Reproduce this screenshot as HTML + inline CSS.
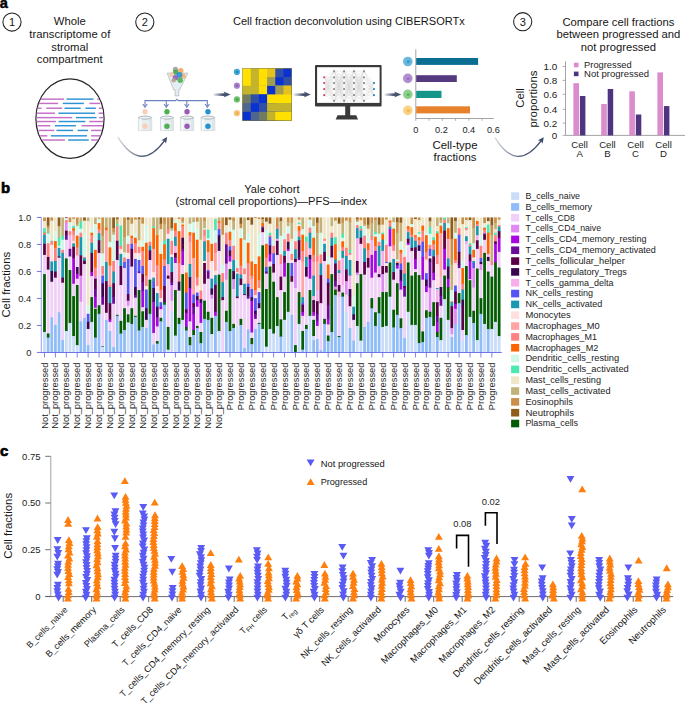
<!DOCTYPE html>
<html><head><meta charset="utf-8"><style>
html,body{margin:0;padding:0;background:#fff;}
svg{display:block;font-family:"Liberation Sans", sans-serif;}
</style></head><body>
<svg width="685" height="703" viewBox="0 0 685 703">
<rect width="685" height="703" fill="#fff"/>
<text x="-0.30" y="7.80" font-size="14.6" text-anchor="start" fill="#000" font-weight="bold" stroke="#000" stroke-width="0.45">a</text><circle cx="12.0" cy="22.0" r="9.1" fill="none" stroke="#222" stroke-width="1.05"/><text x="12.00" y="26.00" font-size="11" text-anchor="middle" fill="#141414" >1</text><circle cx="144.8" cy="22.1" r="9.1" fill="none" stroke="#222" stroke-width="1.05"/><text x="144.80" y="26.10" font-size="11" text-anchor="middle" fill="#141414" >2</text><circle cx="522.7" cy="21.7" r="9.1" fill="none" stroke="#222" stroke-width="1.05"/><text x="522.70" y="25.70" font-size="11" text-anchor="middle" fill="#141414" >3</text><text x="69.80" y="25.40" font-size="11.3" text-anchor="middle" fill="#161616" >Whole</text><text x="69.80" y="37.95" font-size="11.3" text-anchor="middle" fill="#161616" >transcriptome of</text><text x="69.80" y="50.50" font-size="11.3" text-anchor="middle" fill="#161616" >stromal</text><text x="69.80" y="63.05" font-size="11.3" text-anchor="middle" fill="#161616" >compartment</text><ellipse cx="70" cy="118.6" rx="34.1" ry="39.8" fill="#fff" stroke="#262626" stroke-width="1.2"/><rect x="40.8" y="98.39999999999999" width="23.3" height="1.45" fill="#c66fc9"/><rect x="66.5" y="98.39999999999999" width="27.0" height="1.45" fill="#2e93d6"/><rect x="97.2" y="98.39999999999999" width="1.7" height="1.45" fill="#c66fc9"/><rect x="39.2" y="102.7" width="18.9" height="1.45" fill="#c66fc9"/><rect x="62.8" y="102.7" width="21.0" height="1.45" fill="#2e93d6"/><rect x="89.5" y="102.7" width="10.8" height="1.45" fill="#c66fc9"/><rect x="37.4" y="107.5" width="4.1" height="1.45" fill="#c66fc9"/><rect x="46.2" y="107.5" width="16.0" height="1.45" fill="#c66fc9"/><rect x="64.5" y="107.5" width="16.2" height="1.45" fill="#2e93d6"/><rect x="85.4" y="107.5" width="10.5" height="1.45" fill="#2e93d6"/><rect x="98.9" y="107.5" width="3.4" height="1.45" fill="#c66fc9"/><rect x="36.8" y="112.5" width="18.2" height="1.45" fill="#c66fc9"/><rect x="58.4" y="112.5" width="36.7" height="1.45" fill="#2e93d6"/><rect x="98.6" y="112.5" width="4.4" height="1.45" fill="#c66fc9"/><rect x="36.8" y="116.89999999999999" width="35.4" height="1.45" fill="#c66fc9"/><rect x="75.9" y="116.89999999999999" width="20.6" height="1.45" fill="#2e93d6"/><rect x="99.2" y="116.89999999999999" width="3.8" height="1.45" fill="#c66fc9"/><rect x="36.8" y="120.8" width="19.1" height="1.45" fill="#c66fc9"/><rect x="58.6" y="120.8" width="26.8" height="1.45" fill="#2e93d6"/><rect x="89.2" y="120.8" width="13.8" height="1.45" fill="#c66fc9"/><rect x="37.4" y="125.0" width="12.9" height="1.45" fill="#c66fc9"/><rect x="55.0" y="125.0" width="20.9" height="1.45" fill="#2e93d6"/><rect x="81.6" y="125.0" width="21.4" height="1.45" fill="#c66fc9"/><rect x="38.8" y="129.70000000000002" width="15.5" height="1.45" fill="#c66fc9"/><rect x="56.4" y="129.70000000000002" width="16.6" height="1.45" fill="#2e93d6"/><rect x="77.6" y="129.70000000000002" width="10.5" height="1.45" fill="#2e93d6"/><rect x="91.1" y="129.70000000000002" width="10.5" height="1.45" fill="#c66fc9"/><rect x="40.1" y="135.10000000000002" width="7.2" height="1.45" fill="#c66fc9"/><rect x="50.9" y="135.10000000000002" width="36.1" height="1.45" fill="#2e93d6"/><rect x="91.1" y="135.10000000000002" width="9.2" height="1.45" fill="#c66fc9"/><rect x="42.2" y="139.3" width="22.7" height="1.45" fill="#c66fc9"/><rect x="68.2" y="139.3" width="20.6" height="1.45" fill="#2e93d6"/><rect x="91.1" y="139.3" width="7.1" height="1.45" fill="#c66fc9"/><defs><linearGradient id="cg117" gradientUnits="userSpaceOnUse" x1="117.9" y1="0" x2="167.2" y2="0"><stop offset="0" stop-color="#3b4a68" stop-opacity="0.2"/><stop offset="0.5" stop-color="#3b4a68" stop-opacity="0.85"/><stop offset="1" stop-color="#3b4a68"/></linearGradient></defs><path d="M117.9,137.1 Q140.45,173.55 164.54,140.63" fill="none" stroke="url(#cg117)" stroke-width="1.35"/><path d="M167.20,137.00 L166.00,143.55 L164.37,140.87 L161.32,140.13 Z" fill="#3b4a68"/><defs><linearGradient id="cg495" gradientUnits="userSpaceOnUse" x1="495.0" y1="0" x2="543.8" y2="0"><stop offset="0" stop-color="#3b4a68" stop-opacity="0.2"/><stop offset="0.5" stop-color="#3b4a68" stop-opacity="0.85"/><stop offset="1" stop-color="#3b4a68"/></linearGradient></defs><path d="M495.0,137.6 Q516.60,173.40 541.10,140.80" fill="none" stroke="url(#cg495)" stroke-width="1.35"/><path d="M543.80,137.20 L542.51,143.74 L540.92,141.04 L537.88,140.25 Z" fill="#3b4a68"/><defs><linearGradient id="ga213" x1="0" x2="1"><stop offset="0" stop-color="#3b4a68" stop-opacity="0.1"/><stop offset="0.55" stop-color="#3b4a68" stop-opacity="0.95"/></linearGradient></defs><path d="M213.5,93.5 L224.6,93.3 L223.6,91.6 L230.6,94.6 L223.6,97.6 L224.6,95.89999999999999 L213.5,95.69999999999999 Z" fill="url(#ga213)"/><defs><linearGradient id="ga293" x1="0" x2="1"><stop offset="0" stop-color="#3b4a68" stop-opacity="0.1"/><stop offset="0.55" stop-color="#3b4a68" stop-opacity="0.95"/></linearGradient></defs><path d="M293.5,93.5 L304.8,93.3 L303.8,91.6 L310.8,94.6 L303.8,97.6 L304.8,95.89999999999999 L293.5,95.69999999999999 Z" fill="url(#ga293)"/><defs><linearGradient id="ga384" x1="0" x2="1"><stop offset="0" stop-color="#3b4a68" stop-opacity="0.1"/><stop offset="0.55" stop-color="#3b4a68" stop-opacity="0.95"/></linearGradient></defs><path d="M384.5,93.5 L395.2,93.3 L394.2,91.6 L401.2,94.6 L394.2,97.6 L395.2,95.89999999999999 L384.5,95.69999999999999 Z" fill="url(#ga384)"/><text x="348.90" y="25.00" font-size="11.05" text-anchor="middle" fill="#161616" >Cell fraction deconvolution using CIBERSORTx</text><path d="M167.1,73.1 L187.9,73.1 L179.6,89.9 L178.8,89.9 L178.8,95.9 L175.1,95.9 L175.1,89.9 L173.7,89.9 Z" fill="#e3eff5" stroke="#a6a6a6" stroke-width="0.6"/><circle cx="175.4" cy="69.4" r="2.6" fill="#a0a0a0" fill-opacity="0.9"/><circle cx="180.8" cy="70.8" r="2.7" fill="#f3a55f" fill-opacity="0.9"/><circle cx="175.7" cy="72.2" r="2.6" fill="#46a84a" fill-opacity="0.9"/><circle cx="171.7" cy="74.8" r="2.5" fill="#f4c9ad" fill-opacity="0.9"/><circle cx="183.3" cy="76.2" r="2.5" fill="#f2b374" fill-opacity="0.9"/><circle cx="179.4" cy="75.1" r="3.0" fill="#2c8fd0" fill-opacity="0.9"/><circle cx="175.4" cy="77.7" r="2.7" fill="#8e5bbf" fill-opacity="0.9"/><circle cx="173.7" cy="80.2" r="2.2" fill="#b99f8f" fill-opacity="0.9"/><circle cx="180.2" cy="80.2" r="2.7" fill="#4ab04c" fill-opacity="0.9"/><path d="M145,106 L145,100.6 L175.6,100.6 L176.9,99.2 L178.2,100.6 L207.3,100.6 L207.3,106" fill="none" stroke="#6f82bd" stroke-width="1.1"/><path d="M166.3,100.6 L166.3,106" stroke="#6f82bd" stroke-width="1.1"/><path d="M186.8,100.6 L186.8,106" stroke="#6f82bd" stroke-width="1.1"/><path d="M142.8,104 L145,107.2 L147.2,104" fill="none" stroke="#6f82bd" stroke-width="1.1"/><path d="M164.10000000000002,104 L166.3,107.2 L168.5,104" fill="none" stroke="#6f82bd" stroke-width="1.1"/><path d="M184.60000000000002,104 L186.8,107.2 L189.0,104" fill="none" stroke="#6f82bd" stroke-width="1.1"/><path d="M205.10000000000002,104 L207.3,107.2 L209.5,104" fill="none" stroke="#6f82bd" stroke-width="1.1"/><circle cx="145.05" cy="111.8" r="2.7" fill="#f8d0b8"/><path d="M138.4,117.4 L138.4,130.6 L151.7,130.6 L151.7,117.4" fill="#e8eef1" stroke="#c5ccd0" stroke-width="0.6"/><ellipse cx="145.05" cy="117.6" rx="6.35" ry="1.5" fill="#eef3f5" stroke="#aab5bb" stroke-width="1.0"/><rect x="149.10" y="119" width="2" height="11.3" fill="#dde6ea"/><rect x="139.4" y="118.5" width="2" height="12" fill="#f7fafb"/><circle cx="145.05" cy="126.2" r="2.7" fill="#f8d0b8"/><circle cx="166.95" cy="111.8" r="2.7" fill="#4caf50"/><path d="M160.5,117.4 L160.5,130.6 L173.4,130.6 L173.4,117.4" fill="#e8eef1" stroke="#c5ccd0" stroke-width="0.6"/><ellipse cx="166.95" cy="117.6" rx="6.15" ry="1.5" fill="#eef3f5" stroke="#aab5bb" stroke-width="1.0"/><rect x="170.80" y="119" width="2" height="11.3" fill="#dde6ea"/><rect x="161.5" y="118.5" width="2" height="12" fill="#f7fafb"/><circle cx="166.95" cy="126.2" r="2.7" fill="#4caf50"/><circle cx="187.05" cy="111.8" r="2.7" fill="#9b59b6"/><path d="M180.4,117.4 L180.4,130.6 L193.7,130.6 L193.7,117.4" fill="#e8eef1" stroke="#c5ccd0" stroke-width="0.6"/><ellipse cx="187.05" cy="117.6" rx="6.35" ry="1.5" fill="#eef3f5" stroke="#aab5bb" stroke-width="1.0"/><rect x="191.10" y="119" width="2" height="11.3" fill="#dde6ea"/><rect x="181.4" y="118.5" width="2" height="12" fill="#f7fafb"/><circle cx="187.05" cy="126.2" r="2.7" fill="#9b59b6"/><circle cx="207.95" cy="111.8" r="2.7" fill="#2393cf"/><path d="M201.1,117.4 L201.1,130.6 L214.8,130.6 L214.8,117.4" fill="#e8eef1" stroke="#c5ccd0" stroke-width="0.6"/><ellipse cx="207.95" cy="117.6" rx="6.55" ry="1.5" fill="#eef3f5" stroke="#aab5bb" stroke-width="1.0"/><rect x="212.20" y="119" width="2" height="11.3" fill="#dde6ea"/><rect x="202.1" y="118.5" width="2" height="12" fill="#f7fafb"/><circle cx="207.95" cy="126.2" r="2.7" fill="#2393cf"/><circle cx="236.9" cy="71.9" r="3.1" fill="#45a8d8"/><circle cx="237.1" cy="72.0" r="1.2" fill="#1f82bd"/><circle cx="236.9" cy="85.7" r="3.1" fill="#a883cc"/><circle cx="237.1" cy="85.8" r="1.2" fill="#8e5fb8"/><circle cx="236.9" cy="99.4" r="3.1" fill="#70c070"/><circle cx="237.1" cy="99.5" r="1.2" fill="#48a448"/><circle cx="236.9" cy="113.2" r="3.1" fill="#f8c577"/><circle cx="237.1" cy="113.3" r="1.2" fill="#f0a848"/><rect x="242.60" y="68.40" width="49.00" height="52.10" fill="#ffe000"/><rect x="250.77" y="68.40" width="40.83" height="52.10" fill="#c4b42c"/><rect x="258.93" y="68.40" width="32.67" height="52.10" fill="#ffe000"/><rect x="267.10" y="68.40" width="24.50" height="52.10" fill="#e6c21c"/><rect x="275.27" y="68.40" width="16.33" height="52.10" fill="#3050a8"/><rect x="283.43" y="68.40" width="8.17" height="52.10" fill="#0a32d0"/><rect x="242.60" y="77.08" width="49.00" height="43.42" fill="#ffe000"/><rect x="250.77" y="77.08" width="40.83" height="43.42" fill="#c4b42c"/><rect x="258.93" y="77.08" width="32.67" height="43.42" fill="#ffe000"/><rect x="267.10" y="77.08" width="24.50" height="43.42" fill="#a09c50"/><rect x="275.27" y="77.08" width="16.33" height="43.42" fill="#0a32d0"/><rect x="283.43" y="77.08" width="8.17" height="43.42" fill="#3050a8"/><rect x="242.60" y="85.77" width="49.00" height="34.73" fill="#c4b42c"/><rect x="250.77" y="85.77" width="40.83" height="34.73" fill="#c4b42c"/><rect x="258.93" y="85.77" width="32.67" height="34.73" fill="#ffe000"/><rect x="267.10" y="85.77" width="24.50" height="34.73" fill="#0a32d0"/><rect x="275.27" y="85.77" width="16.33" height="34.73" fill="#a09c50"/><rect x="283.43" y="85.77" width="8.17" height="34.73" fill="#e6c21c"/><rect x="242.60" y="94.45" width="49.00" height="26.05" fill="#707c62"/><rect x="250.77" y="94.45" width="40.83" height="26.05" fill="#3050a8"/><rect x="258.93" y="94.45" width="32.67" height="26.05" fill="#0a32d0"/><rect x="267.10" y="94.45" width="24.50" height="26.05" fill="#ffe000"/><rect x="275.27" y="94.45" width="16.33" height="26.05" fill="#ffe000"/><rect x="283.43" y="94.45" width="8.17" height="26.05" fill="#ffe000"/><rect x="242.60" y="103.13" width="49.00" height="17.37" fill="#4e6690"/><rect x="250.77" y="103.13" width="40.83" height="17.37" fill="#0a32d0"/><rect x="258.93" y="103.13" width="32.67" height="17.37" fill="#3050a8"/><rect x="267.10" y="103.13" width="24.50" height="17.37" fill="#c4b42c"/><rect x="275.27" y="103.13" width="16.33" height="17.37" fill="#c4b42c"/><rect x="283.43" y="103.13" width="8.17" height="17.37" fill="#c4b42c"/><rect x="242.60" y="111.82" width="49.00" height="8.68" fill="#0a32d0"/><rect x="250.77" y="111.82" width="40.83" height="8.68" fill="#4e6690"/><rect x="258.93" y="111.82" width="32.67" height="8.68" fill="#707c62"/><rect x="267.10" y="111.82" width="24.50" height="8.68" fill="#c4b42c"/><rect x="275.27" y="111.82" width="16.33" height="8.68" fill="#ffe000"/><rect x="283.43" y="111.82" width="8.17" height="8.68" fill="#ffe000"/><rect x="242.6" y="68.4" width="49.00" height="52.10" fill="none" stroke="#7a7440" stroke-width="0.5"/><rect x="315.0" y="64.9" width="66.6" height="41.5" rx="1" fill="#3a3a3a"/><rect x="317.1" y="67.2" width="62.5" height="35.7" fill="#fff"/><rect x="345.2" y="105" width="5" height="11" fill="#3a3a3a"/><path d="M337.5,115.3 L356.2,115.3 L358,119.6 L335.7,119.6 Z" fill="#3a3a3a"/><path d="M324.2,77.3L334.1,71.2M324.2,77.3L334.1,77.3M324.2,77.3L334.1,83.0M324.2,77.3L334.1,89.1M324.2,77.3L334.1,95.2M324.2,77.3L334.1,100.9M324.2,83.0L334.1,71.2M324.2,83.0L334.1,77.3M324.2,83.0L334.1,83.0M324.2,83.0L334.1,89.1M324.2,83.0L334.1,95.2M324.2,83.0L334.1,100.9M324.2,89.1L334.1,71.2M324.2,89.1L334.1,77.3M324.2,89.1L334.1,83.0M324.2,89.1L334.1,89.1M324.2,89.1L334.1,95.2M324.2,89.1L334.1,100.9M324.2,95.2L334.1,71.2M324.2,95.2L334.1,77.3M324.2,95.2L334.1,83.0M324.2,95.2L334.1,89.1M324.2,95.2L334.1,95.2M324.2,95.2L334.1,100.9M334.1,71.2L344.1,71.2M334.1,71.2L344.1,77.3M334.1,71.2L344.1,83.0M334.1,71.2L344.1,89.1M334.1,71.2L344.1,95.2M334.1,71.2L344.1,100.9M334.1,77.3L344.1,71.2M334.1,77.3L344.1,77.3M334.1,77.3L344.1,83.0M334.1,77.3L344.1,89.1M334.1,77.3L344.1,95.2M334.1,77.3L344.1,100.9M334.1,83.0L344.1,71.2M334.1,83.0L344.1,77.3M334.1,83.0L344.1,83.0M334.1,83.0L344.1,89.1M334.1,83.0L344.1,95.2M334.1,83.0L344.1,100.9M334.1,89.1L344.1,71.2M334.1,89.1L344.1,77.3M334.1,89.1L344.1,83.0M334.1,89.1L344.1,89.1M334.1,89.1L344.1,95.2M334.1,89.1L344.1,100.9M334.1,95.2L344.1,71.2M334.1,95.2L344.1,77.3M334.1,95.2L344.1,83.0M334.1,95.2L344.1,89.1M334.1,95.2L344.1,95.2M334.1,95.2L344.1,100.9M334.1,100.9L344.1,71.2M334.1,100.9L344.1,77.3M334.1,100.9L344.1,83.0M334.1,100.9L344.1,89.1M334.1,100.9L344.1,95.2M334.1,100.9L344.1,100.9M344.1,71.2L354.0,71.2M344.1,71.2L354.0,77.3M344.1,71.2L354.0,83.0M344.1,71.2L354.0,89.1M344.1,71.2L354.0,95.2M344.1,71.2L354.0,100.9M344.1,77.3L354.0,71.2M344.1,77.3L354.0,77.3M344.1,77.3L354.0,83.0M344.1,77.3L354.0,89.1M344.1,77.3L354.0,95.2M344.1,77.3L354.0,100.9M344.1,83.0L354.0,71.2M344.1,83.0L354.0,77.3M344.1,83.0L354.0,83.0M344.1,83.0L354.0,89.1M344.1,83.0L354.0,95.2M344.1,83.0L354.0,100.9M344.1,89.1L354.0,71.2M344.1,89.1L354.0,77.3M344.1,89.1L354.0,83.0M344.1,89.1L354.0,89.1M344.1,89.1L354.0,95.2M344.1,89.1L354.0,100.9M344.1,95.2L354.0,71.2M344.1,95.2L354.0,77.3M344.1,95.2L354.0,83.0M344.1,95.2L354.0,89.1M344.1,95.2L354.0,95.2M344.1,95.2L354.0,100.9M344.1,100.9L354.0,71.2M344.1,100.9L354.0,77.3M344.1,100.9L354.0,83.0M344.1,100.9L354.0,89.1M344.1,100.9L354.0,95.2M344.1,100.9L354.0,100.9M354.0,71.2L364.0,71.2M354.0,71.2L364.0,77.3M354.0,71.2L364.0,83.0M354.0,71.2L364.0,89.1M354.0,71.2L364.0,95.2M354.0,71.2L364.0,100.9M354.0,77.3L364.0,71.2M354.0,77.3L364.0,77.3M354.0,77.3L364.0,83.0M354.0,77.3L364.0,89.1M354.0,77.3L364.0,95.2M354.0,77.3L364.0,100.9M354.0,83.0L364.0,71.2M354.0,83.0L364.0,77.3M354.0,83.0L364.0,83.0M354.0,83.0L364.0,89.1M354.0,83.0L364.0,95.2M354.0,83.0L364.0,100.9M354.0,89.1L364.0,71.2M354.0,89.1L364.0,77.3M354.0,89.1L364.0,83.0M354.0,89.1L364.0,89.1M354.0,89.1L364.0,95.2M354.0,89.1L364.0,100.9M354.0,95.2L364.0,71.2M354.0,95.2L364.0,77.3M354.0,95.2L364.0,83.0M354.0,95.2L364.0,89.1M354.0,95.2L364.0,95.2M354.0,95.2L364.0,100.9M354.0,100.9L364.0,71.2M354.0,100.9L364.0,77.3M354.0,100.9L364.0,83.0M354.0,100.9L364.0,89.1M354.0,100.9L364.0,95.2M354.0,100.9L364.0,100.9M364.0,71.2L374.0,83.0M364.0,71.2L374.0,89.1M364.0,71.2L374.0,95.2M364.0,77.3L374.0,83.0M364.0,77.3L374.0,89.1M364.0,77.3L374.0,95.2M364.0,83.0L374.0,83.0M364.0,83.0L374.0,89.1M364.0,83.0L374.0,95.2M364.0,89.1L374.0,83.0M364.0,89.1L374.0,89.1M364.0,89.1L374.0,95.2M364.0,95.2L374.0,83.0M364.0,95.2L374.0,89.1M364.0,95.2L374.0,95.2M364.0,100.9L374.0,83.0M364.0,100.9L374.0,89.1M364.0,100.9L374.0,95.2" stroke="#c8c8c8" stroke-width="0.3" fill="none"/><rect x="323.3" y="76.39999999999999" width="1.8" height="1.8" fill="#d33a5a"/><rect x="323.3" y="82.1" width="1.8" height="1.8" fill="#d33a5a"/><rect x="323.3" y="88.19999999999999" width="1.8" height="1.8" fill="#d33a5a"/><rect x="323.3" y="94.3" width="1.8" height="1.8" fill="#d33a5a"/><rect x="333.20000000000005" y="70.3" width="1.8" height="1.8" fill="#8a8a8a"/><rect x="333.20000000000005" y="76.39999999999999" width="1.8" height="1.8" fill="#8a8a8a"/><rect x="333.20000000000005" y="82.1" width="1.8" height="1.8" fill="#8a8a8a"/><rect x="333.20000000000005" y="88.19999999999999" width="1.8" height="1.8" fill="#8a8a8a"/><rect x="333.20000000000005" y="94.3" width="1.8" height="1.8" fill="#8a8a8a"/><rect x="333.20000000000005" y="100.0" width="1.8" height="1.8" fill="#8a8a8a"/><rect x="343.20000000000005" y="70.3" width="1.8" height="1.8" fill="#8a8a8a"/><rect x="343.20000000000005" y="76.39999999999999" width="1.8" height="1.8" fill="#8a8a8a"/><rect x="343.20000000000005" y="82.1" width="1.8" height="1.8" fill="#8a8a8a"/><rect x="343.20000000000005" y="88.19999999999999" width="1.8" height="1.8" fill="#8a8a8a"/><rect x="343.20000000000005" y="94.3" width="1.8" height="1.8" fill="#8a8a8a"/><rect x="343.20000000000005" y="100.0" width="1.8" height="1.8" fill="#8a8a8a"/><rect x="353.1" y="70.3" width="1.8" height="1.8" fill="#8a8a8a"/><rect x="353.1" y="76.39999999999999" width="1.8" height="1.8" fill="#8a8a8a"/><rect x="353.1" y="82.1" width="1.8" height="1.8" fill="#8a8a8a"/><rect x="353.1" y="88.19999999999999" width="1.8" height="1.8" fill="#8a8a8a"/><rect x="353.1" y="94.3" width="1.8" height="1.8" fill="#8a8a8a"/><rect x="353.1" y="100.0" width="1.8" height="1.8" fill="#8a8a8a"/><rect x="363.1" y="70.3" width="1.8" height="1.8" fill="#8a8a8a"/><rect x="363.1" y="76.39999999999999" width="1.8" height="1.8" fill="#8a8a8a"/><rect x="363.1" y="82.1" width="1.8" height="1.8" fill="#8a8a8a"/><rect x="363.1" y="88.19999999999999" width="1.8" height="1.8" fill="#8a8a8a"/><rect x="363.1" y="94.3" width="1.8" height="1.8" fill="#8a8a8a"/><rect x="363.1" y="100.0" width="1.8" height="1.8" fill="#8a8a8a"/><rect x="373.1" y="82.1" width="1.8" height="1.8" fill="#1f7fc0"/><rect x="373.1" y="88.19999999999999" width="1.8" height="1.8" fill="#1f7fc0"/><rect x="373.1" y="94.3" width="1.8" height="1.8" fill="#1f7fc0"/><path d="M415.8,49.4 L415.8,118.5 L493.8,118.5" fill="none" stroke="#9a9a9a" stroke-width="0.9"/><path d="M415.80,118.5 L415.80,120.8" stroke="#9a9a9a" stroke-width="0.8"/><path d="M429.05,118.5 L429.05,120.8" stroke="#9a9a9a" stroke-width="0.8"/><path d="M442.30,118.5 L442.30,120.8" stroke="#9a9a9a" stroke-width="0.8"/><path d="M455.55,118.5 L455.55,120.8" stroke="#9a9a9a" stroke-width="0.8"/><path d="M468.80,118.5 L468.80,120.8" stroke="#9a9a9a" stroke-width="0.8"/><path d="M482.05,118.5 L482.05,120.8" stroke="#9a9a9a" stroke-width="0.8"/><text x="415.80" y="133.00" font-size="9.2" text-anchor="middle" fill="#1c1c1c" >0</text><text x="441.40" y="133.00" font-size="9.2" text-anchor="middle" fill="#1c1c1c" >0.2</text><text x="468.80" y="133.00" font-size="9.2" text-anchor="middle" fill="#1c1c1c" >0.4</text><text x="493.40" y="133.00" font-size="9.2" text-anchor="middle" fill="#1c1c1c" >0.6</text><text x="455.00" y="149.00" font-size="11.4" text-anchor="middle" fill="#161616" >Cell-type</text><text x="455.00" y="160.70" font-size="11.4" text-anchor="middle" fill="#161616" >fractions</text><rect x="416.2" y="58.0" width="61.9" height="6.9" fill="#0b6d92"/><rect x="416.2" y="75.2" width="40.6" height="6.8" fill="#553a80"/><rect x="416.2" y="90.8" width="25.3" height="7.2" fill="#15968b"/><rect x="416.2" y="106.3" width="53.8" height="7.1" fill="#e7812c"/><circle cx="407.8" cy="61.5" r="4.8" fill="#6db9dd"/><circle cx="408.3" cy="61.8" r="1.7" fill="#3d9dcb"/><circle cx="407.8" cy="78.4" r="4.8" fill="#b290d0"/><circle cx="408.3" cy="78.7" r="1.7" fill="#a070c8"/><circle cx="407.8" cy="94.4" r="4.8" fill="#8fd08f"/><circle cx="408.3" cy="94.7" r="1.7" fill="#5fb85f"/><circle cx="407.8" cy="110.4" r="4.8" fill="#fbd383"/><circle cx="408.3" cy="110.7" r="1.7" fill="#f2b862"/><text x="618.40" y="25.50" font-size="11.25" text-anchor="middle" fill="#161616" >Compare cell fractions</text><text x="618.40" y="38.15" font-size="11.25" text-anchor="middle" fill="#161616" >between progressed and</text><text x="618.40" y="50.80" font-size="11.25" text-anchor="middle" fill="#161616" >not progressed</text><path d="M565.5,61.2 L565.5,135.4 L685,135.4" fill="none" stroke="#9a9a9a" stroke-width="0.9"/><path d="M562.6,135.40 L565.5,135.40" stroke="#9a9a9a" stroke-width="0.8"/><text x="557.20" y="138.90" font-size="9.9" text-anchor="end" fill="#1c1c1c" >0</text><path d="M562.6,123.10 L565.5,123.10" stroke="#9a9a9a" stroke-width="0.8"/><text x="557.20" y="126.60" font-size="9.9" text-anchor="end" fill="#1c1c1c" >0.2</text><path d="M562.6,109.40 L565.5,109.40" stroke="#9a9a9a" stroke-width="0.8"/><text x="557.20" y="112.90" font-size="9.9" text-anchor="end" fill="#1c1c1c" >0.4</text><path d="M562.6,94.30 L565.5,94.30" stroke="#9a9a9a" stroke-width="0.8"/><text x="557.20" y="97.80" font-size="9.9" text-anchor="end" fill="#1c1c1c" >0.6</text><path d="M562.6,80.40 L565.5,80.40" stroke="#9a9a9a" stroke-width="0.8"/><text x="557.20" y="83.90" font-size="9.9" text-anchor="end" fill="#1c1c1c" >0.8</text><path d="M562.6,66.50 L565.5,66.50" stroke="#9a9a9a" stroke-width="0.8"/><text x="557.20" y="70.00" font-size="9.9" text-anchor="end" fill="#1c1c1c" >1.0</text><rect x="573.4" y="83.20" width="5.6" height="52.20" fill="#da8ccd"/><rect x="579.9" y="96.00" width="5.5" height="39.40" fill="#4f3480"/><rect x="601.2" y="104.00" width="5.6" height="31.40" fill="#da8ccd"/><rect x="607.7" y="89.00" width="5.5" height="46.40" fill="#4f3480"/><rect x="629.3" y="91.30" width="5.6" height="44.10" fill="#da8ccd"/><rect x="635.8" y="114.50" width="5.5" height="20.90" fill="#4f3480"/><rect x="657.4" y="72.40" width="5.6" height="63.00" fill="#da8ccd"/><rect x="663.9" y="106.10" width="5.5" height="29.30" fill="#4f3480"/><text x="579.60" y="147.60" font-size="9.6" text-anchor="middle" fill="#1c1c1c" >Cell</text><text x="579.60" y="157.30" font-size="9.6" text-anchor="middle" fill="#1c1c1c" >A</text><text x="607.40" y="147.60" font-size="9.6" text-anchor="middle" fill="#1c1c1c" >Cell</text><text x="607.40" y="157.30" font-size="9.6" text-anchor="middle" fill="#1c1c1c" >B</text><text x="635.50" y="147.60" font-size="9.6" text-anchor="middle" fill="#1c1c1c" >Cell</text><text x="635.50" y="157.30" font-size="9.6" text-anchor="middle" fill="#1c1c1c" >C</text><text x="663.50" y="147.60" font-size="9.6" text-anchor="middle" fill="#1c1c1c" >Cell</text><text x="663.50" y="157.30" font-size="9.6" text-anchor="middle" fill="#1c1c1c" >D</text><rect x="573.9" y="62.7" width="4.6" height="4.6" fill="#da8ccd"/><rect x="573.9" y="71.6" width="4.6" height="4.6" fill="#4f3480"/><text x="584.10" y="67.80" font-size="9.3" text-anchor="start" fill="#1c1c1c" >Progressed</text><text x="584.10" y="76.70" font-size="9.5" text-anchor="start" fill="#1c1c1c" >Not progressed</text><text x="524.20" y="98.00" font-size="11.2" text-anchor="middle" fill="#161616" transform="rotate(-90 524.2 98.0)">Cell</text><text x="537.30" y="99.00" font-size="11.4" text-anchor="middle" fill="#161616" transform="rotate(-90 537.3 99.0)">proportions</text><text x="0.90" y="192.60" font-size="14.8" text-anchor="start" fill="#000" font-weight="bold" stroke="#000" stroke-width="0.7">b</text><text x="271.90" y="193.10" font-size="11.1" text-anchor="middle" fill="#161616" >Yale cohort</text><text x="271.30" y="204.70" font-size="11.05" text-anchor="middle" fill="#161616" >(stromal cell proportions)—PFS—index</text><text x="9.70" y="284.70" font-size="11.4" text-anchor="middle" fill="#161616" transform="rotate(-90 9.7 284.7)">Cell fractions</text><g><rect x="43.10" y="217.40" width="2.78" height="4.17" fill="#c99049"/><rect x="43.10" y="221.07" width="2.78" height="7.57" fill="#efe6c9"/><rect x="43.10" y="228.14" width="2.78" height="5.05" fill="#4ce8b2"/><rect x="43.10" y="232.69" width="2.78" height="1.21" fill="#ff6200"/><rect x="43.10" y="233.39" width="2.78" height="1.81" fill="#ff8282"/><rect x="43.10" y="234.71" width="2.78" height="9.59" fill="#1a98b0"/><rect x="43.10" y="243.80" width="2.78" height="11.61" fill="#5a0049"/><rect x="43.10" y="254.91" width="2.78" height="19.69" fill="#f1d0f8"/><rect x="43.10" y="274.10" width="2.78" height="58.37" fill="#045c04"/><rect x="43.10" y="331.97" width="2.78" height="20.53" fill="#c9ddf8"/><rect x="46.74" y="217.40" width="2.78" height="8.72" fill="#8e5d1a"/><rect x="46.74" y="225.62" width="2.78" height="3.03" fill="#c99049"/><rect x="46.74" y="228.14" width="2.78" height="5.05" fill="#c2b27a"/><rect x="46.74" y="232.69" width="2.78" height="1.51" fill="#4ce8b2"/><rect x="46.74" y="233.70" width="2.78" height="10.10" fill="#d2f8e9"/><rect x="46.74" y="243.29" width="2.78" height="14.14" fill="#ff8282"/><rect x="46.74" y="256.93" width="2.78" height="13.13" fill="#5a0049"/><rect x="46.74" y="269.56" width="2.78" height="64.43" fill="#f1d0f8"/><rect x="46.74" y="333.48" width="2.78" height="4.54" fill="#045c04"/><rect x="46.74" y="337.53" width="2.78" height="14.97" fill="#90bdf7"/><rect x="50.37" y="217.40" width="2.78" height="3.67" fill="#c99049"/><rect x="50.37" y="220.57" width="2.78" height="20.70" fill="#efe6c9"/><rect x="50.37" y="240.77" width="2.78" height="1.21" fill="#4ce8b2"/><rect x="50.37" y="241.47" width="2.78" height="3.83" fill="#ff8282"/><rect x="50.37" y="244.81" width="2.78" height="17.17" fill="#ffe0e0"/><rect x="50.37" y="261.47" width="2.78" height="10.10" fill="#1a98b0"/><rect x="50.37" y="271.07" width="2.78" height="11.11" fill="#3a064f"/><rect x="50.37" y="281.68" width="2.78" height="36.15" fill="#f1d0f8"/><rect x="50.37" y="317.32" width="2.78" height="35.18" fill="#90bdf7"/><rect x="54.01" y="217.40" width="2.78" height="14.27" fill="#efe6c9"/><rect x="54.01" y="231.17" width="2.78" height="10.40" fill="#d2f8e9"/><rect x="54.01" y="241.07" width="2.78" height="7.27" fill="#ff6200"/><rect x="54.01" y="247.84" width="2.78" height="13.63" fill="#ff8282"/><rect x="54.01" y="260.97" width="2.78" height="11.11" fill="#1a98b0"/><rect x="54.01" y="271.58" width="2.78" height="6.56" fill="#5a0049"/><rect x="54.01" y="277.64" width="2.78" height="47.76" fill="#f1d0f8"/><rect x="54.01" y="324.90" width="2.78" height="27.60" fill="#90bdf7"/><rect x="57.65" y="217.40" width="2.78" height="9.22" fill="#8e5d1a"/><rect x="57.65" y="226.12" width="2.78" height="12.12" fill="#c2b27a"/><rect x="57.65" y="237.74" width="2.78" height="8.58" fill="#4ce8b2"/><rect x="57.65" y="245.82" width="2.78" height="2.52" fill="#d2f8e9"/><rect x="57.65" y="247.84" width="2.78" height="9.09" fill="#1a98b0"/><rect x="57.65" y="256.42" width="2.78" height="1.71" fill="#5a0049"/><rect x="57.65" y="257.64" width="2.78" height="55.14" fill="#f1d0f8"/><rect x="57.65" y="312.27" width="2.78" height="40.23" fill="#90bdf7"/><rect x="61.28" y="217.40" width="2.78" height="18.82" fill="#c2b27a"/><rect x="61.28" y="235.72" width="2.78" height="4.54" fill="#4ce8b2"/><rect x="61.28" y="239.76" width="2.78" height="10.60" fill="#d2f8e9"/><rect x="61.28" y="249.86" width="2.78" height="3.53" fill="#ff8282"/><rect x="61.28" y="252.89" width="2.78" height="25.25" fill="#1a98b0"/><rect x="61.28" y="277.64" width="2.78" height="5.55" fill="#5a0049"/><rect x="61.28" y="282.69" width="2.78" height="57.86" fill="#f1d0f8"/><rect x="61.28" y="340.05" width="2.78" height="12.45" fill="#90bdf7"/><rect x="64.92" y="217.40" width="2.78" height="1.14" fill="#5a0049"/><rect x="64.92" y="218.04" width="2.78" height="2.52" fill="#d2f8e9"/><rect x="64.92" y="220.06" width="2.78" height="3.33" fill="#ff8282"/><rect x="64.92" y="222.89" width="2.78" height="8.28" fill="#de8af2"/><rect x="64.92" y="230.67" width="2.78" height="4.54" fill="#5a0049"/><rect x="64.92" y="234.71" width="2.78" height="5.55" fill="#6b0c98"/><rect x="64.92" y="239.76" width="2.78" height="19.19" fill="#f1d0f8"/><rect x="64.92" y="258.44" width="2.78" height="73.02" fill="#045c04"/><rect x="64.92" y="330.96" width="2.78" height="21.54" fill="#c9ddf8"/><rect x="68.56" y="217.40" width="2.78" height="5.18" fill="#c99049"/><rect x="68.56" y="222.08" width="2.78" height="9.59" fill="#d2f8e9"/><rect x="68.56" y="231.17" width="2.78" height="4.04" fill="#ff8282"/><rect x="68.56" y="234.71" width="2.78" height="14.64" fill="#f6aeea"/><rect x="68.56" y="248.85" width="2.78" height="8.08" fill="#6b0c98"/><rect x="68.56" y="256.42" width="2.78" height="14.14" fill="#f1d0f8"/><rect x="68.56" y="270.06" width="2.78" height="53.32" fill="#045c04"/><rect x="68.56" y="322.88" width="2.78" height="29.62" fill="#c9ddf8"/><rect x="72.20" y="217.40" width="2.78" height="1.95" fill="#c99049"/><rect x="72.20" y="218.85" width="2.78" height="7.57" fill="#efe6c9"/><rect x="72.20" y="225.92" width="2.78" height="2.72" fill="#4ce8b2"/><rect x="72.20" y="228.14" width="2.78" height="3.03" fill="#ff6200"/><rect x="72.20" y="230.67" width="2.78" height="5.05" fill="#ff8282"/><rect x="72.20" y="235.21" width="2.78" height="6.06" fill="#ffa3a3"/><rect x="72.20" y="240.77" width="2.78" height="3.03" fill="#ffe0e0"/><rect x="72.20" y="243.29" width="2.78" height="4.04" fill="#1a98b0"/><rect x="72.20" y="246.83" width="2.78" height="11.61" fill="#5a0049"/><rect x="72.20" y="257.94" width="2.78" height="26.26" fill="#a708e0"/><rect x="72.20" y="283.70" width="2.78" height="12.91" fill="#f1d0f8"/><rect x="72.20" y="296.11" width="2.78" height="40.40" fill="#045c04"/><rect x="72.20" y="336.01" width="2.78" height="16.49" fill="#c9ddf8"/><rect x="75.83" y="217.40" width="2.78" height="7.20" fill="#c99049"/><rect x="75.83" y="224.10" width="2.78" height="2.52" fill="#c2b27a"/><rect x="75.83" y="226.12" width="2.78" height="10.10" fill="#d2f8e9"/><rect x="75.83" y="235.72" width="2.78" height="12.12" fill="#ff6200"/><rect x="75.83" y="247.33" width="2.78" height="8.58" fill="#ff8282"/><rect x="75.83" y="255.41" width="2.78" height="12.12" fill="#f1d0f8"/><rect x="75.83" y="267.03" width="2.78" height="7.07" fill="#3a064f"/><rect x="75.83" y="273.60" width="2.78" height="5.55" fill="#a708e0"/><rect x="75.83" y="278.65" width="2.78" height="6.85" fill="#f1d0f8"/><rect x="75.83" y="285.00" width="2.78" height="60.60" fill="#045c04"/><rect x="75.83" y="345.10" width="2.78" height="7.40" fill="#c9ddf8"/><rect x="79.47" y="217.40" width="2.78" height="4.68" fill="#c2b27a"/><rect x="79.47" y="221.58" width="2.78" height="7.57" fill="#4ce8b2"/><rect x="79.47" y="228.65" width="2.78" height="4.54" fill="#d2f8e9"/><rect x="79.47" y="232.69" width="2.78" height="5.05" fill="#ff8282"/><rect x="79.47" y="237.23" width="2.78" height="18.68" fill="#1a98b0"/><rect x="79.47" y="255.41" width="2.78" height="20.70" fill="#5a0049"/><rect x="79.47" y="275.62" width="2.78" height="26.55" fill="#de8af2"/><rect x="79.47" y="301.67" width="2.78" height="20.20" fill="#f1d0f8"/><rect x="79.47" y="321.36" width="2.78" height="31.14" fill="#90bdf7"/><rect x="83.11" y="217.40" width="2.78" height="3.67" fill="#8e5d1a"/><rect x="83.11" y="220.57" width="2.78" height="12.62" fill="#efe6c9"/><rect x="83.11" y="232.69" width="2.78" height="24.74" fill="#d2f8e9"/><rect x="83.11" y="256.93" width="2.78" height="1.51" fill="#ff8282"/><rect x="83.11" y="257.94" width="2.78" height="3.23" fill="#1a98b0"/><rect x="83.11" y="260.67" width="2.78" height="3.83" fill="#5a0049"/><rect x="83.11" y="264.00" width="2.78" height="54.33" fill="#f1d0f8"/><rect x="83.11" y="317.83" width="2.78" height="34.67" fill="#90bdf7"/><rect x="86.74" y="217.40" width="2.78" height="4.17" fill="#c2b27a"/><rect x="86.74" y="221.07" width="2.78" height="84.63" fill="#efe6c9"/><rect x="86.74" y="305.20" width="2.78" height="9.09" fill="#d2f8e9"/><rect x="86.74" y="313.79" width="2.78" height="8.58" fill="#5555f6"/><rect x="86.74" y="321.87" width="2.78" height="7.57" fill="#3a064f"/><rect x="86.74" y="328.94" width="2.78" height="16.66" fill="#f1d0f8"/><rect x="86.74" y="345.10" width="2.78" height="7.40" fill="#90bdf7"/><rect x="90.38" y="217.40" width="2.78" height="10.74" fill="#efe6c9"/><rect x="90.38" y="227.64" width="2.78" height="5.55" fill="#d2f8e9"/><rect x="90.38" y="232.69" width="2.78" height="3.03" fill="#ff6200"/><rect x="90.38" y="235.21" width="2.78" height="8.08" fill="#ff8282"/><rect x="90.38" y="242.79" width="2.78" height="10.60" fill="#1a98b0"/><rect x="90.38" y="252.89" width="2.78" height="19.69" fill="#5a0049"/><rect x="90.38" y="272.08" width="2.78" height="4.54" fill="#a708e0"/><rect x="90.38" y="276.12" width="2.78" height="21.50" fill="#f1d0f8"/><rect x="90.38" y="297.12" width="2.78" height="25.25" fill="#045c04"/><rect x="90.38" y="321.87" width="2.78" height="30.63" fill="#c9ddf8"/><rect x="94.02" y="217.40" width="2.78" height="7.20" fill="#c2b27a"/><rect x="94.02" y="224.10" width="2.78" height="26.26" fill="#d2f8e9"/><rect x="94.02" y="249.86" width="2.78" height="18.18" fill="#ff6200"/><rect x="94.02" y="267.54" width="2.78" height="9.59" fill="#ff8282"/><rect x="94.02" y="276.63" width="2.78" height="2.52" fill="#de8af2"/><rect x="94.02" y="278.65" width="2.78" height="10.89" fill="#5a0049"/><rect x="94.02" y="289.04" width="2.78" height="8.08" fill="#6b0c98"/><rect x="94.02" y="296.62" width="2.78" height="11.61" fill="#a708e0"/><rect x="94.02" y="307.73" width="2.78" height="1.51" fill="#f1d0f8"/><rect x="94.02" y="308.74" width="2.78" height="29.29" fill="#045c04"/><rect x="94.02" y="337.53" width="2.78" height="14.97" fill="#90bdf7"/><rect x="97.66" y="217.40" width="2.78" height="2.15" fill="#c2b27a"/><rect x="97.66" y="219.05" width="2.78" height="4.54" fill="#d2f8e9"/><rect x="97.66" y="223.09" width="2.78" height="6.56" fill="#ff6200"/><rect x="97.66" y="229.15" width="2.78" height="4.54" fill="#ff8282"/><rect x="97.66" y="233.19" width="2.78" height="7.57" fill="#1a98b0"/><rect x="97.66" y="240.26" width="2.78" height="13.13" fill="#5a0049"/><rect x="97.66" y="252.89" width="2.78" height="52.81" fill="#f1d0f8"/><rect x="97.66" y="305.20" width="2.78" height="9.09" fill="#045c04"/><rect x="97.66" y="313.79" width="2.78" height="38.71" fill="#90bdf7"/><rect x="101.29" y="217.40" width="2.78" height="18.82" fill="#c99049"/><rect x="101.29" y="235.72" width="2.78" height="18.18" fill="#c2b27a"/><rect x="101.29" y="253.39" width="2.78" height="13.13" fill="#d2f8e9"/><rect x="101.29" y="266.02" width="2.78" height="8.08" fill="#ff8282"/><rect x="101.29" y="273.60" width="2.78" height="2.52" fill="#ffa3a3"/><rect x="101.29" y="275.62" width="2.78" height="8.08" fill="#5555f6"/><rect x="101.29" y="283.19" width="2.78" height="13.92" fill="#3a064f"/><rect x="101.29" y="296.62" width="2.78" height="8.58" fill="#6b0c98"/><rect x="101.29" y="304.70" width="2.78" height="41.91" fill="#f1d0f8"/><rect x="101.29" y="346.11" width="2.78" height="1.01" fill="#045c04"/><rect x="101.29" y="346.62" width="2.78" height="5.88" fill="#c9ddf8"/><rect x="104.93" y="217.40" width="2.78" height="10.74" fill="#c2b27a"/><rect x="104.93" y="227.64" width="2.78" height="3.03" fill="#ff6200"/><rect x="104.93" y="230.16" width="2.78" height="32.32" fill="#ffa3a3"/><rect x="104.93" y="261.98" width="2.78" height="19.69" fill="#1a98b0"/><rect x="104.93" y="281.17" width="2.78" height="32.11" fill="#5a0049"/><rect x="104.93" y="312.78" width="2.78" height="7.57" fill="#f1d0f8"/><rect x="104.93" y="319.85" width="2.78" height="32.65" fill="#90bdf7"/><rect x="108.57" y="217.40" width="2.78" height="24.88" fill="#c2b27a"/><rect x="108.57" y="241.78" width="2.78" height="6.06" fill="#d2f8e9"/><rect x="108.57" y="247.33" width="2.78" height="18.68" fill="#ff6200"/><rect x="108.57" y="265.52" width="2.78" height="19.98" fill="#ffa3a3"/><rect x="108.57" y="285.00" width="2.78" height="2.52" fill="#ff8282"/><rect x="108.57" y="287.02" width="2.78" height="16.66" fill="#1a98b0"/><rect x="108.57" y="303.18" width="2.78" height="16.66" fill="#5a0049"/><rect x="108.57" y="319.34" width="2.78" height="3.03" fill="#a708e0"/><rect x="108.57" y="321.87" width="2.78" height="9.59" fill="#f1d0f8"/><rect x="108.57" y="330.96" width="2.78" height="21.54" fill="#90bdf7"/><rect x="112.20" y="217.40" width="2.78" height="11.24" fill="#8e5d1a"/><rect x="112.20" y="228.14" width="2.78" height="4.54" fill="#c99049"/><rect x="112.20" y="232.18" width="2.78" height="3.03" fill="#c2b27a"/><rect x="112.20" y="234.71" width="2.78" height="26.76" fill="#d2f8e9"/><rect x="112.20" y="260.97" width="2.78" height="11.11" fill="#ff8282"/><rect x="112.20" y="271.58" width="2.78" height="12.12" fill="#1a98b0"/><rect x="112.20" y="283.19" width="2.78" height="13.92" fill="#5a0049"/><rect x="112.20" y="296.62" width="2.78" height="7.57" fill="#6b0c98"/><rect x="112.20" y="303.69" width="2.78" height="43.93" fill="#f1d0f8"/><rect x="112.20" y="347.12" width="2.78" height="5.38" fill="#90bdf7"/><rect x="115.84" y="217.40" width="2.78" height="2.15" fill="#8e5d1a"/><rect x="115.84" y="219.05" width="2.78" height="5.05" fill="#c2b27a"/><rect x="115.84" y="223.60" width="2.78" height="3.03" fill="#4ce8b2"/><rect x="115.84" y="226.12" width="2.78" height="15.15" fill="#ff8282"/><rect x="115.84" y="240.77" width="2.78" height="19.69" fill="#5a0049"/><rect x="115.84" y="259.96" width="2.78" height="55.34" fill="#f1d0f8"/><rect x="115.84" y="314.80" width="2.78" height="1.51" fill="#045c04"/><rect x="115.84" y="315.81" width="2.78" height="36.69" fill="#90bdf7"/><rect x="119.48" y="217.40" width="2.78" height="8.72" fill="#efe6c9"/><rect x="119.48" y="225.62" width="2.78" height="20.70" fill="#4ce8b2"/><rect x="119.48" y="245.82" width="2.78" height="3.53" fill="#ff8282"/><rect x="119.48" y="248.85" width="2.78" height="5.55" fill="#ffe0e0"/><rect x="119.48" y="253.90" width="2.78" height="12.62" fill="#1a98b0"/><rect x="119.48" y="266.02" width="2.78" height="19.48" fill="#5a0049"/><rect x="119.48" y="285.00" width="2.78" height="36.36" fill="#f1d0f8"/><rect x="119.48" y="320.86" width="2.78" height="13.13" fill="#045c04"/><rect x="119.48" y="333.48" width="2.78" height="19.02" fill="#90bdf7"/><rect x="123.11" y="217.40" width="2.78" height="20.33" fill="#c99049"/><rect x="123.11" y="237.23" width="2.78" height="15.65" fill="#c2b27a"/><rect x="123.11" y="252.38" width="2.78" height="5.55" fill="#d2f8e9"/><rect x="123.11" y="257.43" width="2.78" height="5.05" fill="#ff8282"/><rect x="123.11" y="261.98" width="2.78" height="6.56" fill="#5555f6"/><rect x="123.11" y="268.04" width="2.78" height="40.69" fill="#f1d0f8"/><rect x="123.11" y="308.23" width="2.78" height="22.22" fill="#045c04"/><rect x="123.11" y="329.95" width="2.78" height="22.55" fill="#90bdf7"/><rect x="126.75" y="217.40" width="2.78" height="2.66" fill="#8e5d1a"/><rect x="126.75" y="219.56" width="2.78" height="16.66" fill="#c2b27a"/><rect x="126.75" y="235.72" width="2.78" height="8.58" fill="#d2f8e9"/><rect x="126.75" y="243.80" width="2.78" height="9.59" fill="#ff8282"/><rect x="126.75" y="252.89" width="2.78" height="6.56" fill="#ffe0e0"/><rect x="126.75" y="258.95" width="2.78" height="35.64" fill="#5555f6"/><rect x="126.75" y="294.09" width="2.78" height="7.07" fill="#5a0049"/><rect x="126.75" y="300.66" width="2.78" height="5.55" fill="#de8af2"/><rect x="126.75" y="305.71" width="2.78" height="9.09" fill="#f1d0f8"/><rect x="126.75" y="314.29" width="2.78" height="8.58" fill="#045c04"/><rect x="126.75" y="322.37" width="2.78" height="30.13" fill="#c9ddf8"/><rect x="130.39" y="217.40" width="2.78" height="6.70" fill="#c99049"/><rect x="130.39" y="223.60" width="2.78" height="12.62" fill="#efe6c9"/><rect x="130.39" y="235.72" width="2.78" height="3.03" fill="#ff6200"/><rect x="130.39" y="238.24" width="2.78" height="6.06" fill="#ff8282"/><rect x="130.39" y="243.80" width="2.78" height="5.55" fill="#5555f6"/><rect x="130.39" y="248.85" width="2.78" height="18.18" fill="#5a0049"/><rect x="130.39" y="266.53" width="2.78" height="42.21" fill="#f1d0f8"/><rect x="130.39" y="308.23" width="2.78" height="16.16" fill="#045c04"/><rect x="130.39" y="323.89" width="2.78" height="28.61" fill="#90bdf7"/><rect x="134.03" y="217.40" width="2.78" height="2.66" fill="#c99049"/><rect x="134.03" y="219.56" width="2.78" height="14.64" fill="#efe6c9"/><rect x="134.03" y="233.70" width="2.78" height="4.54" fill="#d2f8e9"/><rect x="134.03" y="237.74" width="2.78" height="6.06" fill="#ff6200"/><rect x="134.03" y="243.29" width="2.78" height="10.10" fill="#ff8282"/><rect x="134.03" y="252.89" width="2.78" height="6.56" fill="#ffe0e0"/><rect x="134.03" y="258.95" width="2.78" height="28.57" fill="#5555f6"/><rect x="134.03" y="287.02" width="2.78" height="8.58" fill="#3a064f"/><rect x="134.03" y="295.10" width="2.78" height="3.03" fill="#6b0c98"/><rect x="134.03" y="297.63" width="2.78" height="18.68" fill="#f1d0f8"/><rect x="134.03" y="315.81" width="2.78" height="1.51" fill="#045c04"/><rect x="134.03" y="316.82" width="2.78" height="35.68" fill="#90bdf7"/><rect x="137.66" y="217.40" width="2.78" height="2.15" fill="#8e5d1a"/><rect x="137.66" y="219.05" width="2.78" height="21.71" fill="#c2b27a"/><rect x="137.66" y="240.26" width="2.78" height="7.07" fill="#efe6c9"/><rect x="137.66" y="246.83" width="2.78" height="6.56" fill="#ff8282"/><rect x="137.66" y="252.89" width="2.78" height="3.53" fill="#ffe0e0"/><rect x="137.66" y="255.92" width="2.78" height="4.54" fill="#d2f8e9"/><rect x="137.66" y="259.96" width="2.78" height="12.12" fill="#5555f6"/><rect x="137.66" y="271.58" width="2.78" height="2.02" fill="#6b0c98"/><rect x="137.66" y="273.09" width="2.78" height="17.46" fill="#f1d0f8"/><rect x="137.66" y="290.05" width="2.78" height="40.90" fill="#045c04"/><rect x="137.66" y="330.45" width="2.78" height="22.05" fill="#90bdf7"/><rect x="141.30" y="217.40" width="2.78" height="6.70" fill="#c99049"/><rect x="141.30" y="223.60" width="2.78" height="17.67" fill="#efe6c9"/><rect x="141.30" y="240.77" width="2.78" height="6.56" fill="#d2f8e9"/><rect x="141.30" y="246.83" width="2.78" height="4.54" fill="#ff6200"/><rect x="141.30" y="250.87" width="2.78" height="15.65" fill="#ff8282"/><rect x="141.30" y="266.02" width="2.78" height="8.58" fill="#5555f6"/><rect x="141.30" y="274.10" width="2.78" height="8.08" fill="#5a0049"/><rect x="141.30" y="281.68" width="2.78" height="9.88" fill="#6b0c98"/><rect x="141.30" y="291.06" width="2.78" height="16.66" fill="#a708e0"/><rect x="141.30" y="307.22" width="2.78" height="4.54" fill="#f1d0f8"/><rect x="141.30" y="311.26" width="2.78" height="16.16" fill="#045c04"/><rect x="141.30" y="326.92" width="2.78" height="25.58" fill="#90bdf7"/><rect x="144.94" y="217.40" width="2.78" height="8.21" fill="#efe6c9"/><rect x="144.94" y="225.11" width="2.78" height="18.18" fill="#d2f8e9"/><rect x="144.94" y="242.79" width="2.78" height="33.33" fill="#ff6200"/><rect x="144.94" y="275.62" width="2.78" height="10.89" fill="#ff8282"/><rect x="144.94" y="286.01" width="2.78" height="4.04" fill="#ffe0e0"/><rect x="144.94" y="289.55" width="2.78" height="19.19" fill="#5555f6"/><rect x="144.94" y="308.23" width="2.78" height="12.12" fill="#3a064f"/><rect x="144.94" y="319.85" width="2.78" height="8.58" fill="#f1d0f8"/><rect x="144.94" y="327.93" width="2.78" height="24.57" fill="#90bdf7"/><rect x="148.57" y="217.40" width="2.78" height="24.88" fill="#efe6c9"/><rect x="148.57" y="241.78" width="2.78" height="4.54" fill="#ff8282"/><rect x="148.57" y="245.82" width="2.78" height="5.05" fill="#1a98b0"/><rect x="148.57" y="250.36" width="2.78" height="10.10" fill="#5a0049"/><rect x="148.57" y="259.96" width="2.78" height="20.20" fill="#f1d0f8"/><rect x="148.57" y="279.66" width="2.78" height="34.63" fill="#045c04"/><rect x="148.57" y="313.79" width="2.78" height="38.71" fill="#90bdf7"/><rect x="152.21" y="217.40" width="2.78" height="9.22" fill="#c2b27a"/><rect x="152.21" y="226.12" width="2.78" height="2.52" fill="#4ce8b2"/><rect x="152.21" y="228.14" width="2.78" height="21.21" fill="#ff6200"/><rect x="152.21" y="248.85" width="2.78" height="23.73" fill="#ffa3a3"/><rect x="152.21" y="272.08" width="2.78" height="6.06" fill="#ffe0e0"/><rect x="152.21" y="277.64" width="2.78" height="4.04" fill="#1a98b0"/><rect x="152.21" y="281.17" width="2.78" height="7.36" fill="#5555f6"/><rect x="152.21" y="288.03" width="2.78" height="14.14" fill="#3a064f"/><rect x="152.21" y="301.67" width="2.78" height="31.81" fill="#a708e0"/><rect x="152.21" y="332.98" width="2.78" height="12.12" fill="#f1d0f8"/><rect x="152.21" y="344.60" width="2.78" height="7.90" fill="#90bdf7"/><rect x="155.85" y="217.40" width="2.78" height="18.31" fill="#c2b27a"/><rect x="155.85" y="235.21" width="2.78" height="30.30" fill="#ff6200"/><rect x="155.85" y="265.01" width="2.78" height="21.50" fill="#ff8282"/><rect x="155.85" y="286.01" width="2.78" height="7.57" fill="#ffe0e0"/><rect x="155.85" y="293.08" width="2.78" height="14.14" fill="#1a98b0"/><rect x="155.85" y="306.72" width="2.78" height="11.11" fill="#3a064f"/><rect x="155.85" y="317.32" width="2.78" height="9.59" fill="#a708e0"/><rect x="155.85" y="326.41" width="2.78" height="15.15" fill="#f1d0f8"/><rect x="155.85" y="341.06" width="2.78" height="3.03" fill="#045c04"/><rect x="155.85" y="343.59" width="2.78" height="8.91" fill="#90bdf7"/><rect x="159.48" y="217.40" width="2.78" height="6.70" fill="#8e5d1a"/><rect x="159.48" y="223.60" width="2.78" height="6.06" fill="#c99049"/><rect x="159.48" y="229.15" width="2.78" height="12.62" fill="#efe6c9"/><rect x="159.48" y="241.27" width="2.78" height="13.13" fill="#d2f8e9"/><rect x="159.48" y="253.90" width="2.78" height="36.15" fill="#ff6200"/><rect x="159.48" y="289.55" width="2.78" height="9.09" fill="#ff8282"/><rect x="159.48" y="298.13" width="2.78" height="4.54" fill="#ffe0e0"/><rect x="159.48" y="302.17" width="2.78" height="5.05" fill="#5555f6"/><rect x="159.48" y="306.72" width="2.78" height="3.03" fill="#a708e0"/><rect x="159.48" y="309.24" width="2.78" height="9.09" fill="#f1d0f8"/><rect x="159.48" y="317.83" width="2.78" height="4.04" fill="#045c04"/><rect x="159.48" y="321.36" width="2.78" height="31.14" fill="#90bdf7"/><rect x="163.12" y="217.40" width="2.78" height="6.70" fill="#c99049"/><rect x="163.12" y="223.60" width="2.78" height="17.67" fill="#c2b27a"/><rect x="163.12" y="240.77" width="2.78" height="4.04" fill="#4ce8b2"/><rect x="163.12" y="244.30" width="2.78" height="15.65" fill="#ff6200"/><rect x="163.12" y="259.45" width="2.78" height="7.07" fill="#ff8282"/><rect x="163.12" y="266.02" width="2.78" height="20.49" fill="#5555f6"/><rect x="163.12" y="286.01" width="2.78" height="16.66" fill="#5a0049"/><rect x="163.12" y="302.17" width="2.78" height="3.03" fill="#045c04"/><rect x="163.12" y="304.70" width="2.78" height="47.80" fill="#90bdf7"/><rect x="166.76" y="217.40" width="2.78" height="11.75" fill="#c99049"/><rect x="166.76" y="228.65" width="2.78" height="5.55" fill="#ff8282"/><rect x="166.76" y="233.70" width="2.78" height="5.55" fill="#ffe0e0"/><rect x="166.76" y="238.75" width="2.78" height="25.75" fill="#1a98b0"/><rect x="166.76" y="264.00" width="2.78" height="12.12" fill="#f6aeea"/><rect x="166.76" y="275.62" width="2.78" height="3.53" fill="#5a0049"/><rect x="166.76" y="278.65" width="2.78" height="48.77" fill="#f1d0f8"/><rect x="166.76" y="326.92" width="2.78" height="23.23" fill="#045c04"/><rect x="166.76" y="349.65" width="2.78" height="2.85" fill="#c9ddf8"/><rect x="170.40" y="217.40" width="2.78" height="11.24" fill="#8e5d1a"/><rect x="170.40" y="228.14" width="2.78" height="3.03" fill="#c2b27a"/><rect x="170.40" y="230.67" width="2.78" height="10.60" fill="#d2f8e9"/><rect x="170.40" y="240.77" width="2.78" height="14.14" fill="#ff8282"/><rect x="170.40" y="254.40" width="2.78" height="3.03" fill="#ffe0e0"/><rect x="170.40" y="256.93" width="2.78" height="15.65" fill="#1a98b0"/><rect x="170.40" y="272.08" width="2.78" height="10.10" fill="#5a0049"/><rect x="170.40" y="281.68" width="2.78" height="3.82" fill="#6b0c98"/><rect x="170.40" y="285.00" width="2.78" height="16.16" fill="#de8af2"/><rect x="170.40" y="300.66" width="2.78" height="11.61" fill="#f1d0f8"/><rect x="170.40" y="311.77" width="2.78" height="40.73" fill="#c9ddf8"/><rect x="174.03" y="217.40" width="2.78" height="3.16" fill="#efe6c9"/><rect x="174.03" y="220.06" width="2.78" height="3.53" fill="#d2f8e9"/><rect x="174.03" y="223.09" width="2.78" height="8.08" fill="#ff6200"/><rect x="174.03" y="230.67" width="2.78" height="6.56" fill="#ff8282"/><rect x="174.03" y="236.73" width="2.78" height="9.59" fill="#1a98b0"/><rect x="174.03" y="245.82" width="2.78" height="7.57" fill="#f6aeea"/><rect x="174.03" y="252.89" width="2.78" height="5.05" fill="#5a0049"/><rect x="174.03" y="257.43" width="2.78" height="6.06" fill="#a708e0"/><rect x="174.03" y="262.99" width="2.78" height="27.56" fill="#f1d0f8"/><rect x="174.03" y="290.05" width="2.78" height="45.95" fill="#045c04"/><rect x="174.03" y="335.51" width="2.78" height="16.99" fill="#c9ddf8"/><rect x="177.67" y="217.40" width="2.78" height="2.15" fill="#c99049"/><rect x="177.67" y="219.05" width="2.78" height="4.04" fill="#efe6c9"/><rect x="177.67" y="222.59" width="2.78" height="9.09" fill="#d2f8e9"/><rect x="177.67" y="231.17" width="2.78" height="32.32" fill="#ff6200"/><rect x="177.67" y="262.99" width="2.78" height="19.19" fill="#ff8282"/><rect x="177.67" y="281.68" width="2.78" height="9.38" fill="#3a064f"/><rect x="177.67" y="290.56" width="2.78" height="27.77" fill="#f1d0f8"/><rect x="177.67" y="317.83" width="2.78" height="6.56" fill="#045c04"/><rect x="177.67" y="323.89" width="2.78" height="28.61" fill="#90bdf7"/><rect x="181.31" y="217.40" width="2.78" height="4.17" fill="#c99049"/><rect x="181.31" y="221.07" width="2.78" height="2.52" fill="#c2b27a"/><rect x="181.31" y="223.09" width="2.78" height="2.02" fill="#efe6c9"/><rect x="181.31" y="224.61" width="2.78" height="2.02" fill="#ff6200"/><rect x="181.31" y="226.12" width="2.78" height="12.12" fill="#ff8282"/><rect x="181.31" y="237.74" width="2.78" height="7.07" fill="#3a064f"/><rect x="181.31" y="244.30" width="2.78" height="5.05" fill="#5a0049"/><rect x="181.31" y="248.85" width="2.78" height="3.03" fill="#6b0c98"/><rect x="181.31" y="251.37" width="2.78" height="14.14" fill="#a708e0"/><rect x="181.31" y="265.01" width="2.78" height="9.59" fill="#f1d0f8"/><rect x="181.31" y="274.10" width="2.78" height="46.25" fill="#045c04"/><rect x="181.31" y="319.85" width="2.78" height="32.65" fill="#c9ddf8"/><rect x="184.94" y="217.40" width="2.78" height="55.69" fill="#efe6c9"/><rect x="184.94" y="272.59" width="2.78" height="20.49" fill="#ff6200"/><rect x="184.94" y="292.58" width="2.78" height="17.17" fill="#5555f6"/><rect x="184.94" y="309.24" width="2.78" height="4.04" fill="#5a0049"/><rect x="184.94" y="312.78" width="2.78" height="14.64" fill="#a708e0"/><rect x="184.94" y="326.92" width="2.78" height="4.04" fill="#045c04"/><rect x="184.94" y="330.45" width="2.78" height="22.05" fill="#90bdf7"/><rect x="188.58" y="217.40" width="2.78" height="6.70" fill="#c2b27a"/><rect x="188.58" y="223.60" width="2.78" height="9.09" fill="#d2f8e9"/><rect x="188.58" y="232.18" width="2.78" height="3.53" fill="#ff6200"/><rect x="188.58" y="235.21" width="2.78" height="7.07" fill="#ff8282"/><rect x="188.58" y="241.78" width="2.78" height="22.72" fill="#ffa3a3"/><rect x="188.58" y="264.00" width="2.78" height="13.63" fill="#1a98b0"/><rect x="188.58" y="277.13" width="2.78" height="11.40" fill="#3a064f"/><rect x="188.58" y="288.03" width="2.78" height="33.83" fill="#a708e0"/><rect x="188.58" y="321.36" width="2.78" height="16.16" fill="#f1d0f8"/><rect x="188.58" y="337.02" width="2.78" height="8.58" fill="#045c04"/><rect x="188.58" y="345.10" width="2.78" height="7.40" fill="#90bdf7"/><rect x="192.22" y="217.40" width="2.78" height="5.18" fill="#c2b27a"/><rect x="192.22" y="222.08" width="2.78" height="11.11" fill="#d2f8e9"/><rect x="192.22" y="232.69" width="2.78" height="25.75" fill="#ff6200"/><rect x="192.22" y="257.94" width="2.78" height="37.16" fill="#ffa3a3"/><rect x="192.22" y="294.60" width="2.78" height="9.09" fill="#5555f6"/><rect x="192.22" y="303.18" width="2.78" height="4.04" fill="#5a0049"/><rect x="192.22" y="306.72" width="2.78" height="7.57" fill="#6b0c98"/><rect x="192.22" y="313.79" width="2.78" height="16.66" fill="#a708e0"/><rect x="192.22" y="329.95" width="2.78" height="5.55" fill="#045c04"/><rect x="192.22" y="335.00" width="2.78" height="17.50" fill="#90bdf7"/><rect x="195.85" y="217.40" width="2.78" height="4.68" fill="#c99049"/><rect x="195.85" y="221.58" width="2.78" height="7.57" fill="#efe6c9"/><rect x="195.85" y="228.65" width="2.78" height="11.61" fill="#d2f8e9"/><rect x="195.85" y="239.76" width="2.78" height="37.87" fill="#ff6200"/><rect x="195.85" y="277.13" width="2.78" height="8.87" fill="#ff8282"/><rect x="195.85" y="285.51" width="2.78" height="7.57" fill="#ffe0e0"/><rect x="195.85" y="292.58" width="2.78" height="4.04" fill="#5555f6"/><rect x="195.85" y="296.11" width="2.78" height="4.54" fill="#3a064f"/><rect x="195.85" y="300.15" width="2.78" height="7.07" fill="#a708e0"/><rect x="195.85" y="306.72" width="2.78" height="19.69" fill="#f1d0f8"/><rect x="195.85" y="325.91" width="2.78" height="2.52" fill="#045c04"/><rect x="195.85" y="327.93" width="2.78" height="24.57" fill="#90bdf7"/><rect x="199.49" y="217.40" width="2.78" height="22.86" fill="#c2b27a"/><rect x="199.49" y="239.76" width="2.78" height="51.30" fill="#efe6c9"/><rect x="199.49" y="290.56" width="2.78" height="9.09" fill="#ff8282"/><rect x="199.49" y="299.14" width="2.78" height="4.04" fill="#3a064f"/><rect x="199.49" y="302.68" width="2.78" height="20.70" fill="#a708e0"/><rect x="199.49" y="322.88" width="2.78" height="9.59" fill="#f1d0f8"/><rect x="199.49" y="331.97" width="2.78" height="11.61" fill="#045c04"/><rect x="199.49" y="343.08" width="2.78" height="9.42" fill="#90bdf7"/><rect x="203.13" y="217.40" width="2.78" height="4.17" fill="#c99049"/><rect x="203.13" y="221.07" width="2.78" height="7.57" fill="#c2b27a"/><rect x="203.13" y="228.14" width="2.78" height="2.02" fill="#d2f8e9"/><rect x="203.13" y="229.66" width="2.78" height="6.56" fill="#ff8282"/><rect x="203.13" y="235.72" width="2.78" height="6.06" fill="#ffa3a3"/><rect x="203.13" y="241.27" width="2.78" height="20.20" fill="#1a98b0"/><rect x="203.13" y="260.97" width="2.78" height="2.52" fill="#ffe0e0"/><rect x="203.13" y="262.99" width="2.78" height="21.21" fill="#5a0049"/><rect x="203.13" y="283.70" width="2.78" height="17.46" fill="#f1d0f8"/><rect x="203.13" y="300.66" width="2.78" height="18.68" fill="#045c04"/><rect x="203.13" y="318.84" width="2.78" height="33.66" fill="#90bdf7"/><rect x="206.76" y="217.40" width="2.78" height="12.76" fill="#efe6c9"/><rect x="206.76" y="229.66" width="2.78" height="9.09" fill="#4ce8b2"/><rect x="206.76" y="238.24" width="2.78" height="2.52" fill="#d2f8e9"/><rect x="206.76" y="240.26" width="2.78" height="12.12" fill="#ff6200"/><rect x="206.76" y="251.88" width="2.78" height="18.68" fill="#ffa3a3"/><rect x="206.76" y="270.06" width="2.78" height="2.02" fill="#5555f6"/><rect x="206.76" y="271.58" width="2.78" height="7.57" fill="#6b0c98"/><rect x="206.76" y="278.65" width="2.78" height="33.62" fill="#f1d0f8"/><rect x="206.76" y="311.77" width="2.78" height="8.58" fill="#045c04"/><rect x="206.76" y="319.85" width="2.78" height="32.65" fill="#90bdf7"/><rect x="210.40" y="217.40" width="2.78" height="12.76" fill="#efe6c9"/><rect x="210.40" y="229.66" width="2.78" height="14.64" fill="#d2f8e9"/><rect x="210.40" y="243.80" width="2.78" height="17.67" fill="#ff6200"/><rect x="210.40" y="260.97" width="2.78" height="18.18" fill="#ffe0e0"/><rect x="210.40" y="278.65" width="2.78" height="10.39" fill="#1a98b0"/><rect x="210.40" y="288.54" width="2.78" height="6.56" fill="#3a064f"/><rect x="210.40" y="294.60" width="2.78" height="4.54" fill="#de8af2"/><rect x="210.40" y="298.64" width="2.78" height="19.69" fill="#f1d0f8"/><rect x="210.40" y="317.83" width="2.78" height="16.66" fill="#045c04"/><rect x="210.40" y="333.99" width="2.78" height="18.51" fill="#c9ddf8"/><rect x="214.04" y="217.40" width="2.78" height="2.15" fill="#efe6c9"/><rect x="214.04" y="219.05" width="2.78" height="11.61" fill="#4ce8b2"/><rect x="214.04" y="230.16" width="2.78" height="13.13" fill="#d2f8e9"/><rect x="214.04" y="242.79" width="2.78" height="10.60" fill="#ff8282"/><rect x="214.04" y="252.89" width="2.78" height="18.18" fill="#ffa3a3"/><rect x="214.04" y="270.57" width="2.78" height="5.05" fill="#ffe0e0"/><rect x="214.04" y="275.11" width="2.78" height="8.58" fill="#1a98b0"/><rect x="214.04" y="283.19" width="2.78" height="2.31" fill="#5555f6"/><rect x="214.04" y="285.00" width="2.78" height="27.27" fill="#5a0049"/><rect x="214.04" y="311.77" width="2.78" height="4.54" fill="#a708e0"/><rect x="214.04" y="315.81" width="2.78" height="36.69" fill="#90bdf7"/><rect x="217.68" y="217.40" width="2.78" height="4.17" fill="#c2b27a"/><rect x="217.68" y="221.07" width="2.78" height="2.02" fill="#ff6200"/><rect x="217.68" y="222.59" width="2.78" height="7.07" fill="#ff8282"/><rect x="217.68" y="229.15" width="2.78" height="6.56" fill="#5555f6"/><rect x="217.68" y="235.21" width="2.78" height="16.16" fill="#3a064f"/><rect x="217.68" y="250.87" width="2.78" height="24.24" fill="#f1d0f8"/><rect x="217.68" y="274.61" width="2.78" height="56.85" fill="#045c04"/><rect x="217.68" y="330.96" width="2.78" height="21.54" fill="#c9ddf8"/><rect x="221.31" y="217.40" width="2.78" height="17.81" fill="#c99049"/><rect x="221.31" y="234.71" width="2.78" height="30.30" fill="#efe6c9"/><rect x="221.31" y="264.51" width="2.78" height="9.09" fill="#d2f8e9"/><rect x="221.31" y="273.09" width="2.78" height="9.59" fill="#ff8282"/><rect x="221.31" y="282.18" width="2.78" height="15.44" fill="#1a98b0"/><rect x="221.31" y="297.12" width="2.78" height="3.53" fill="#5a0049"/><rect x="221.31" y="300.15" width="2.78" height="52.35" fill="#f1d0f8"/><rect x="224.95" y="217.40" width="2.78" height="8.21" fill="#8e5d1a"/><rect x="224.95" y="225.11" width="2.78" height="7.07" fill="#efe6c9"/><rect x="224.95" y="231.68" width="2.78" height="1.51" fill="#d2f8e9"/><rect x="224.95" y="232.69" width="2.78" height="12.12" fill="#ff8282"/><rect x="224.95" y="244.30" width="2.78" height="19.69" fill="#6b0c98"/><rect x="224.95" y="263.49" width="2.78" height="16.66" fill="#de8af2"/><rect x="224.95" y="279.66" width="2.78" height="31.60" fill="#f1d0f8"/><rect x="224.95" y="310.76" width="2.78" height="11.61" fill="#045c04"/><rect x="224.95" y="321.87" width="2.78" height="30.63" fill="#90bdf7"/><rect x="228.59" y="217.40" width="2.78" height="2.66" fill="#8e5d1a"/><rect x="228.59" y="219.56" width="2.78" height="9.09" fill="#efe6c9"/><rect x="228.59" y="228.14" width="2.78" height="4.04" fill="#d2f8e9"/><rect x="228.59" y="231.68" width="2.78" height="8.58" fill="#ff6200"/><rect x="228.59" y="239.76" width="2.78" height="7.07" fill="#ff8282"/><rect x="228.59" y="246.32" width="2.78" height="4.54" fill="#5555f6"/><rect x="228.59" y="250.36" width="2.78" height="6.06" fill="#5a0049"/><rect x="228.59" y="255.92" width="2.78" height="6.06" fill="#a708e0"/><rect x="228.59" y="261.47" width="2.78" height="8.08" fill="#f1d0f8"/><rect x="228.59" y="269.05" width="2.78" height="62.41" fill="#045c04"/><rect x="228.59" y="330.96" width="2.78" height="21.54" fill="#90bdf7"/><rect x="232.22" y="217.40" width="2.78" height="4.17" fill="#c99049"/><rect x="232.22" y="221.07" width="2.78" height="9.09" fill="#c2b27a"/><rect x="232.22" y="229.66" width="2.78" height="16.66" fill="#d2f8e9"/><rect x="232.22" y="245.82" width="2.78" height="14.64" fill="#ff8282"/><rect x="232.22" y="259.96" width="2.78" height="11.61" fill="#1a98b0"/><rect x="232.22" y="271.07" width="2.78" height="8.58" fill="#3a064f"/><rect x="232.22" y="279.15" width="2.78" height="10.39" fill="#de8af2"/><rect x="232.22" y="289.04" width="2.78" height="35.35" fill="#f1d0f8"/><rect x="232.22" y="323.89" width="2.78" height="4.54" fill="#045c04"/><rect x="232.22" y="327.93" width="2.78" height="24.57" fill="#90bdf7"/><rect x="235.86" y="217.40" width="2.78" height="43.06" fill="#efe6c9"/><rect x="235.86" y="259.96" width="2.78" height="8.58" fill="#d2f8e9"/><rect x="235.86" y="268.04" width="2.78" height="4.54" fill="#ff8282"/><rect x="235.86" y="272.08" width="2.78" height="2.02" fill="#ffe0e0"/><rect x="235.86" y="273.60" width="2.78" height="23.52" fill="#1a98b0"/><rect x="235.86" y="296.62" width="2.78" height="2.02" fill="#5a0049"/><rect x="235.86" y="298.13" width="2.78" height="29.29" fill="#f1d0f8"/><rect x="235.86" y="326.92" width="2.78" height="25.58" fill="#c9ddf8"/><rect x="239.50" y="217.40" width="2.78" height="6.70" fill="#8e5d1a"/><rect x="239.50" y="223.60" width="2.78" height="5.05" fill="#c99049"/><rect x="239.50" y="228.14" width="2.78" height="10.60" fill="#d2f8e9"/><rect x="239.50" y="238.24" width="2.78" height="27.77" fill="#ff6200"/><rect x="239.50" y="265.52" width="2.78" height="9.59" fill="#ff8282"/><rect x="239.50" y="274.61" width="2.78" height="4.54" fill="#1a98b0"/><rect x="239.50" y="278.65" width="2.78" height="6.85" fill="#5a0049"/><rect x="239.50" y="285.00" width="2.78" height="34.34" fill="#f1d0f8"/><rect x="239.50" y="318.84" width="2.78" height="6.56" fill="#045c04"/><rect x="239.50" y="324.90" width="2.78" height="27.60" fill="#90bdf7"/><rect x="243.13" y="217.40" width="2.78" height="22.86" fill="#c2b27a"/><rect x="243.13" y="239.76" width="2.78" height="29.29" fill="#d2f8e9"/><rect x="243.13" y="268.55" width="2.78" height="6.06" fill="#ff8282"/><rect x="243.13" y="274.10" width="2.78" height="10.10" fill="#ffe0e0"/><rect x="243.13" y="283.70" width="2.78" height="10.89" fill="#1a98b0"/><rect x="243.13" y="294.09" width="2.78" height="1.51" fill="#5a0049"/><rect x="243.13" y="295.10" width="2.78" height="53.53" fill="#f1d0f8"/><rect x="243.13" y="348.13" width="2.78" height="4.37" fill="#90bdf7"/><rect x="246.77" y="217.40" width="2.78" height="3.16" fill="#8e5d1a"/><rect x="246.77" y="220.06" width="2.78" height="14.14" fill="#efe6c9"/><rect x="246.77" y="233.70" width="2.78" height="9.59" fill="#d2f8e9"/><rect x="246.77" y="242.79" width="2.78" height="20.70" fill="#ff6200"/><rect x="246.77" y="262.99" width="2.78" height="21.21" fill="#ff8282"/><rect x="246.77" y="283.70" width="2.78" height="3.82" fill="#5555f6"/><rect x="246.77" y="287.02" width="2.78" height="9.09" fill="#3a064f"/><rect x="246.77" y="295.61" width="2.78" height="3.53" fill="#6b0c98"/><rect x="246.77" y="298.64" width="2.78" height="31.31" fill="#f1d0f8"/><rect x="246.77" y="329.44" width="2.78" height="23.06" fill="#90bdf7"/><rect x="250.41" y="217.40" width="2.78" height="7.71" fill="#8e5d1a"/><rect x="250.41" y="224.61" width="2.78" height="37.37" fill="#efe6c9"/><rect x="250.41" y="261.47" width="2.78" height="14.64" fill="#ff6200"/><rect x="250.41" y="275.62" width="2.78" height="3.53" fill="#ff8282"/><rect x="250.41" y="278.65" width="2.78" height="10.89" fill="#ffa3a3"/><rect x="250.41" y="289.04" width="2.78" height="8.58" fill="#5555f6"/><rect x="250.41" y="297.12" width="2.78" height="4.04" fill="#3a064f"/><rect x="250.41" y="300.66" width="2.78" height="32.32" fill="#a708e0"/><rect x="250.41" y="332.47" width="2.78" height="6.06" fill="#f1d0f8"/><rect x="250.41" y="338.03" width="2.78" height="6.56" fill="#045c04"/><rect x="250.41" y="344.09" width="2.78" height="8.41" fill="#90bdf7"/><rect x="254.05" y="217.40" width="2.78" height="1.14" fill="#8e5d1a"/><rect x="254.05" y="218.04" width="2.78" height="41.41" fill="#efe6c9"/><rect x="254.05" y="258.95" width="2.78" height="5.55" fill="#d2f8e9"/><rect x="254.05" y="264.00" width="2.78" height="26.55" fill="#ff6200"/><rect x="254.05" y="290.05" width="2.78" height="5.55" fill="#ff8282"/><rect x="254.05" y="295.10" width="2.78" height="3.53" fill="#ffe0e0"/><rect x="254.05" y="298.13" width="2.78" height="13.13" fill="#5555f6"/><rect x="254.05" y="310.76" width="2.78" height="4.04" fill="#3a064f"/><rect x="254.05" y="314.29" width="2.78" height="5.05" fill="#6b0c98"/><rect x="254.05" y="318.84" width="2.78" height="10.60" fill="#f1d0f8"/><rect x="254.05" y="328.94" width="2.78" height="23.56" fill="#90bdf7"/><rect x="257.68" y="217.40" width="2.78" height="2.15" fill="#c99049"/><rect x="257.68" y="219.05" width="2.78" height="15.15" fill="#efe6c9"/><rect x="257.68" y="233.70" width="2.78" height="23.23" fill="#d2f8e9"/><rect x="257.68" y="256.42" width="2.78" height="24.24" fill="#ff6200"/><rect x="257.68" y="280.16" width="2.78" height="8.37" fill="#ff8282"/><rect x="257.68" y="288.03" width="2.78" height="4.54" fill="#ffe0e0"/><rect x="257.68" y="292.07" width="2.78" height="11.61" fill="#5555f6"/><rect x="257.68" y="303.18" width="2.78" height="5.55" fill="#3a064f"/><rect x="257.68" y="308.23" width="2.78" height="15.15" fill="#f1d0f8"/><rect x="257.68" y="322.88" width="2.78" height="1.51" fill="#045c04"/><rect x="257.68" y="323.89" width="2.78" height="28.61" fill="#90bdf7"/><rect x="261.32" y="217.40" width="2.78" height="2.15" fill="#8e5d1a"/><rect x="261.32" y="219.05" width="2.78" height="4.54" fill="#c2b27a"/><rect x="261.32" y="223.09" width="2.78" height="4.04" fill="#ff6200"/><rect x="261.32" y="226.63" width="2.78" height="1.51" fill="#5555f6"/><rect x="261.32" y="227.64" width="2.78" height="5.05" fill="#5a0049"/><rect x="261.32" y="232.18" width="2.78" height="13.63" fill="#f1d0f8"/><rect x="261.32" y="245.31" width="2.78" height="84.13" fill="#045c04"/><rect x="261.32" y="328.94" width="2.78" height="23.56" fill="#c9ddf8"/><rect x="264.96" y="217.40" width="2.78" height="4.68" fill="#8e5d1a"/><rect x="264.96" y="221.58" width="2.78" height="8.58" fill="#efe6c9"/><rect x="264.96" y="229.66" width="2.78" height="14.64" fill="#d2f8e9"/><rect x="264.96" y="243.80" width="2.78" height="14.14" fill="#ff6200"/><rect x="264.96" y="257.43" width="2.78" height="10.10" fill="#ff8282"/><rect x="264.96" y="267.03" width="2.78" height="5.05" fill="#5555f6"/><rect x="264.96" y="271.58" width="2.78" height="2.52" fill="#6b0c98"/><rect x="264.96" y="273.60" width="2.78" height="15.94" fill="#f1d0f8"/><rect x="264.96" y="289.04" width="2.78" height="58.08" fill="#045c04"/><rect x="264.96" y="346.62" width="2.78" height="5.88" fill="#c9ddf8"/><rect x="268.59" y="217.40" width="2.78" height="6.70" fill="#8e5d1a"/><rect x="268.59" y="223.60" width="2.78" height="9.59" fill="#efe6c9"/><rect x="268.59" y="232.69" width="2.78" height="3.03" fill="#4ce8b2"/><rect x="268.59" y="235.21" width="2.78" height="2.02" fill="#ff8282"/><rect x="268.59" y="236.73" width="2.78" height="9.09" fill="#5555f6"/><rect x="268.59" y="245.31" width="2.78" height="9.09" fill="#5a0049"/><rect x="268.59" y="253.90" width="2.78" height="8.08" fill="#a708e0"/><rect x="268.59" y="261.47" width="2.78" height="5.55" fill="#f1d0f8"/><rect x="268.59" y="266.53" width="2.78" height="62.91" fill="#045c04"/><rect x="268.59" y="328.94" width="2.78" height="23.56" fill="#c9ddf8"/><rect x="272.23" y="217.40" width="2.78" height="23.87" fill="#efe6c9"/><rect x="272.23" y="240.77" width="2.78" height="5.55" fill="#d2f8e9"/><rect x="272.23" y="245.82" width="2.78" height="8.08" fill="#ff8282"/><rect x="272.23" y="253.39" width="2.78" height="11.11" fill="#5555f6"/><rect x="272.23" y="264.00" width="2.78" height="9.09" fill="#5a0049"/><rect x="272.23" y="272.59" width="2.78" height="9.59" fill="#f1d0f8"/><rect x="272.23" y="281.68" width="2.78" height="52.31" fill="#045c04"/><rect x="272.23" y="333.48" width="2.78" height="19.02" fill="#c9ddf8"/><rect x="275.87" y="217.40" width="2.78" height="9.73" fill="#c99049"/><rect x="275.87" y="226.63" width="2.78" height="2.52" fill="#ff8282"/><rect x="275.87" y="228.65" width="2.78" height="10.60" fill="#1a98b0"/><rect x="275.87" y="238.75" width="2.78" height="2.52" fill="#f6aeea"/><rect x="275.87" y="240.77" width="2.78" height="14.64" fill="#5a0049"/><rect x="275.87" y="254.91" width="2.78" height="42.71" fill="#f1d0f8"/><rect x="275.87" y="297.12" width="2.78" height="29.29" fill="#045c04"/><rect x="275.87" y="325.91" width="2.78" height="26.59" fill="#c9ddf8"/><rect x="279.50" y="217.40" width="2.78" height="4.17" fill="#8e5d1a"/><rect x="279.50" y="221.07" width="2.78" height="15.15" fill="#c2b27a"/><rect x="279.50" y="235.72" width="2.78" height="19.19" fill="#d2f8e9"/><rect x="279.50" y="254.40" width="2.78" height="10.10" fill="#ff8282"/><rect x="279.50" y="264.00" width="2.78" height="13.13" fill="#f6aeea"/><rect x="279.50" y="276.63" width="2.78" height="13.92" fill="#5a0049"/><rect x="279.50" y="290.05" width="2.78" height="29.79" fill="#f1d0f8"/><rect x="279.50" y="319.34" width="2.78" height="17.67" fill="#045c04"/><rect x="279.50" y="336.52" width="2.78" height="15.98" fill="#90bdf7"/><rect x="283.14" y="217.40" width="2.78" height="16.29" fill="#efe6c9"/><rect x="283.14" y="233.19" width="2.78" height="6.56" fill="#d2f8e9"/><rect x="283.14" y="239.25" width="2.78" height="12.12" fill="#ff8282"/><rect x="283.14" y="250.87" width="2.78" height="5.55" fill="#1a98b0"/><rect x="283.14" y="255.92" width="2.78" height="7.07" fill="#5a0049"/><rect x="283.14" y="262.48" width="2.78" height="14.64" fill="#a708e0"/><rect x="283.14" y="276.63" width="2.78" height="15.94" fill="#f1d0f8"/><rect x="283.14" y="292.07" width="2.78" height="28.28" fill="#045c04"/><rect x="283.14" y="319.85" width="2.78" height="32.65" fill="#c9ddf8"/><rect x="286.78" y="217.40" width="2.78" height="5.18" fill="#c99049"/><rect x="286.78" y="222.08" width="2.78" height="4.54" fill="#c2b27a"/><rect x="286.78" y="226.12" width="2.78" height="8.08" fill="#d2f8e9"/><rect x="286.78" y="233.70" width="2.78" height="8.58" fill="#ff8282"/><rect x="286.78" y="241.78" width="2.78" height="7.57" fill="#3a064f"/><rect x="286.78" y="248.85" width="2.78" height="2.52" fill="#a708e0"/><rect x="286.78" y="250.87" width="2.78" height="12.62" fill="#f1d0f8"/><rect x="286.78" y="262.99" width="2.78" height="49.28" fill="#045c04"/><rect x="286.78" y="311.77" width="2.78" height="40.73" fill="#c9ddf8"/><rect x="290.42" y="217.40" width="2.78" height="5.69" fill="#c99049"/><rect x="290.42" y="222.59" width="2.78" height="16.66" fill="#c2b27a"/><rect x="290.42" y="238.75" width="2.78" height="3.03" fill="#efe6c9"/><rect x="290.42" y="241.27" width="2.78" height="13.13" fill="#d2f8e9"/><rect x="290.42" y="253.90" width="2.78" height="6.56" fill="#ff8282"/><rect x="290.42" y="259.96" width="2.78" height="3.53" fill="#ffe0e0"/><rect x="290.42" y="262.99" width="2.78" height="13.63" fill="#5555f6"/><rect x="290.42" y="276.12" width="2.78" height="6.06" fill="#5a0049"/><rect x="290.42" y="281.68" width="2.78" height="33.62" fill="#f1d0f8"/><rect x="290.42" y="314.80" width="2.78" height="37.70" fill="#90bdf7"/><rect x="294.05" y="217.40" width="2.78" height="14.27" fill="#efe6c9"/><rect x="294.05" y="231.17" width="2.78" height="10.60" fill="#d2f8e9"/><rect x="294.05" y="241.27" width="2.78" height="8.58" fill="#ff8282"/><rect x="294.05" y="249.35" width="2.78" height="10.10" fill="#1a98b0"/><rect x="294.05" y="258.95" width="2.78" height="3.53" fill="#5a0049"/><rect x="294.05" y="261.98" width="2.78" height="26.55" fill="#de8af2"/><rect x="294.05" y="288.03" width="2.78" height="57.57" fill="#f1d0f8"/><rect x="294.05" y="345.10" width="2.78" height="7.40" fill="#045c04"/><rect x="297.69" y="217.40" width="2.78" height="2.66" fill="#c99049"/><rect x="297.69" y="219.56" width="2.78" height="3.53" fill="#efe6c9"/><rect x="297.69" y="222.59" width="2.78" height="2.02" fill="#4ce8b2"/><rect x="297.69" y="224.10" width="2.78" height="2.52" fill="#efe6c9"/><rect x="297.69" y="226.12" width="2.78" height="5.05" fill="#ff6200"/><rect x="297.69" y="230.67" width="2.78" height="6.56" fill="#ff8282"/><rect x="297.69" y="236.73" width="2.78" height="4.04" fill="#1a98b0"/><rect x="297.69" y="240.26" width="2.78" height="17.67" fill="#5a0049"/><rect x="297.69" y="257.43" width="2.78" height="3.03" fill="#6b0c98"/><rect x="297.69" y="259.96" width="2.78" height="32.61" fill="#f1d0f8"/><rect x="297.69" y="292.07" width="2.78" height="32.32" fill="#045c04"/><rect x="297.69" y="323.89" width="2.78" height="28.61" fill="#c9ddf8"/><rect x="301.33" y="217.40" width="2.78" height="12.25" fill="#c2b27a"/><rect x="301.33" y="229.15" width="2.78" height="6.06" fill="#d2f8e9"/><rect x="301.33" y="234.71" width="2.78" height="16.66" fill="#ff6200"/><rect x="301.33" y="250.87" width="2.78" height="11.11" fill="#ff8282"/><rect x="301.33" y="261.47" width="2.78" height="36.15" fill="#ffa3a3"/><rect x="301.33" y="297.12" width="2.78" height="6.06" fill="#1a98b0"/><rect x="301.33" y="302.68" width="2.78" height="2.52" fill="#5555f6"/><rect x="301.33" y="304.70" width="2.78" height="7.57" fill="#5a0049"/><rect x="301.33" y="311.77" width="2.78" height="4.54" fill="#a708e0"/><rect x="301.33" y="315.81" width="2.78" height="15.65" fill="#f1d0f8"/><rect x="301.33" y="330.96" width="2.78" height="19.19" fill="#045c04"/><rect x="301.33" y="349.65" width="2.78" height="2.85" fill="#90bdf7"/><rect x="304.96" y="217.40" width="2.78" height="19.83" fill="#efe6c9"/><rect x="304.96" y="236.73" width="2.78" height="5.55" fill="#4ce8b2"/><rect x="304.96" y="241.78" width="2.78" height="15.65" fill="#ffa3a3"/><rect x="304.96" y="256.93" width="2.78" height="10.60" fill="#1a98b0"/><rect x="304.96" y="267.03" width="2.78" height="10.10" fill="#3a064f"/><rect x="304.96" y="276.63" width="2.78" height="48.77" fill="#f1d0f8"/><rect x="304.96" y="324.90" width="2.78" height="4.54" fill="#045c04"/><rect x="304.96" y="328.94" width="2.78" height="23.56" fill="#90bdf7"/><rect x="308.60" y="217.40" width="2.78" height="2.66" fill="#c99049"/><rect x="308.60" y="219.56" width="2.78" height="8.58" fill="#d2f8e9"/><rect x="308.60" y="227.64" width="2.78" height="5.55" fill="#ff8282"/><rect x="308.60" y="232.69" width="2.78" height="16.16" fill="#1a98b0"/><rect x="308.60" y="248.34" width="2.78" height="7.07" fill="#f6aeea"/><rect x="308.60" y="254.91" width="2.78" height="4.54" fill="#3a064f"/><rect x="308.60" y="258.95" width="2.78" height="20.20" fill="#a708e0"/><rect x="308.60" y="278.65" width="2.78" height="11.90" fill="#f1d0f8"/><rect x="308.60" y="290.05" width="2.78" height="26.26" fill="#045c04"/><rect x="308.60" y="315.81" width="2.78" height="36.69" fill="#c9ddf8"/><rect x="312.24" y="217.40" width="2.78" height="9.22" fill="#c2b27a"/><rect x="312.24" y="226.12" width="2.78" height="12.12" fill="#d2f8e9"/><rect x="312.24" y="237.74" width="2.78" height="17.67" fill="#ff6200"/><rect x="312.24" y="254.91" width="2.78" height="7.07" fill="#ff8282"/><rect x="312.24" y="261.47" width="2.78" height="14.64" fill="#ffa3a3"/><rect x="312.24" y="275.62" width="2.78" height="20.99" fill="#1a98b0"/><rect x="312.24" y="296.11" width="2.78" height="4.54" fill="#f6aeea"/><rect x="312.24" y="300.15" width="2.78" height="3.53" fill="#3a064f"/><rect x="312.24" y="303.18" width="2.78" height="9.09" fill="#5a0049"/><rect x="312.24" y="311.77" width="2.78" height="4.54" fill="#a708e0"/><rect x="312.24" y="315.81" width="2.78" height="4.54" fill="#f1d0f8"/><rect x="312.24" y="319.85" width="2.78" height="16.66" fill="#045c04"/><rect x="312.24" y="336.01" width="2.78" height="4.54" fill="#c9ddf8"/><rect x="312.24" y="340.05" width="2.78" height="12.45" fill="#90bdf7"/><rect x="315.88" y="217.40" width="2.78" height="5.69" fill="#8e5d1a"/><rect x="315.88" y="222.59" width="2.78" height="10.60" fill="#c99049"/><rect x="315.88" y="232.69" width="2.78" height="23.73" fill="#c2b27a"/><rect x="315.88" y="255.92" width="2.78" height="6.06" fill="#ff8282"/><rect x="315.88" y="261.47" width="2.78" height="29.08" fill="#ffa3a3"/><rect x="315.88" y="290.05" width="2.78" height="11.61" fill="#f6aeea"/><rect x="315.88" y="301.16" width="2.78" height="13.13" fill="#5a0049"/><rect x="315.88" y="313.79" width="2.78" height="7.57" fill="#6b0c98"/><rect x="315.88" y="320.86" width="2.78" height="5.55" fill="#a708e0"/><rect x="315.88" y="325.91" width="2.78" height="13.63" fill="#f1d0f8"/><rect x="315.88" y="339.04" width="2.78" height="13.46" fill="#90bdf7"/><rect x="319.51" y="217.40" width="2.78" height="15.79" fill="#c2b27a"/><rect x="319.51" y="232.69" width="2.78" height="22.22" fill="#d2f8e9"/><rect x="319.51" y="254.40" width="2.78" height="9.59" fill="#ff8282"/><rect x="319.51" y="263.49" width="2.78" height="12.12" fill="#1a98b0"/><rect x="319.51" y="275.11" width="2.78" height="28.57" fill="#5a0049"/><rect x="319.51" y="303.18" width="2.78" height="47.47" fill="#f1d0f8"/><rect x="319.51" y="350.15" width="2.78" height="2.35" fill="#90bdf7"/><rect x="323.15" y="217.40" width="2.78" height="21.85" fill="#efe6c9"/><rect x="323.15" y="238.75" width="2.78" height="2.52" fill="#ff8282"/><rect x="323.15" y="240.77" width="2.78" height="3.53" fill="#ffe0e0"/><rect x="323.15" y="243.80" width="2.78" height="8.58" fill="#1a98b0"/><rect x="323.15" y="251.88" width="2.78" height="9.59" fill="#5a0049"/><rect x="323.15" y="260.97" width="2.78" height="58.37" fill="#f1d0f8"/><rect x="323.15" y="318.84" width="2.78" height="5.55" fill="#045c04"/><rect x="323.15" y="323.89" width="2.78" height="28.61" fill="#90bdf7"/><rect x="326.79" y="217.40" width="2.78" height="39.02" fill="#efe6c9"/><rect x="326.79" y="255.92" width="2.78" height="9.09" fill="#d2f8e9"/><rect x="326.79" y="264.51" width="2.78" height="14.64" fill="#ff6200"/><rect x="326.79" y="278.65" width="2.78" height="4.54" fill="#5555f6"/><rect x="326.79" y="282.69" width="2.78" height="2.81" fill="#3a064f"/><rect x="326.79" y="285.00" width="2.78" height="20.20" fill="#5a0049"/><rect x="326.79" y="304.70" width="2.78" height="14.64" fill="#6b0c98"/><rect x="326.79" y="318.84" width="2.78" height="6.06" fill="#a708e0"/><rect x="326.79" y="324.39" width="2.78" height="11.61" fill="#f1d0f8"/><rect x="326.79" y="335.51" width="2.78" height="6.06" fill="#045c04"/><rect x="326.79" y="341.06" width="2.78" height="11.44" fill="#90bdf7"/><rect x="330.42" y="217.40" width="2.78" height="9.22" fill="#c2b27a"/><rect x="330.42" y="226.12" width="2.78" height="7.07" fill="#efe6c9"/><rect x="330.42" y="232.69" width="2.78" height="5.55" fill="#ff8282"/><rect x="330.42" y="237.74" width="2.78" height="8.58" fill="#1a98b0"/><rect x="330.42" y="245.82" width="2.78" height="12.12" fill="#5a0049"/><rect x="330.42" y="257.43" width="2.78" height="17.17" fill="#f1d0f8"/><rect x="330.42" y="274.10" width="2.78" height="58.37" fill="#045c04"/><rect x="330.42" y="331.97" width="2.78" height="20.53" fill="#90bdf7"/><rect x="334.06" y="217.40" width="2.78" height="3.67" fill="#c99049"/><rect x="334.06" y="220.57" width="2.78" height="17.17" fill="#efe6c9"/><rect x="334.06" y="237.23" width="2.78" height="7.57" fill="#4ce8b2"/><rect x="334.06" y="244.30" width="2.78" height="15.65" fill="#ff6200"/><rect x="334.06" y="259.45" width="2.78" height="4.54" fill="#1a98b0"/><rect x="334.06" y="263.49" width="2.78" height="17.67" fill="#5a0049"/><rect x="334.06" y="280.67" width="2.78" height="6.35" fill="#6b0c98"/><rect x="334.06" y="286.52" width="2.78" height="3.53" fill="#de8af2"/><rect x="334.06" y="289.55" width="2.78" height="6.06" fill="#045c04"/><rect x="334.06" y="295.10" width="2.78" height="57.40" fill="#90bdf7"/><rect x="337.70" y="217.40" width="2.78" height="6.70" fill="#8e5d1a"/><rect x="337.70" y="223.60" width="2.78" height="27.77" fill="#efe6c9"/><rect x="337.70" y="250.87" width="2.78" height="10.10" fill="#d2f8e9"/><rect x="337.70" y="260.46" width="2.78" height="10.10" fill="#ff8282"/><rect x="337.70" y="270.06" width="2.78" height="3.53" fill="#1a98b0"/><rect x="337.70" y="273.09" width="2.78" height="12.41" fill="#f6aeea"/><rect x="337.70" y="285.00" width="2.78" height="7.07" fill="#5a0049"/><rect x="337.70" y="291.57" width="2.78" height="5.55" fill="#f6aeea"/><rect x="337.70" y="296.62" width="2.78" height="39.89" fill="#f1d0f8"/><rect x="337.70" y="336.01" width="2.78" height="1.51" fill="#045c04"/><rect x="337.70" y="337.02" width="2.78" height="15.48" fill="#90bdf7"/><rect x="341.33" y="217.40" width="2.78" height="5.69" fill="#c99049"/><rect x="341.33" y="222.59" width="2.78" height="11.61" fill="#c2b27a"/><rect x="341.33" y="233.70" width="2.78" height="4.54" fill="#4ce8b2"/><rect x="341.33" y="237.74" width="2.78" height="4.04" fill="#d2f8e9"/><rect x="341.33" y="241.27" width="2.78" height="6.56" fill="#ff6200"/><rect x="341.33" y="247.33" width="2.78" height="4.04" fill="#ff8282"/><rect x="341.33" y="250.87" width="2.78" height="7.57" fill="#1a98b0"/><rect x="341.33" y="257.94" width="2.78" height="27.56" fill="#f6aeea"/><rect x="341.33" y="285.00" width="2.78" height="8.08" fill="#f1d0f8"/><rect x="341.33" y="292.58" width="2.78" height="4.54" fill="#045c04"/><rect x="341.33" y="296.62" width="2.78" height="55.88" fill="#90bdf7"/><rect x="344.97" y="217.40" width="2.78" height="3.67" fill="#c99049"/><rect x="344.97" y="220.57" width="2.78" height="27.77" fill="#efe6c9"/><rect x="344.97" y="247.84" width="2.78" height="8.58" fill="#ff8282"/><rect x="344.97" y="255.92" width="2.78" height="14.14" fill="#1a98b0"/><rect x="344.97" y="269.56" width="2.78" height="12.12" fill="#5a0049"/><rect x="344.97" y="281.17" width="2.78" height="13.92" fill="#de8af2"/><rect x="344.97" y="294.60" width="2.78" height="17.67" fill="#f1d0f8"/><rect x="344.97" y="311.77" width="2.78" height="40.73" fill="#c9ddf8"/><rect x="348.61" y="217.40" width="2.78" height="5.18" fill="#c99049"/><rect x="348.61" y="222.08" width="2.78" height="28.28" fill="#c2b27a"/><rect x="348.61" y="249.86" width="2.78" height="3.53" fill="#4ce8b2"/><rect x="348.61" y="252.89" width="2.78" height="2.52" fill="#ff8282"/><rect x="348.61" y="254.91" width="2.78" height="5.55" fill="#ffe0e0"/><rect x="348.61" y="259.96" width="2.78" height="16.16" fill="#1a98b0"/><rect x="348.61" y="275.62" width="2.78" height="13.92" fill="#f6aeea"/><rect x="348.61" y="289.04" width="2.78" height="7.07" fill="#3a064f"/><rect x="348.61" y="295.61" width="2.78" height="11.11" fill="#5a0049"/><rect x="348.61" y="306.21" width="2.78" height="22.22" fill="#f1d0f8"/><rect x="348.61" y="327.93" width="2.78" height="24.57" fill="#90bdf7"/><rect x="352.25" y="217.40" width="2.78" height="78.20" fill="#efe6c9"/><rect x="352.25" y="295.10" width="2.78" height="12.12" fill="#d2f8e9"/><rect x="352.25" y="306.72" width="2.78" height="8.08" fill="#1a98b0"/><rect x="352.25" y="314.29" width="2.78" height="6.06" fill="#3a064f"/><rect x="352.25" y="319.85" width="2.78" height="21.21" fill="#f1d0f8"/><rect x="352.25" y="340.56" width="2.78" height="11.94" fill="#90bdf7"/><rect x="355.88" y="217.40" width="2.78" height="2.15" fill="#8e5d1a"/><rect x="355.88" y="219.05" width="2.78" height="3.03" fill="#c99049"/><rect x="355.88" y="221.58" width="2.78" height="4.04" fill="#d2f8e9"/><rect x="355.88" y="225.11" width="2.78" height="3.53" fill="#ff8282"/><rect x="355.88" y="228.14" width="2.78" height="10.60" fill="#1a98b0"/><rect x="355.88" y="238.24" width="2.78" height="23.23" fill="#f6aeea"/><rect x="355.88" y="260.97" width="2.78" height="12.12" fill="#5a0049"/><rect x="355.88" y="272.59" width="2.78" height="3.03" fill="#de8af2"/><rect x="355.88" y="275.11" width="2.78" height="8.58" fill="#f1d0f8"/><rect x="355.88" y="283.19" width="2.78" height="43.22" fill="#045c04"/><rect x="355.88" y="325.91" width="2.78" height="26.59" fill="#c9ddf8"/><rect x="359.52" y="217.40" width="2.78" height="3.16" fill="#c99049"/><rect x="359.52" y="220.06" width="2.78" height="6.56" fill="#efe6c9"/><rect x="359.52" y="226.12" width="2.78" height="3.03" fill="#4ce8b2"/><rect x="359.52" y="228.65" width="2.78" height="2.52" fill="#ff8282"/><rect x="359.52" y="230.67" width="2.78" height="7.57" fill="#1a98b0"/><rect x="359.52" y="237.74" width="2.78" height="6.56" fill="#5a0049"/><rect x="359.52" y="243.80" width="2.78" height="30.80" fill="#f1d0f8"/><rect x="359.52" y="274.10" width="2.78" height="66.95" fill="#045c04"/><rect x="359.52" y="340.56" width="2.78" height="11.94" fill="#c9ddf8"/><rect x="363.16" y="217.40" width="2.78" height="7.20" fill="#c99049"/><rect x="363.16" y="224.10" width="2.78" height="2.52" fill="#c2b27a"/><rect x="363.16" y="226.12" width="2.78" height="10.10" fill="#d2f8e9"/><rect x="363.16" y="235.72" width="2.78" height="13.13" fill="#ff8282"/><rect x="363.16" y="248.34" width="2.78" height="14.14" fill="#1a98b0"/><rect x="363.16" y="261.98" width="2.78" height="13.13" fill="#5a0049"/><rect x="363.16" y="274.61" width="2.78" height="52.81" fill="#f1d0f8"/><rect x="363.16" y="326.92" width="2.78" height="25.58" fill="#90bdf7"/><rect x="366.79" y="217.40" width="2.78" height="7.71" fill="#8e5d1a"/><rect x="366.79" y="224.61" width="2.78" height="4.54" fill="#c99049"/><rect x="366.79" y="228.65" width="2.78" height="7.57" fill="#efe6c9"/><rect x="366.79" y="235.72" width="2.78" height="8.08" fill="#d2f8e9"/><rect x="366.79" y="243.29" width="2.78" height="7.07" fill="#ff6200"/><rect x="366.79" y="249.86" width="2.78" height="8.58" fill="#ff8282"/><rect x="366.79" y="257.94" width="2.78" height="10.10" fill="#5a0049"/><rect x="366.79" y="267.54" width="2.78" height="54.83" fill="#f1d0f8"/><rect x="366.79" y="321.87" width="2.78" height="30.63" fill="#90bdf7"/><rect x="370.43" y="217.40" width="2.78" height="6.19" fill="#c99049"/><rect x="370.43" y="223.09" width="2.78" height="12.62" fill="#c2b27a"/><rect x="370.43" y="235.21" width="2.78" height="1.01" fill="#4ce8b2"/><rect x="370.43" y="235.72" width="2.78" height="4.54" fill="#ff8282"/><rect x="370.43" y="239.76" width="2.78" height="15.65" fill="#f6aeea"/><rect x="370.43" y="254.91" width="2.78" height="23.23" fill="#a708e0"/><rect x="370.43" y="277.64" width="2.78" height="20.99" fill="#f1d0f8"/><rect x="370.43" y="298.13" width="2.78" height="10.60" fill="#045c04"/><rect x="370.43" y="308.23" width="2.78" height="44.27" fill="#90bdf7"/><rect x="374.07" y="217.40" width="2.78" height="3.16" fill="#c99049"/><rect x="374.07" y="220.06" width="2.78" height="12.12" fill="#c2b27a"/><rect x="374.07" y="231.68" width="2.78" height="3.03" fill="#4ce8b2"/><rect x="374.07" y="234.20" width="2.78" height="3.03" fill="#d2f8e9"/><rect x="374.07" y="236.73" width="2.78" height="10.10" fill="#ff6200"/><rect x="374.07" y="246.32" width="2.78" height="5.05" fill="#ff8282"/><rect x="374.07" y="250.87" width="2.78" height="22.22" fill="#a708e0"/><rect x="374.07" y="272.59" width="2.78" height="40.19" fill="#f1d0f8"/><rect x="374.07" y="312.27" width="2.78" height="14.14" fill="#045c04"/><rect x="374.07" y="325.91" width="2.78" height="26.59" fill="#90bdf7"/><rect x="377.70" y="217.40" width="2.78" height="7.71" fill="#8e5d1a"/><rect x="377.70" y="224.61" width="2.78" height="9.59" fill="#c2b27a"/><rect x="377.70" y="233.70" width="2.78" height="8.58" fill="#d2f8e9"/><rect x="377.70" y="241.78" width="2.78" height="4.54" fill="#ff8282"/><rect x="377.70" y="245.82" width="2.78" height="20.70" fill="#1a98b0"/><rect x="377.70" y="266.02" width="2.78" height="8.58" fill="#f6aeea"/><rect x="377.70" y="274.10" width="2.78" height="3.53" fill="#3a064f"/><rect x="377.70" y="277.13" width="2.78" height="20.49" fill="#f1d0f8"/><rect x="377.70" y="297.12" width="2.78" height="16.66" fill="#045c04"/><rect x="377.70" y="313.28" width="2.78" height="39.22" fill="#90bdf7"/><rect x="381.34" y="217.40" width="2.78" height="7.71" fill="#c99049"/><rect x="381.34" y="224.61" width="2.78" height="8.58" fill="#efe6c9"/><rect x="381.34" y="232.69" width="2.78" height="2.02" fill="#4ce8b2"/><rect x="381.34" y="234.20" width="2.78" height="6.06" fill="#ff6200"/><rect x="381.34" y="239.76" width="2.78" height="11.61" fill="#1a98b0"/><rect x="381.34" y="250.87" width="2.78" height="15.65" fill="#f6aeea"/><rect x="381.34" y="266.02" width="2.78" height="8.58" fill="#5a0049"/><rect x="381.34" y="274.10" width="2.78" height="18.47" fill="#de8af2"/><rect x="381.34" y="292.07" width="2.78" height="35.35" fill="#045c04"/><rect x="381.34" y="326.92" width="2.78" height="25.58" fill="#c9ddf8"/><rect x="384.98" y="217.40" width="2.78" height="2.66" fill="#c99049"/><rect x="384.98" y="219.56" width="2.78" height="21.71" fill="#efe6c9"/><rect x="384.98" y="240.77" width="2.78" height="4.54" fill="#d2f8e9"/><rect x="384.98" y="244.81" width="2.78" height="17.67" fill="#ff8282"/><rect x="384.98" y="261.98" width="2.78" height="1.51" fill="#5555f6"/><rect x="384.98" y="262.99" width="2.78" height="3.53" fill="#ffe0e0"/><rect x="384.98" y="266.02" width="2.78" height="7.07" fill="#5a0049"/><rect x="384.98" y="272.59" width="2.78" height="19.98" fill="#f1d0f8"/><rect x="384.98" y="292.07" width="2.78" height="34.34" fill="#045c04"/><rect x="384.98" y="325.91" width="2.78" height="26.59" fill="#c9ddf8"/><rect x="388.62" y="217.40" width="2.78" height="3.67" fill="#efe6c9"/><rect x="388.62" y="220.57" width="2.78" height="2.02" fill="#ff6200"/><rect x="388.62" y="222.08" width="2.78" height="5.05" fill="#ff8282"/><rect x="388.62" y="226.63" width="2.78" height="3.03" fill="#1a98b0"/><rect x="388.62" y="229.15" width="2.78" height="17.67" fill="#a708e0"/><rect x="388.62" y="246.32" width="2.78" height="16.66" fill="#f1d0f8"/><rect x="388.62" y="262.48" width="2.78" height="34.63" fill="#045c04"/><rect x="388.62" y="296.62" width="2.78" height="55.88" fill="#c9ddf8"/><rect x="392.25" y="217.40" width="2.78" height="5.18" fill="#c2b27a"/><rect x="392.25" y="222.08" width="2.78" height="7.07" fill="#d2f8e9"/><rect x="392.25" y="228.65" width="2.78" height="16.66" fill="#ff6200"/><rect x="392.25" y="244.81" width="2.78" height="6.56" fill="#ff8282"/><rect x="392.25" y="250.87" width="2.78" height="8.58" fill="#ffe0e0"/><rect x="392.25" y="258.95" width="2.78" height="13.63" fill="#1a98b0"/><rect x="392.25" y="272.08" width="2.78" height="8.08" fill="#5a0049"/><rect x="392.25" y="279.66" width="2.78" height="30.59" fill="#f1d0f8"/><rect x="392.25" y="309.75" width="2.78" height="18.18" fill="#045c04"/><rect x="392.25" y="327.42" width="2.78" height="25.08" fill="#90bdf7"/><rect x="395.89" y="217.40" width="2.78" height="5.18" fill="#8e5d1a"/><rect x="395.89" y="222.08" width="2.78" height="11.11" fill="#c99049"/><rect x="395.89" y="232.69" width="2.78" height="27.27" fill="#c2b27a"/><rect x="395.89" y="259.45" width="2.78" height="2.52" fill="#d2f8e9"/><rect x="395.89" y="261.47" width="2.78" height="2.02" fill="#ff8282"/><rect x="395.89" y="262.99" width="2.78" height="2.52" fill="#3a064f"/><rect x="395.89" y="265.01" width="2.78" height="4.04" fill="#a708e0"/><rect x="395.89" y="268.55" width="2.78" height="15.15" fill="#f1d0f8"/><rect x="395.89" y="283.19" width="2.78" height="32.11" fill="#045c04"/><rect x="395.89" y="314.80" width="2.78" height="37.70" fill="#90bdf7"/><rect x="399.53" y="217.40" width="2.78" height="5.69" fill="#8e5d1a"/><rect x="399.53" y="222.59" width="2.78" height="19.19" fill="#c2b27a"/><rect x="399.53" y="241.27" width="2.78" height="9.09" fill="#d2f8e9"/><rect x="399.53" y="249.86" width="2.78" height="3.53" fill="#ff6200"/><rect x="399.53" y="252.89" width="2.78" height="11.11" fill="#ff8282"/><rect x="399.53" y="263.49" width="2.78" height="7.07" fill="#5555f6"/><rect x="399.53" y="270.06" width="2.78" height="11.11" fill="#3a064f"/><rect x="399.53" y="280.67" width="2.78" height="9.38" fill="#a708e0"/><rect x="399.53" y="289.55" width="2.78" height="29.29" fill="#f1d0f8"/><rect x="399.53" y="318.33" width="2.78" height="10.10" fill="#045c04"/><rect x="399.53" y="327.93" width="2.78" height="24.57" fill="#90bdf7"/><rect x="403.16" y="217.40" width="2.78" height="30.94" fill="#efe6c9"/><rect x="403.16" y="247.84" width="2.78" height="9.59" fill="#d2f8e9"/><rect x="403.16" y="256.93" width="2.78" height="17.17" fill="#ff8282"/><rect x="403.16" y="273.60" width="2.78" height="12.91" fill="#1a98b0"/><rect x="403.16" y="286.01" width="2.78" height="2.02" fill="#5a0049"/><rect x="403.16" y="287.53" width="2.78" height="9.59" fill="#6b0c98"/><rect x="403.16" y="296.62" width="2.78" height="41.91" fill="#f1d0f8"/><rect x="403.16" y="338.03" width="2.78" height="14.47" fill="#90bdf7"/><rect x="406.80" y="217.40" width="2.78" height="9.22" fill="#efe6c9"/><rect x="406.80" y="226.12" width="2.78" height="3.53" fill="#ff6200"/><rect x="406.80" y="229.15" width="2.78" height="3.53" fill="#ff8282"/><rect x="406.80" y="232.18" width="2.78" height="7.07" fill="#1a98b0"/><rect x="406.80" y="238.75" width="2.78" height="4.54" fill="#5a0049"/><rect x="406.80" y="242.79" width="2.78" height="2.52" fill="#a708e0"/><rect x="406.80" y="244.81" width="2.78" height="18.18" fill="#f1d0f8"/><rect x="406.80" y="262.48" width="2.78" height="49.78" fill="#045c04"/><rect x="406.80" y="311.77" width="2.78" height="40.73" fill="#c9ddf8"/><rect x="410.44" y="217.40" width="2.78" height="7.20" fill="#c99049"/><rect x="410.44" y="224.10" width="2.78" height="3.53" fill="#d2f8e9"/><rect x="410.44" y="227.13" width="2.78" height="8.08" fill="#ff6200"/><rect x="410.44" y="234.71" width="2.78" height="3.03" fill="#ff8282"/><rect x="410.44" y="237.23" width="2.78" height="11.11" fill="#1a98b0"/><rect x="410.44" y="247.84" width="2.78" height="3.53" fill="#5a0049"/><rect x="410.44" y="250.87" width="2.78" height="25.25" fill="#f1d0f8"/><rect x="410.44" y="275.62" width="2.78" height="49.78" fill="#045c04"/><rect x="410.44" y="324.90" width="2.78" height="27.60" fill="#c9ddf8"/><rect x="414.07" y="217.40" width="2.78" height="2.15" fill="#8e5d1a"/><rect x="414.07" y="219.05" width="2.78" height="16.66" fill="#efe6c9"/><rect x="414.07" y="235.21" width="2.78" height="2.02" fill="#ff6200"/><rect x="414.07" y="236.73" width="2.78" height="4.54" fill="#ff8282"/><rect x="414.07" y="240.77" width="2.78" height="7.07" fill="#1a98b0"/><rect x="414.07" y="247.33" width="2.78" height="12.12" fill="#5a0049"/><rect x="414.07" y="258.95" width="2.78" height="10.60" fill="#a708e0"/><rect x="414.07" y="269.05" width="2.78" height="3.53" fill="#f1d0f8"/><rect x="414.07" y="272.08" width="2.78" height="53.32" fill="#045c04"/><rect x="414.07" y="324.90" width="2.78" height="27.60" fill="#c9ddf8"/><rect x="417.71" y="217.40" width="2.78" height="3.16" fill="#c99049"/><rect x="417.71" y="220.06" width="2.78" height="12.62" fill="#efe6c9"/><rect x="417.71" y="232.18" width="2.78" height="2.02" fill="#4ce8b2"/><rect x="417.71" y="233.70" width="2.78" height="4.04" fill="#d2f8e9"/><rect x="417.71" y="237.23" width="2.78" height="3.03" fill="#ff6200"/><rect x="417.71" y="239.76" width="2.78" height="5.55" fill="#ff8282"/><rect x="417.71" y="244.81" width="2.78" height="1.51" fill="#5555f6"/><rect x="417.71" y="245.82" width="2.78" height="5.55" fill="#3a064f"/><rect x="417.71" y="250.87" width="2.78" height="24.74" fill="#f1d0f8"/><rect x="417.71" y="275.11" width="2.78" height="68.47" fill="#045c04"/><rect x="417.71" y="343.08" width="2.78" height="9.42" fill="#90bdf7"/><rect x="421.35" y="217.40" width="2.78" height="8.72" fill="#efe6c9"/><rect x="421.35" y="225.62" width="2.78" height="5.55" fill="#ff6200"/><rect x="421.35" y="230.67" width="2.78" height="11.61" fill="#ff8282"/><rect x="421.35" y="241.78" width="2.78" height="15.65" fill="#5555f6"/><rect x="421.35" y="256.93" width="2.78" height="23.23" fill="#a708e0"/><rect x="421.35" y="279.66" width="2.78" height="52.31" fill="#f1d0f8"/><rect x="421.35" y="331.46" width="2.78" height="11.11" fill="#045c04"/><rect x="421.35" y="342.07" width="2.78" height="10.43" fill="#90bdf7"/><rect x="424.99" y="217.40" width="2.78" height="15.79" fill="#efe6c9"/><rect x="424.99" y="232.69" width="2.78" height="3.03" fill="#d2f8e9"/><rect x="424.99" y="235.21" width="2.78" height="17.17" fill="#ff6200"/><rect x="424.99" y="251.88" width="2.78" height="8.08" fill="#ff8282"/><rect x="424.99" y="259.45" width="2.78" height="14.14" fill="#ffe0e0"/><rect x="424.99" y="273.09" width="2.78" height="7.07" fill="#5555f6"/><rect x="424.99" y="279.66" width="2.78" height="6.85" fill="#3a064f"/><rect x="424.99" y="286.01" width="2.78" height="6.56" fill="#a708e0"/><rect x="424.99" y="292.07" width="2.78" height="18.68" fill="#f1d0f8"/><rect x="424.99" y="310.25" width="2.78" height="8.08" fill="#045c04"/><rect x="424.99" y="317.83" width="2.78" height="34.67" fill="#90bdf7"/><rect x="428.62" y="217.40" width="2.78" height="4.17" fill="#8e5d1a"/><rect x="428.62" y="221.07" width="2.78" height="6.56" fill="#c2b27a"/><rect x="428.62" y="227.13" width="2.78" height="7.07" fill="#4ce8b2"/><rect x="428.62" y="233.70" width="2.78" height="11.61" fill="#d2f8e9"/><rect x="428.62" y="244.81" width="2.78" height="4.54" fill="#ff8282"/><rect x="428.62" y="248.85" width="2.78" height="7.57" fill="#5555f6"/><rect x="428.62" y="255.92" width="2.78" height="3.03" fill="#f1d0f8"/><rect x="428.62" y="258.44" width="2.78" height="3.53" fill="#3a064f"/><rect x="428.62" y="261.47" width="2.78" height="26.55" fill="#6b0c98"/><rect x="428.62" y="287.53" width="2.78" height="24.74" fill="#de8af2"/><rect x="428.62" y="311.77" width="2.78" height="5.55" fill="#045c04"/><rect x="428.62" y="316.82" width="2.78" height="35.68" fill="#90bdf7"/><rect x="432.26" y="217.40" width="2.78" height="20.33" fill="#efe6c9"/><rect x="432.26" y="237.23" width="2.78" height="3.53" fill="#4ce8b2"/><rect x="432.26" y="240.26" width="2.78" height="4.54" fill="#ff6200"/><rect x="432.26" y="244.30" width="2.78" height="6.06" fill="#ff8282"/><rect x="432.26" y="249.86" width="2.78" height="7.07" fill="#1a98b0"/><rect x="432.26" y="256.42" width="2.78" height="16.66" fill="#5a0049"/><rect x="432.26" y="272.59" width="2.78" height="8.08" fill="#a708e0"/><rect x="432.26" y="280.16" width="2.78" height="22.51" fill="#f1d0f8"/><rect x="432.26" y="302.17" width="2.78" height="24.24" fill="#045c04"/><rect x="432.26" y="325.91" width="2.78" height="26.59" fill="#c9ddf8"/><rect x="435.90" y="217.40" width="2.78" height="9.22" fill="#c2b27a"/><rect x="435.90" y="226.12" width="2.78" height="5.55" fill="#efe6c9"/><rect x="435.90" y="231.17" width="2.78" height="2.52" fill="#4ce8b2"/><rect x="435.90" y="233.19" width="2.78" height="22.22" fill="#ff6200"/><rect x="435.90" y="254.91" width="2.78" height="9.59" fill="#ff8282"/><rect x="435.90" y="264.00" width="2.78" height="24.53" fill="#ffe0e0"/><rect x="435.90" y="288.03" width="2.78" height="1.51" fill="#1a98b0"/><rect x="435.90" y="289.04" width="2.78" height="13.63" fill="#f6aeea"/><rect x="435.90" y="302.17" width="2.78" height="14.14" fill="#5a0049"/><rect x="435.90" y="315.81" width="2.78" height="6.56" fill="#6b0c98"/><rect x="435.90" y="321.87" width="2.78" height="10.60" fill="#a708e0"/><rect x="435.90" y="331.97" width="2.78" height="5.55" fill="#045c04"/><rect x="435.90" y="337.02" width="2.78" height="15.48" fill="#90bdf7"/><rect x="439.53" y="217.40" width="2.78" height="3.16" fill="#c99049"/><rect x="439.53" y="220.06" width="2.78" height="3.53" fill="#c2b27a"/><rect x="439.53" y="223.09" width="2.78" height="3.03" fill="#d2f8e9"/><rect x="439.53" y="225.62" width="2.78" height="8.08" fill="#ff6200"/><rect x="439.53" y="233.19" width="2.78" height="43.93" fill="#ffa3a3"/><rect x="439.53" y="276.63" width="2.78" height="10.89" fill="#f6aeea"/><rect x="439.53" y="287.02" width="2.78" height="9.09" fill="#3a064f"/><rect x="439.53" y="295.61" width="2.78" height="10.60" fill="#6b0c98"/><rect x="439.53" y="305.71" width="2.78" height="12.62" fill="#f1d0f8"/><rect x="439.53" y="317.83" width="2.78" height="22.72" fill="#045c04"/><rect x="439.53" y="340.05" width="2.78" height="12.45" fill="#c9ddf8"/><rect x="443.17" y="217.40" width="2.78" height="2.66" fill="#4ce8b2"/><rect x="443.17" y="219.56" width="2.78" height="4.04" fill="#ff8282"/><rect x="443.17" y="223.09" width="2.78" height="8.08" fill="#1a98b0"/><rect x="443.17" y="230.67" width="2.78" height="18.68" fill="#5a0049"/><rect x="443.17" y="248.85" width="2.78" height="21.21" fill="#a708e0"/><rect x="443.17" y="269.56" width="2.78" height="6.56" fill="#f1d0f8"/><rect x="443.17" y="275.62" width="2.78" height="24.03" fill="#045c04"/><rect x="443.17" y="299.14" width="2.78" height="53.36" fill="#c9ddf8"/><rect x="446.81" y="217.40" width="2.78" height="6.19" fill="#c2b27a"/><rect x="446.81" y="223.09" width="2.78" height="5.55" fill="#d2f8e9"/><rect x="446.81" y="228.14" width="2.78" height="11.11" fill="#ff6200"/><rect x="446.81" y="238.75" width="2.78" height="20.20" fill="#ffa3a3"/><rect x="446.81" y="258.44" width="2.78" height="8.58" fill="#1a98b0"/><rect x="446.81" y="266.53" width="2.78" height="12.62" fill="#3a064f"/><rect x="446.81" y="278.65" width="2.78" height="8.87" fill="#a708e0"/><rect x="446.81" y="287.02" width="2.78" height="33.33" fill="#045c04"/><rect x="446.81" y="319.85" width="2.78" height="32.65" fill="#c9ddf8"/><rect x="450.44" y="217.40" width="2.78" height="21.85" fill="#8e5d1a"/><rect x="450.44" y="238.75" width="2.78" height="26.26" fill="#c99049"/><rect x="450.44" y="264.51" width="2.78" height="26.05" fill="#c2b27a"/><rect x="450.44" y="290.05" width="2.78" height="11.61" fill="#d2f8e9"/><rect x="450.44" y="301.16" width="2.78" height="1.51" fill="#ff8282"/><rect x="450.44" y="302.17" width="2.78" height="4.54" fill="#1a98b0"/><rect x="450.44" y="306.21" width="2.78" height="22.22" fill="#5a0049"/><rect x="450.44" y="327.93" width="2.78" height="6.56" fill="#de8af2"/><rect x="450.44" y="333.99" width="2.78" height="3.53" fill="#f1d0f8"/><rect x="450.44" y="337.02" width="2.78" height="15.48" fill="#90bdf7"/><rect x="454.08" y="217.40" width="2.78" height="4.17" fill="#8e5d1a"/><rect x="454.08" y="221.07" width="2.78" height="12.12" fill="#c2b27a"/><rect x="454.08" y="232.69" width="2.78" height="6.56" fill="#d2f8e9"/><rect x="454.08" y="238.75" width="2.78" height="21.71" fill="#ff6200"/><rect x="454.08" y="259.96" width="2.78" height="3.53" fill="#ff8282"/><rect x="454.08" y="262.99" width="2.78" height="23.02" fill="#ffe0e0"/><rect x="454.08" y="285.51" width="2.78" height="6.56" fill="#5555f6"/><rect x="454.08" y="291.57" width="2.78" height="12.62" fill="#5a0049"/><rect x="454.08" y="303.69" width="2.78" height="5.55" fill="#a708e0"/><rect x="454.08" y="308.74" width="2.78" height="15.65" fill="#de8af2"/><rect x="454.08" y="323.89" width="2.78" height="28.61" fill="#90bdf7"/><rect x="457.72" y="217.40" width="2.78" height="11.24" fill="#efe6c9"/><rect x="457.72" y="228.14" width="2.78" height="7.07" fill="#ff8282"/><rect x="457.72" y="234.71" width="2.78" height="17.67" fill="#5555f6"/><rect x="457.72" y="251.88" width="2.78" height="13.13" fill="#5a0049"/><rect x="457.72" y="264.51" width="2.78" height="4.04" fill="#6b0c98"/><rect x="457.72" y="268.04" width="2.78" height="25.54" fill="#f1d0f8"/><rect x="457.72" y="293.08" width="2.78" height="10.60" fill="#045c04"/><rect x="457.72" y="303.18" width="2.78" height="49.32" fill="#90bdf7"/><rect x="461.36" y="217.40" width="2.78" height="7.20" fill="#c99049"/><rect x="461.36" y="224.10" width="2.78" height="36.36" fill="#efe6c9"/><rect x="461.36" y="259.96" width="2.78" height="8.58" fill="#d2f8e9"/><rect x="461.36" y="268.04" width="2.78" height="16.16" fill="#ff6200"/><rect x="461.36" y="283.70" width="2.78" height="6.35" fill="#ff8282"/><rect x="461.36" y="289.55" width="2.78" height="10.60" fill="#1a98b0"/><rect x="461.36" y="299.65" width="2.78" height="7.57" fill="#3a064f"/><rect x="461.36" y="306.72" width="2.78" height="23.73" fill="#5a0049"/><rect x="461.36" y="329.95" width="2.78" height="11.61" fill="#f1d0f8"/><rect x="461.36" y="341.06" width="2.78" height="11.44" fill="#c9ddf8"/><rect x="464.99" y="217.40" width="2.78" height="3.16" fill="#c99049"/><rect x="464.99" y="220.06" width="2.78" height="7.57" fill="#efe6c9"/><rect x="464.99" y="227.13" width="2.78" height="1.51" fill="#4ce8b2"/><rect x="464.99" y="228.14" width="2.78" height="2.52" fill="#ff8282"/><rect x="464.99" y="230.16" width="2.78" height="6.56" fill="#ffe0e0"/><rect x="464.99" y="236.22" width="2.78" height="5.55" fill="#1a98b0"/><rect x="464.99" y="241.27" width="2.78" height="3.53" fill="#f6aeea"/><rect x="464.99" y="244.30" width="2.78" height="22.22" fill="#f1d0f8"/><rect x="464.99" y="266.02" width="2.78" height="69.48" fill="#045c04"/><rect x="464.99" y="335.00" width="2.78" height="17.50" fill="#90bdf7"/><rect x="468.63" y="217.40" width="2.78" height="3.16" fill="#8e5d1a"/><rect x="468.63" y="220.06" width="2.78" height="23.73" fill="#efe6c9"/><rect x="468.63" y="243.29" width="2.78" height="2.02" fill="#4ce8b2"/><rect x="468.63" y="244.81" width="2.78" height="2.02" fill="#ff8282"/><rect x="468.63" y="246.32" width="2.78" height="8.58" fill="#1a98b0"/><rect x="468.63" y="254.40" width="2.78" height="7.07" fill="#5a0049"/><rect x="468.63" y="260.97" width="2.78" height="18.68" fill="#a708e0"/><rect x="468.63" y="279.15" width="2.78" height="1.51" fill="#f1d0f8"/><rect x="468.63" y="280.16" width="2.78" height="37.16" fill="#045c04"/><rect x="468.63" y="316.82" width="2.78" height="35.68" fill="#c9ddf8"/><rect x="472.27" y="217.40" width="2.78" height="11.24" fill="#c99049"/><rect x="472.27" y="228.14" width="2.78" height="15.65" fill="#c2b27a"/><rect x="472.27" y="243.29" width="2.78" height="7.07" fill="#d2f8e9"/><rect x="472.27" y="249.86" width="2.78" height="8.08" fill="#ff6200"/><rect x="472.27" y="257.43" width="2.78" height="4.04" fill="#ffe0e0"/><rect x="472.27" y="260.97" width="2.78" height="2.52" fill="#1a98b0"/><rect x="472.27" y="262.99" width="2.78" height="5.55" fill="#5555f6"/><rect x="472.27" y="268.04" width="2.78" height="19.98" fill="#de8af2"/><rect x="472.27" y="287.53" width="2.78" height="23.73" fill="#f1d0f8"/><rect x="472.27" y="310.76" width="2.78" height="12.62" fill="#045c04"/><rect x="472.27" y="322.88" width="2.78" height="29.62" fill="#90bdf7"/><rect x="475.90" y="217.40" width="2.78" height="4.17" fill="#efe6c9"/><rect x="475.90" y="221.07" width="2.78" height="3.53" fill="#ff6200"/><rect x="475.90" y="224.10" width="2.78" height="2.52" fill="#ff8282"/><rect x="475.90" y="226.12" width="2.78" height="9.59" fill="#1a98b0"/><rect x="475.90" y="235.21" width="2.78" height="5.55" fill="#f6aeea"/><rect x="475.90" y="240.26" width="2.78" height="9.09" fill="#5a0049"/><rect x="475.90" y="248.85" width="2.78" height="20.20" fill="#f1d0f8"/><rect x="475.90" y="268.55" width="2.78" height="72.01" fill="#045c04"/><rect x="475.90" y="340.05" width="2.78" height="12.45" fill="#c9ddf8"/><rect x="479.54" y="217.40" width="2.78" height="18.31" fill="#efe6c9"/><rect x="479.54" y="235.21" width="2.78" height="11.11" fill="#d2f8e9"/><rect x="479.54" y="245.82" width="2.78" height="12.62" fill="#ff8282"/><rect x="479.54" y="257.94" width="2.78" height="4.54" fill="#5555f6"/><rect x="479.54" y="261.98" width="2.78" height="2.52" fill="#3a064f"/><rect x="479.54" y="264.00" width="2.78" height="6.56" fill="#de8af2"/><rect x="479.54" y="270.06" width="2.78" height="28.57" fill="#f1d0f8"/><rect x="479.54" y="298.13" width="2.78" height="16.16" fill="#045c04"/><rect x="479.54" y="313.79" width="2.78" height="38.71" fill="#90bdf7"/><rect x="483.18" y="217.40" width="2.78" height="6.19" fill="#c99049"/><rect x="483.18" y="223.09" width="2.78" height="2.52" fill="#efe6c9"/><rect x="483.18" y="225.11" width="2.78" height="3.03" fill="#d2f8e9"/><rect x="483.18" y="227.64" width="2.78" height="2.52" fill="#ff6200"/><rect x="483.18" y="229.66" width="2.78" height="4.04" fill="#ff8282"/><rect x="483.18" y="233.19" width="2.78" height="1.51" fill="#5555f6"/><rect x="483.18" y="234.20" width="2.78" height="6.06" fill="#5a0049"/><rect x="483.18" y="239.76" width="2.78" height="13.63" fill="#f1d0f8"/><rect x="483.18" y="252.89" width="2.78" height="71.50" fill="#045c04"/><rect x="483.18" y="323.89" width="2.78" height="28.61" fill="#c9ddf8"/><rect x="486.81" y="217.40" width="2.78" height="4.17" fill="#8e5d1a"/><rect x="486.81" y="221.07" width="2.78" height="4.04" fill="#efe6c9"/><rect x="486.81" y="224.61" width="2.78" height="8.58" fill="#4ce8b2"/><rect x="486.81" y="232.69" width="2.78" height="21.71" fill="#ff6200"/><rect x="486.81" y="253.90" width="2.78" height="3.53" fill="#f6aeea"/><rect x="486.81" y="256.93" width="2.78" height="4.54" fill="#3a064f"/><rect x="486.81" y="260.97" width="2.78" height="11.11" fill="#f1d0f8"/><rect x="486.81" y="271.58" width="2.78" height="57.86" fill="#045c04"/><rect x="486.81" y="328.94" width="2.78" height="23.56" fill="#90bdf7"/><rect x="490.45" y="217.40" width="2.78" height="8.21" fill="#8e5d1a"/><rect x="490.45" y="225.11" width="2.78" height="10.60" fill="#c99049"/><rect x="490.45" y="235.21" width="2.78" height="26.76" fill="#c2b27a"/><rect x="490.45" y="261.47" width="2.78" height="4.04" fill="#ff8282"/><rect x="490.45" y="265.01" width="2.78" height="12.12" fill="#f1d0f8"/><rect x="490.45" y="276.63" width="2.78" height="52.81" fill="#045c04"/><rect x="490.45" y="328.94" width="2.78" height="23.56" fill="#c9ddf8"/><rect x="494.09" y="217.40" width="2.78" height="6.19" fill="#c99049"/><rect x="494.09" y="223.09" width="2.78" height="6.56" fill="#c2b27a"/><rect x="494.09" y="229.15" width="2.78" height="4.04" fill="#efe6c9"/><rect x="494.09" y="232.69" width="2.78" height="3.03" fill="#4ce8b2"/><rect x="494.09" y="235.21" width="2.78" height="6.56" fill="#ff8282"/><rect x="494.09" y="241.27" width="2.78" height="3.03" fill="#5a0049"/><rect x="494.09" y="243.80" width="2.78" height="19.19" fill="#a708e0"/><rect x="494.09" y="262.48" width="2.78" height="59.88" fill="#045c04"/><rect x="494.09" y="321.87" width="2.78" height="30.63" fill="#c9ddf8"/><rect x="497.73" y="217.40" width="2.78" height="2.66" fill="#c99049"/><rect x="497.73" y="219.56" width="2.78" height="6.06" fill="#efe6c9"/><rect x="497.73" y="225.11" width="2.78" height="2.02" fill="#ff8282"/><rect x="497.73" y="226.63" width="2.78" height="5.05" fill="#1a98b0"/><rect x="497.73" y="231.17" width="2.78" height="7.07" fill="#5a0049"/><rect x="497.73" y="237.74" width="2.78" height="14.64" fill="#a708e0"/><rect x="497.73" y="251.88" width="2.78" height="16.16" fill="#f1d0f8"/><rect x="497.73" y="267.54" width="2.78" height="68.97" fill="#045c04"/><rect x="497.73" y="336.01" width="2.78" height="16.49" fill="#c9ddf8"/></g><path d="M41.3,217.4 L41.3,352.5" fill="none" stroke="#a4a4f2" stroke-width="1.1"/><path d="M40.8,352.5 L501.8,352.5" fill="none" stroke="#6464e6" stroke-width="0.9"/><path d="M36.9,352.45 L41.3,352.45" stroke="#6464e6" stroke-width="0.9"/><text x="31.30" y="355.75" font-size="9.3" text-anchor="end" fill="#1c1c1c" >0</text><path d="M36.9,325.45 L41.3,325.45" stroke="#6464e6" stroke-width="0.9"/><text x="31.30" y="328.75" font-size="9.3" text-anchor="end" fill="#1c1c1c" >0.2</text><path d="M36.9,298.45 L41.3,298.45" stroke="#6464e6" stroke-width="0.9"/><text x="31.30" y="301.75" font-size="9.3" text-anchor="end" fill="#1c1c1c" >0.4</text><path d="M36.9,271.45 L41.3,271.45" stroke="#6464e6" stroke-width="0.9"/><text x="31.30" y="274.75" font-size="9.3" text-anchor="end" fill="#1c1c1c" >0.6</text><path d="M36.9,244.45 L41.3,244.45" stroke="#6464e6" stroke-width="0.9"/><text x="31.30" y="247.75" font-size="9.3" text-anchor="end" fill="#1c1c1c" >0.8</text><path d="M36.9,217.45 L41.3,217.45" stroke="#6464e6" stroke-width="0.9"/><text x="31.30" y="220.75" font-size="9.3" text-anchor="end" fill="#1c1c1c" >1.0</text><path d="M44.49,352.5 L44.49,357.5" stroke="#6464e6" stroke-width="0.8"/><text x="47.59" y="362.60" font-size="9.3" text-anchor="end" fill="#1c1c1c" transform="rotate(-90 47.59 362.6)">Not_progressed</text><path d="M55.40,352.5 L55.40,357.5" stroke="#6464e6" stroke-width="0.8"/><text x="58.50" y="362.60" font-size="9.3" text-anchor="end" fill="#1c1c1c" transform="rotate(-90 58.50 362.6)">Not_progressed</text><path d="M66.31,352.5 L66.31,357.5" stroke="#6464e6" stroke-width="0.8"/><text x="69.41" y="362.60" font-size="9.3" text-anchor="end" fill="#1c1c1c" transform="rotate(-90 69.41 362.6)">Not_progressed</text><path d="M77.22,352.5 L77.22,357.5" stroke="#6464e6" stroke-width="0.8"/><text x="80.32" y="362.60" font-size="9.3" text-anchor="end" fill="#1c1c1c" transform="rotate(-90 80.32 362.6)">Not_progressed</text><path d="M88.13,352.5 L88.13,357.5" stroke="#6464e6" stroke-width="0.8"/><text x="91.23" y="362.60" font-size="9.3" text-anchor="end" fill="#1c1c1c" transform="rotate(-90 91.23 362.6)">Not_progressed</text><path d="M99.05,352.5 L99.05,357.5" stroke="#6464e6" stroke-width="0.8"/><text x="102.14" y="362.60" font-size="9.3" text-anchor="end" fill="#1c1c1c" transform="rotate(-90 102.14 362.6)">Not_progressed</text><path d="M109.96,352.5 L109.96,357.5" stroke="#6464e6" stroke-width="0.8"/><text x="113.06" y="362.60" font-size="9.3" text-anchor="end" fill="#1c1c1c" transform="rotate(-90 113.06 362.6)">Not_progressed</text><path d="M120.87,352.5 L120.87,357.5" stroke="#6464e6" stroke-width="0.8"/><text x="123.97" y="362.60" font-size="9.3" text-anchor="end" fill="#1c1c1c" transform="rotate(-90 123.97 362.6)">Not_progressed</text><path d="M131.78,352.5 L131.78,357.5" stroke="#6464e6" stroke-width="0.8"/><text x="134.88" y="362.60" font-size="9.3" text-anchor="end" fill="#1c1c1c" transform="rotate(-90 134.88 362.6)">Not_progressed</text><path d="M142.69,352.5 L142.69,357.5" stroke="#6464e6" stroke-width="0.8"/><text x="145.79" y="362.60" font-size="9.3" text-anchor="end" fill="#1c1c1c" transform="rotate(-90 145.79 362.6)">Not_progressed</text><path d="M153.60,352.5 L153.60,357.5" stroke="#6464e6" stroke-width="0.8"/><text x="156.70" y="362.60" font-size="9.3" text-anchor="end" fill="#1c1c1c" transform="rotate(-90 156.70 362.6)">Not_progressed</text><path d="M164.51,352.5 L164.51,357.5" stroke="#6464e6" stroke-width="0.8"/><text x="167.61" y="362.60" font-size="9.3" text-anchor="end" fill="#1c1c1c" transform="rotate(-90 167.61 362.6)">Not_progressed</text><path d="M175.42,352.5 L175.42,357.5" stroke="#6464e6" stroke-width="0.8"/><text x="178.52" y="362.60" font-size="9.3" text-anchor="end" fill="#1c1c1c" transform="rotate(-90 178.52 362.6)">Not_progressed</text><path d="M186.33,352.5 L186.33,357.5" stroke="#6464e6" stroke-width="0.8"/><text x="189.43" y="362.60" font-size="9.3" text-anchor="end" fill="#1c1c1c" transform="rotate(-90 189.43 362.6)">Not_progressed</text><path d="M197.24,352.5 L197.24,357.5" stroke="#6464e6" stroke-width="0.8"/><text x="200.34" y="362.60" font-size="9.3" text-anchor="end" fill="#1c1c1c" transform="rotate(-90 200.34 362.6)">Not_progressed</text><path d="M208.15,352.5 L208.15,357.5" stroke="#6464e6" stroke-width="0.8"/><text x="211.25" y="362.60" font-size="9.3" text-anchor="end" fill="#1c1c1c" transform="rotate(-90 211.25 362.6)">Not_progressed</text><path d="M219.07,352.5 L219.07,357.5" stroke="#6464e6" stroke-width="0.8"/><text x="222.17" y="362.60" font-size="9.3" text-anchor="end" fill="#1c1c1c" transform="rotate(-90 222.17 362.6)">Not_progressed</text><path d="M229.98,352.5 L229.98,357.5" stroke="#6464e6" stroke-width="0.8"/><text x="233.08" y="362.60" font-size="9.3" text-anchor="end" fill="#1c1c1c" transform="rotate(-90 233.08 362.6)">Progressed</text><path d="M240.89,352.5 L240.89,357.5" stroke="#6464e6" stroke-width="0.8"/><text x="243.99" y="362.60" font-size="9.3" text-anchor="end" fill="#1c1c1c" transform="rotate(-90 243.99 362.6)">Progressed</text><path d="M251.80,352.5 L251.80,357.5" stroke="#6464e6" stroke-width="0.8"/><text x="254.90" y="362.60" font-size="9.3" text-anchor="end" fill="#1c1c1c" transform="rotate(-90 254.90 362.6)">Progressed</text><path d="M262.71,352.5 L262.71,357.5" stroke="#6464e6" stroke-width="0.8"/><text x="265.81" y="362.60" font-size="9.3" text-anchor="end" fill="#1c1c1c" transform="rotate(-90 265.81 362.6)">Progressed</text><path d="M273.62,352.5 L273.62,357.5" stroke="#6464e6" stroke-width="0.8"/><text x="276.72" y="362.60" font-size="9.3" text-anchor="end" fill="#1c1c1c" transform="rotate(-90 276.72 362.6)">Progressed</text><path d="M284.53,352.5 L284.53,357.5" stroke="#6464e6" stroke-width="0.8"/><text x="287.63" y="362.60" font-size="9.3" text-anchor="end" fill="#1c1c1c" transform="rotate(-90 287.63 362.6)">Progressed</text><path d="M295.44,352.5 L295.44,357.5" stroke="#6464e6" stroke-width="0.8"/><text x="298.54" y="362.60" font-size="9.3" text-anchor="end" fill="#1c1c1c" transform="rotate(-90 298.54 362.6)">Progressed</text><path d="M306.35,352.5 L306.35,357.5" stroke="#6464e6" stroke-width="0.8"/><text x="309.45" y="362.60" font-size="9.3" text-anchor="end" fill="#1c1c1c" transform="rotate(-90 309.45 362.6)">Progressed</text><path d="M317.26,352.5 L317.26,357.5" stroke="#6464e6" stroke-width="0.8"/><text x="320.37" y="362.60" font-size="9.3" text-anchor="end" fill="#1c1c1c" transform="rotate(-90 320.37 362.6)">Progressed</text><path d="M328.18,352.5 L328.18,357.5" stroke="#6464e6" stroke-width="0.8"/><text x="331.28" y="362.60" font-size="9.3" text-anchor="end" fill="#1c1c1c" transform="rotate(-90 331.28 362.6)">Progressed</text><path d="M339.09,352.5 L339.09,357.5" stroke="#6464e6" stroke-width="0.8"/><text x="342.19" y="362.60" font-size="9.3" text-anchor="end" fill="#1c1c1c" transform="rotate(-90 342.19 362.6)">Progressed</text><path d="M350.00,352.5 L350.00,357.5" stroke="#6464e6" stroke-width="0.8"/><text x="353.10" y="362.60" font-size="9.3" text-anchor="end" fill="#1c1c1c" transform="rotate(-90 353.10 362.6)">Progressed</text><path d="M360.91,352.5 L360.91,357.5" stroke="#6464e6" stroke-width="0.8"/><text x="364.01" y="362.60" font-size="9.3" text-anchor="end" fill="#1c1c1c" transform="rotate(-90 364.01 362.6)">Progressed</text><path d="M371.82,352.5 L371.82,357.5" stroke="#6464e6" stroke-width="0.8"/><text x="374.92" y="362.60" font-size="9.3" text-anchor="end" fill="#1c1c1c" transform="rotate(-90 374.92 362.6)">Progressed</text><path d="M382.73,352.5 L382.73,357.5" stroke="#6464e6" stroke-width="0.8"/><text x="385.83" y="362.60" font-size="9.3" text-anchor="end" fill="#1c1c1c" transform="rotate(-90 385.83 362.6)">Progressed</text><path d="M393.64,352.5 L393.64,357.5" stroke="#6464e6" stroke-width="0.8"/><text x="396.74" y="362.60" font-size="9.3" text-anchor="end" fill="#1c1c1c" transform="rotate(-90 396.74 362.6)">Progressed</text><path d="M404.55,352.5 L404.55,357.5" stroke="#6464e6" stroke-width="0.8"/><text x="407.65" y="362.60" font-size="9.3" text-anchor="end" fill="#1c1c1c" transform="rotate(-90 407.65 362.6)">Progressed</text><path d="M415.46,352.5 L415.46,357.5" stroke="#6464e6" stroke-width="0.8"/><text x="418.56" y="362.60" font-size="9.3" text-anchor="end" fill="#1c1c1c" transform="rotate(-90 418.56 362.6)">Progressed</text><path d="M426.38,352.5 L426.38,357.5" stroke="#6464e6" stroke-width="0.8"/><text x="429.48" y="362.60" font-size="9.3" text-anchor="end" fill="#1c1c1c" transform="rotate(-90 429.48 362.6)">Progressed</text><path d="M437.29,352.5 L437.29,357.5" stroke="#6464e6" stroke-width="0.8"/><text x="440.39" y="362.60" font-size="9.3" text-anchor="end" fill="#1c1c1c" transform="rotate(-90 440.39 362.6)">Progressed</text><path d="M448.20,352.5 L448.20,357.5" stroke="#6464e6" stroke-width="0.8"/><text x="451.30" y="362.60" font-size="9.3" text-anchor="end" fill="#1c1c1c" transform="rotate(-90 451.30 362.6)">Progressed</text><path d="M459.11,352.5 L459.11,357.5" stroke="#6464e6" stroke-width="0.8"/><text x="462.21" y="362.60" font-size="9.3" text-anchor="end" fill="#1c1c1c" transform="rotate(-90 462.21 362.6)">Progressed</text><path d="M470.02,352.5 L470.02,357.5" stroke="#6464e6" stroke-width="0.8"/><text x="473.12" y="362.60" font-size="9.3" text-anchor="end" fill="#1c1c1c" transform="rotate(-90 473.12 362.6)">Progressed</text><path d="M480.93,352.5 L480.93,357.5" stroke="#6464e6" stroke-width="0.8"/><text x="484.03" y="362.60" font-size="9.3" text-anchor="end" fill="#1c1c1c" transform="rotate(-90 484.03 362.6)">Progressed</text><path d="M491.84,352.5 L491.84,357.5" stroke="#6464e6" stroke-width="0.8"/><text x="494.94" y="362.60" font-size="9.3" text-anchor="end" fill="#1c1c1c" transform="rotate(-90 494.94 362.6)">Progressed</text><rect x="511.1" y="192.30" width="8.1" height="7.6" fill="#c9ddf8"/><text x="525.40" y="199.00" font-size="9.0" text-anchor="start" fill="#1c1c1c" textLength="54.6" lengthAdjust="spacingAndGlyphs">B_cells_naive</text><rect x="511.1" y="203.13" width="8.1" height="7.6" fill="#90bdf7"/><text x="525.40" y="209.83" font-size="9.0" text-anchor="start" fill="#1c1c1c" textLength="66.7" lengthAdjust="spacingAndGlyphs">B_cells_memory</text><rect x="511.1" y="213.96" width="8.1" height="7.6" fill="#f1d0f8"/><text x="525.40" y="220.66" font-size="9.0" text-anchor="start" fill="#1c1c1c" textLength="49.4" lengthAdjust="spacingAndGlyphs">T_cells_CD8</text><rect x="511.1" y="224.79" width="8.1" height="7.6" fill="#de8af2"/><text x="525.40" y="231.49" font-size="9.0" text-anchor="start" fill="#1c1c1c" textLength="75.6" lengthAdjust="spacingAndGlyphs">T_cells_CD4_naive</text><rect x="511.1" y="235.62" width="8.1" height="7.6" fill="#a708e0"/><text x="525.40" y="242.32" font-size="9.0" text-anchor="start" fill="#1c1c1c" textLength="121.0" lengthAdjust="spacingAndGlyphs">T_cells_CD4_memory_resting</text><rect x="511.1" y="246.45" width="8.1" height="7.6" fill="#6b0c98"/><text x="525.40" y="253.15" font-size="9.0" text-anchor="start" fill="#1c1c1c" textLength="130.4" lengthAdjust="spacingAndGlyphs">T_cells_CD4_memory_activated</text><rect x="511.1" y="257.28" width="8.1" height="7.6" fill="#5a0049"/><text x="525.40" y="263.98" font-size="9.0" text-anchor="start" fill="#1c1c1c" textLength="99.4" lengthAdjust="spacingAndGlyphs">T_cells_follicular_helper</text><rect x="511.1" y="268.11" width="8.1" height="7.6" fill="#3a064f"/><text x="525.40" y="274.81" font-size="9.0" text-anchor="start" fill="#1c1c1c" textLength="101.5" lengthAdjust="spacingAndGlyphs">T_cells_regulatory_Tregs</text><rect x="511.1" y="278.94" width="8.1" height="7.6" fill="#f6aeea"/><text x="525.40" y="285.64" font-size="9.0" text-anchor="start" fill="#1c1c1c" textLength="88.0" lengthAdjust="spacingAndGlyphs">T_cells_gamma_delta</text><rect x="511.1" y="289.77" width="8.1" height="7.6" fill="#5555f6"/><text x="525.40" y="296.47" font-size="9.0" text-anchor="start" fill="#1c1c1c" textLength="67.5" lengthAdjust="spacingAndGlyphs">NK_cells_resting</text><rect x="511.1" y="300.60" width="8.1" height="7.6" fill="#1a98b0"/><text x="525.40" y="307.30" font-size="9.0" text-anchor="start" fill="#1c1c1c" textLength="77.0" lengthAdjust="spacingAndGlyphs">NK_cells_activated</text><rect x="511.1" y="311.43" width="8.1" height="7.6" fill="#ffe0e0"/><text x="525.40" y="318.13" font-size="9.0" text-anchor="start" fill="#1c1c1c" textLength="45.4" lengthAdjust="spacingAndGlyphs">Monocytes</text><rect x="511.1" y="322.26" width="8.1" height="7.6" fill="#ffa3a3"/><text x="525.40" y="328.96" font-size="9.0" text-anchor="start" fill="#1c1c1c" textLength="74.3" lengthAdjust="spacingAndGlyphs">Macrophages_M0</text><rect x="511.1" y="333.09" width="8.1" height="7.6" fill="#ff8282"/><text x="525.40" y="339.79" font-size="9.0" text-anchor="start" fill="#1c1c1c" textLength="71.6" lengthAdjust="spacingAndGlyphs">Macrophages_M1</text><rect x="511.1" y="343.92" width="8.1" height="7.6" fill="#ff6200"/><text x="525.40" y="350.62" font-size="9.0" text-anchor="start" fill="#1c1c1c" textLength="72.9" lengthAdjust="spacingAndGlyphs">Macrophages_M2</text><rect x="511.1" y="354.75" width="8.1" height="7.6" fill="#d2f8e9"/><text x="525.40" y="361.45" font-size="9.0" text-anchor="start" fill="#1c1c1c" textLength="93.7" lengthAdjust="spacingAndGlyphs">Dendritic_cells_resting</text><rect x="511.1" y="365.58" width="8.1" height="7.6" fill="#4ce8b2"/><text x="525.40" y="372.28" font-size="9.0" text-anchor="start" fill="#1c1c1c" textLength="103.4" lengthAdjust="spacingAndGlyphs">Dendritic_cells_activated</text><rect x="511.1" y="376.41" width="8.1" height="7.6" fill="#efe6c9"/><text x="525.40" y="383.11" font-size="9.0" text-anchor="start" fill="#1c1c1c" textLength="75.6" lengthAdjust="spacingAndGlyphs">Mast_cells_resting</text><rect x="511.1" y="387.24" width="8.1" height="7.6" fill="#c2b27a"/><text x="525.40" y="393.94" font-size="9.0" text-anchor="start" fill="#1c1c1c" textLength="85.1" lengthAdjust="spacingAndGlyphs">Mast_cells_activated</text><rect x="511.1" y="398.07" width="8.1" height="7.6" fill="#c99049"/><text x="525.40" y="404.77" font-size="9.0" text-anchor="start" fill="#1c1c1c" textLength="47.5" lengthAdjust="spacingAndGlyphs">Eosinophils</text><rect x="511.1" y="408.90" width="8.1" height="7.6" fill="#8e5d1a"/><text x="525.40" y="415.60" font-size="9.0" text-anchor="start" fill="#1c1c1c" textLength="48.6" lengthAdjust="spacingAndGlyphs">Neutrophils</text><rect x="511.1" y="419.73" width="8.1" height="7.6" fill="#045c04"/><text x="525.40" y="426.43" font-size="9.0" text-anchor="start" fill="#1c1c1c" textLength="52.7" lengthAdjust="spacingAndGlyphs">Plasma_cells</text><text x="0.10" y="455.80" font-size="15" text-anchor="start" fill="#000" font-weight="bold" stroke="#000" stroke-width="0.7">c</text><path d="M50.7,456.0 L50.7,596.5" fill="none" stroke="#bdbdbd" stroke-width="1.4"/><path d="M45.3,596.6 L673.2,596.6" fill="none" stroke="#5e5e5e" stroke-width="0.9"/><path d="M45.3,456.30 L50.4,456.30" stroke="#5e5e5e" stroke-width="0.9"/><text x="40.60" y="459.70" font-size="9.5" text-anchor="end" fill="#1c1c1c" >0.75</text><path d="M45.3,503.00 L50.4,503.00" stroke="#5e5e5e" stroke-width="0.9"/><text x="40.60" y="506.40" font-size="9.5" text-anchor="end" fill="#1c1c1c" >0.50</text><path d="M45.3,549.70 L50.4,549.70" stroke="#5e5e5e" stroke-width="0.9"/><text x="40.60" y="553.10" font-size="9.5" text-anchor="end" fill="#1c1c1c" >0.25</text><path d="M45.3,596.40 L50.4,596.40" stroke="#5e5e5e" stroke-width="0.9"/><text x="40.60" y="599.80" font-size="9.5" text-anchor="end" fill="#1c1c1c" >0</text><text x="12.20" y="525.80" font-size="11.4" text-anchor="middle" fill="#161616" transform="rotate(-90 12.2 525.8)">Cell fractions</text><path d="M306.65,459.50L314.55,459.50L310.60,466.30Z" fill="#5a5af5"/><path d="M306.65,485.10L314.55,485.10L310.60,478.30Z" fill="#ff7f0e"/><text x="320.70" y="466.50" font-size="9.4" text-anchor="start" fill="#161616" >Not progressed</text><text x="320.70" y="485.00" font-size="9.1" text-anchor="start" fill="#161616" >Progressed</text><path d="M63.20,596.7 L63.20,601.9" stroke="#5e5e5e" stroke-width="0.9"/><path d="M91.70,596.7 L91.70,601.9" stroke="#5e5e5e" stroke-width="0.9"/><path d="M120.20,596.7 L120.20,601.9" stroke="#5e5e5e" stroke-width="0.9"/><path d="M148.70,596.7 L148.70,601.9" stroke="#5e5e5e" stroke-width="0.9"/><path d="M177.20,596.7 L177.20,601.9" stroke="#5e5e5e" stroke-width="0.9"/><path d="M205.70,596.7 L205.70,601.9" stroke="#5e5e5e" stroke-width="0.9"/><path d="M234.20,596.7 L234.20,601.9" stroke="#5e5e5e" stroke-width="0.9"/><path d="M262.70,596.7 L262.70,601.9" stroke="#5e5e5e" stroke-width="0.9"/><path d="M291.20,596.7 L291.20,601.9" stroke="#5e5e5e" stroke-width="0.9"/><path d="M319.70,596.7 L319.70,601.9" stroke="#5e5e5e" stroke-width="0.9"/><path d="M348.20,596.7 L348.20,601.9" stroke="#5e5e5e" stroke-width="0.9"/><path d="M376.70,596.7 L376.70,601.9" stroke="#5e5e5e" stroke-width="0.9"/><path d="M405.20,596.7 L405.20,601.9" stroke="#5e5e5e" stroke-width="0.9"/><path d="M433.70,596.7 L433.70,601.9" stroke="#5e5e5e" stroke-width="0.9"/><path d="M462.20,596.7 L462.20,601.9" stroke="#5e5e5e" stroke-width="0.9"/><path d="M490.70,596.7 L490.70,601.9" stroke="#5e5e5e" stroke-width="0.9"/><path d="M519.20,596.7 L519.20,601.9" stroke="#5e5e5e" stroke-width="0.9"/><path d="M547.70,596.7 L547.70,601.9" stroke="#5e5e5e" stroke-width="0.9"/><path d="M576.20,596.7 L576.20,601.9" stroke="#5e5e5e" stroke-width="0.9"/><path d="M604.70,596.7 L604.70,601.9" stroke="#5e5e5e" stroke-width="0.9"/><path d="M633.20,596.7 L633.20,601.9" stroke="#5e5e5e" stroke-width="0.9"/><path d="M661.70,596.7 L661.70,601.9" stroke="#5e5e5e" stroke-width="0.9"/><path d="M53.75,537.08L61.65,537.08L57.70,543.88ZM53.46,546.16L61.36,546.16L57.41,552.96ZM54.31,549.94L62.21,549.94L58.26,556.74ZM53.32,553.73L61.22,553.73L57.27,560.53ZM54.11,560.86L62.01,560.86L58.06,567.66ZM53.82,563.56L61.72,563.56L57.77,570.36ZM53.30,566.27L61.20,566.27L57.25,573.07ZM54.06,568.97L61.96,568.97L58.01,575.77ZM53.26,571.67L61.16,571.67L57.21,578.47ZM53.94,581.84L61.84,581.84L57.89,588.64ZM53.32,585.08L61.22,585.08L57.27,591.88ZM53.35,588.32L61.25,588.32L57.30,595.12ZM53.92,591.56L61.82,591.56L57.87,598.36ZM54.61,594.81L62.51,594.81L58.56,601.61ZM82.05,527.13L89.95,527.13L86.00,533.93ZM82.86,535.35L90.76,535.35L86.81,542.15ZM82.43,538.32L90.33,538.32L86.38,545.12ZM82.23,541.29L90.13,541.29L86.18,548.09ZM82.70,544.27L90.60,544.27L86.65,551.07ZM82.47,547.24L90.37,547.24L86.42,554.04ZM82.21,550.21L90.11,550.21L86.16,557.01ZM83.05,553.19L90.95,553.19L87.00,559.99ZM82.89,556.16L90.79,556.16L86.84,562.96ZM82.11,559.13L90.01,559.13L86.06,565.93ZM82.68,562.11L90.58,562.11L86.63,568.91ZM82.59,565.08L90.49,565.08L86.54,571.88ZM83.19,568.05L91.09,568.05L87.14,574.85ZM82.94,571.02L90.84,571.02L86.89,577.82ZM82.19,574.00L90.09,574.00L86.14,580.80ZM83.37,576.97L91.27,576.97L87.32,583.77ZM81.90,579.94L89.80,579.94L85.85,586.74ZM82.41,582.92L90.31,582.92L86.36,589.72ZM82.99,585.89L90.89,585.89L86.94,592.69ZM81.96,588.86L89.86,588.86L85.91,595.66ZM82.53,591.84L90.43,591.84L86.48,598.64ZM81.77,594.81L89.67,594.81L85.72,601.61ZM110.30,492.54L118.20,492.54L114.25,499.34ZM111.51,508.32L119.41,508.32L115.46,515.12ZM110.42,511.56L118.32,511.56L114.37,518.36ZM110.62,514.81L118.52,514.81L114.57,521.61ZM110.86,518.05L118.76,518.05L114.81,524.85ZM111.68,521.29L119.58,521.29L115.63,528.09ZM110.34,528.86L118.24,528.86L114.29,535.66ZM110.96,535.35L118.86,535.35L114.91,542.15ZM111.13,545.08L119.03,545.08L115.08,551.88ZM111.70,552.65L119.60,552.65L115.65,559.45ZM111.59,555.66L119.49,555.66L115.54,562.46ZM111.67,558.67L119.57,558.67L115.62,565.47ZM110.67,561.68L118.57,561.68L114.62,568.48ZM110.91,564.69L118.81,564.69L114.86,571.49ZM110.81,567.70L118.71,567.70L114.76,574.50ZM111.70,570.72L119.60,570.72L115.65,577.52ZM111.83,573.73L119.73,573.73L115.78,580.53ZM110.46,576.74L118.36,576.74L114.41,583.54ZM110.50,579.75L118.40,579.75L114.45,586.55ZM110.59,582.76L118.49,582.76L114.54,589.56ZM110.60,585.77L118.50,585.77L114.55,592.57ZM111.02,588.78L118.92,588.78L114.97,595.58ZM111.20,591.80L119.10,591.80L115.15,598.60ZM110.65,594.81L118.55,594.81L114.60,601.61ZM139.32,504.00L147.22,504.00L143.27,510.80ZM138.91,510.48L146.81,510.48L142.86,517.28ZM140.14,513.50L148.04,513.50L144.09,520.30ZM140.39,516.51L148.29,516.51L144.34,523.31ZM139.49,519.52L147.39,519.52L143.44,526.32ZM139.52,522.53L147.42,522.53L143.47,529.33ZM138.85,525.54L146.75,525.54L142.80,532.34ZM138.87,528.55L146.77,528.55L142.82,535.35ZM139.28,531.56L147.18,531.56L143.23,538.36ZM139.15,534.58L147.05,534.58L143.10,541.38ZM140.11,537.59L148.01,537.59L144.06,544.39ZM138.97,540.60L146.87,540.60L142.92,547.40ZM138.74,543.61L146.64,543.61L142.69,550.41ZM140.32,546.62L148.22,546.62L144.27,553.42ZM139.60,549.63L147.50,549.63L143.55,556.43ZM138.95,552.65L146.85,552.65L142.90,559.45ZM139.62,555.66L147.52,555.66L143.57,562.46ZM138.75,558.67L146.65,558.67L142.70,565.47ZM139.60,561.68L147.50,561.68L143.55,568.48ZM140.36,564.69L148.26,564.69L144.31,571.49ZM140.17,567.70L148.07,567.70L144.12,574.50ZM139.88,570.72L147.78,570.72L143.83,577.52ZM139.14,573.73L147.04,573.73L143.09,580.53ZM139.32,576.74L147.22,576.74L143.27,583.54ZM138.98,579.75L146.88,579.75L142.93,586.55ZM140.01,582.76L147.91,582.76L143.96,589.56ZM139.61,585.77L147.51,585.77L143.56,592.57ZM140.02,588.78L147.92,588.78L143.97,595.58ZM139.26,591.80L147.16,591.80L143.21,598.60ZM139.08,594.81L146.98,594.81L143.03,601.61ZM167.34,555.89L175.24,555.89L171.29,562.69ZM168.32,568.86L176.22,568.86L172.27,575.66ZM168.75,585.08L176.65,585.08L172.70,591.88ZM168.53,588.32L176.43,588.32L172.48,595.12ZM168.48,591.56L176.38,591.56L172.43,598.36ZM168.01,594.81L175.91,594.81L171.96,601.61ZM197.24,545.08L205.14,545.08L201.19,551.88ZM197.07,548.11L204.97,548.11L201.02,554.91ZM195.95,551.13L203.85,551.13L199.90,557.93ZM197.11,554.16L205.01,554.16L201.06,560.96ZM197.37,557.19L205.27,557.19L201.32,563.99ZM196.82,560.21L204.72,560.21L200.77,567.01ZM196.30,563.46L204.20,563.46L200.25,570.26ZM196.63,566.59L204.53,566.59L200.58,573.39ZM195.92,569.73L203.82,569.73L199.87,576.53ZM195.72,572.86L203.62,572.86L199.67,579.66ZM197.35,576.00L205.25,576.00L201.30,582.80ZM196.80,579.13L204.70,579.13L200.75,585.93ZM196.60,582.27L204.50,582.27L200.55,589.07ZM197.29,585.40L205.19,585.40L201.24,592.20ZM196.44,588.54L204.34,588.54L200.39,595.34ZM197.18,591.67L205.08,591.67L201.13,598.47ZM197.10,594.81L205.00,594.81L201.05,601.61ZM224.92,565.62L232.82,565.62L228.87,572.42ZM225.76,576.43L233.66,576.43L229.71,583.23ZM225.05,579.49L232.95,579.49L229.00,586.29ZM225.10,582.56L233.00,582.56L229.05,589.36ZM225.09,585.62L232.99,585.62L229.04,592.42ZM224.23,588.68L232.13,588.68L228.18,595.48ZM224.95,591.75L232.85,591.75L228.90,598.55ZM224.51,594.81L232.41,594.81L228.46,601.61ZM252.88,547.24L260.78,547.24L256.83,554.04ZM253.65,550.48L261.55,550.48L257.60,557.28ZM253.12,553.73L261.02,553.73L257.07,560.53ZM253.17,556.97L261.07,556.97L257.12,563.77ZM254.01,563.46L261.91,563.46L257.96,570.26ZM253.56,566.59L261.46,566.59L257.51,573.39ZM253.65,569.73L261.55,569.73L257.60,576.53ZM253.99,572.86L261.89,572.86L257.94,579.66ZM254.25,576.00L262.15,576.00L258.20,582.80ZM253.45,579.13L261.35,579.13L257.40,585.93ZM253.74,582.27L261.64,582.27L257.69,589.07ZM253.56,585.40L261.46,585.40L257.51,592.20ZM253.57,588.54L261.47,588.54L257.52,595.34ZM253.88,591.67L261.78,591.67L257.83,598.47ZM253.47,594.81L261.37,594.81L257.42,601.61ZM281.32,567.78L289.22,567.78L285.27,574.58ZM281.61,570.78L289.51,570.78L285.56,577.58ZM281.32,573.79L289.22,573.79L285.27,580.59ZM282.34,576.79L290.24,576.79L286.29,583.59ZM282.53,579.79L290.43,579.79L286.48,586.59ZM282.72,582.80L290.62,582.80L286.67,589.60ZM281.46,585.80L289.36,585.80L285.41,592.60ZM282.42,588.80L290.32,588.80L286.37,595.60ZM282.32,591.81L290.22,591.81L286.27,598.61ZM281.44,594.81L289.34,594.81L285.39,601.61ZM310.43,571.02L318.33,571.02L314.38,577.82ZM310.58,574.00L318.48,574.00L314.53,580.80ZM310.28,576.97L318.18,576.97L314.23,583.77ZM310.03,579.94L317.93,579.94L313.98,586.74ZM310.24,582.92L318.14,582.92L314.19,589.72ZM310.93,585.89L318.83,585.89L314.88,592.69ZM309.73,588.86L317.63,588.86L313.68,595.66ZM310.64,591.84L318.54,591.84L314.59,598.64ZM310.45,594.81L318.35,594.81L314.40,601.61ZM338.27,544.00L346.17,544.00L342.22,550.80ZM339.52,552.65L347.42,552.65L343.47,559.45ZM338.66,564.54L346.56,564.54L342.61,571.34ZM338.42,568.32L346.32,568.32L342.37,575.12ZM338.92,572.11L346.82,572.11L342.87,578.91ZM339.75,575.35L347.65,575.35L343.70,582.15ZM339.59,578.59L347.49,578.59L343.54,585.39ZM338.64,581.84L346.54,581.84L342.59,588.64ZM338.45,585.08L346.35,585.08L342.40,591.88ZM339.76,588.32L347.66,588.32L343.71,595.12ZM339.17,591.56L347.07,591.56L343.12,598.36ZM339.39,594.81L347.29,594.81L343.34,601.61ZM368.16,556.97L376.06,556.97L372.11,563.77ZM366.81,560.12L374.71,560.12L370.76,566.92ZM368.17,563.28L376.07,563.28L372.12,570.08ZM367.47,566.43L375.37,566.43L371.42,573.23ZM367.28,569.58L375.18,569.58L371.23,576.38ZM367.64,572.74L375.54,572.74L371.59,579.54ZM368.28,575.89L376.18,575.89L372.23,582.69ZM367.16,579.04L375.06,579.04L371.11,585.84ZM366.92,582.20L374.82,582.20L370.87,589.00ZM367.60,585.35L375.50,585.35L371.55,592.15ZM367.11,588.50L375.01,588.50L371.06,595.30ZM366.89,591.65L374.79,591.65L370.84,598.45ZM366.97,594.81L374.87,594.81L370.92,601.61ZM396.45,567.78L404.35,567.78L400.40,574.58ZM396.14,579.67L404.04,579.67L400.09,586.47ZM395.52,582.70L403.42,582.70L399.47,589.50ZM396.01,585.73L403.91,585.73L399.96,592.53ZM396.79,588.75L404.69,588.75L400.74,595.55ZM395.38,591.78L403.28,591.78L399.33,598.58ZM396.59,594.81L404.49,594.81L400.54,601.61ZM424.28,547.24L432.18,547.24L428.23,554.04ZM425.11,549.94L433.01,549.94L429.06,556.74ZM424.90,552.65L432.80,552.65L428.85,559.45ZM424.78,560.21L432.68,560.21L428.73,567.01ZM424.39,562.92L432.29,562.92L428.34,569.72ZM424.29,565.62L432.19,565.62L428.24,572.42ZM423.79,568.32L431.69,568.32L427.74,575.12ZM423.92,571.02L431.82,571.02L427.87,577.82ZM423.82,574.27L431.72,574.27L427.77,581.07ZM424.96,577.20L432.86,577.20L428.91,584.00ZM424.13,580.14L432.03,580.14L428.08,586.94ZM423.98,583.07L431.88,583.07L427.93,589.87ZM423.84,586.01L431.74,586.01L427.79,592.81ZM425.13,588.94L433.03,588.94L429.08,595.74ZM425.18,591.87L433.08,591.87L429.13,598.67ZM424.84,594.81L432.74,594.81L428.79,601.61ZM453.05,572.11L460.95,572.11L457.00,578.91ZM452.54,574.94L460.44,574.94L456.49,581.74ZM453.06,577.78L460.96,577.78L457.01,584.58ZM452.21,580.62L460.11,580.62L456.16,587.42ZM452.65,583.46L460.55,583.46L456.60,590.26ZM452.35,586.29L460.25,586.29L456.30,593.09ZM452.88,589.13L460.78,589.13L456.83,595.93ZM452.27,591.97L460.17,591.97L456.22,598.77ZM452.24,594.81L460.14,594.81L456.19,601.61ZM481.25,539.67L489.15,539.67L485.20,546.47ZM482.37,542.74L490.27,542.74L486.32,549.54ZM480.95,545.80L488.85,545.80L484.90,552.60ZM481.93,548.86L489.83,548.86L485.88,555.66ZM481.79,551.93L489.69,551.93L485.74,558.73ZM480.77,554.99L488.67,554.99L484.72,561.79ZM482.12,558.05L490.02,558.05L486.07,564.85ZM482.22,561.11L490.12,561.11L486.17,567.91ZM481.77,564.18L489.67,564.18L485.72,570.98ZM481.95,567.24L489.85,567.24L485.90,574.04ZM482.08,570.30L489.98,570.30L486.03,577.10ZM480.94,573.37L488.84,573.37L484.89,580.17ZM481.59,576.43L489.49,576.43L485.54,583.23ZM481.56,579.49L489.46,579.49L485.51,586.29ZM482.12,582.56L490.02,582.56L486.07,589.36ZM482.07,585.62L489.97,585.62L486.02,592.42ZM482.10,588.68L490.00,588.68L486.05,595.48ZM481.69,591.75L489.59,591.75L485.64,598.55ZM482.22,594.81L490.12,594.81L486.17,601.61ZM510.56,556.97L518.46,556.97L514.51,563.77ZM510.47,561.29L518.37,561.29L514.42,568.09ZM510.06,566.70L517.96,566.70L514.01,573.50ZM510.11,569.82L518.01,569.82L514.06,576.62ZM510.32,572.95L518.22,572.95L514.27,579.75ZM509.31,576.07L517.21,576.07L513.26,582.87ZM510.45,579.19L518.35,579.19L514.40,585.99ZM509.63,582.32L517.53,582.32L513.58,589.12ZM509.33,585.44L517.23,585.44L513.28,592.24ZM509.65,588.56L517.55,588.56L513.60,595.36ZM510.44,591.68L518.34,591.68L514.39,598.48ZM509.55,594.81L517.45,594.81L513.50,601.61ZM538.22,564.54L546.12,564.54L542.17,571.34ZM538.67,575.35L546.57,575.35L542.62,582.15ZM537.72,578.59L545.62,578.59L541.67,585.39ZM537.80,581.84L545.70,581.84L541.75,588.64ZM538.16,585.08L546.06,585.08L542.11,591.88ZM538.84,588.32L546.74,588.32L542.79,595.12ZM538.88,591.56L546.78,591.56L542.83,598.36ZM538.85,594.81L546.75,594.81L542.80,601.61ZM566.54,475.89L574.44,475.89L570.49,482.69ZM567.86,515.89L575.76,515.89L571.81,522.69ZM567.79,522.38L575.69,522.38L571.74,529.18ZM566.23,550.48L574.13,550.48L570.18,557.28ZM566.98,556.97L574.88,556.97L570.93,563.77ZM567.59,560.12L575.49,560.12L571.54,566.92ZM567.85,563.28L575.75,563.28L571.80,570.08ZM566.96,566.43L574.86,566.43L570.91,573.23ZM566.66,569.58L574.56,569.58L570.61,576.38ZM566.56,572.74L574.46,572.74L570.51,579.54ZM567.81,575.89L575.71,575.89L571.76,582.69ZM566.56,579.04L574.46,579.04L570.51,585.84ZM567.19,582.20L575.09,582.20L571.14,589.00ZM566.44,585.35L574.34,585.35L570.39,592.15ZM567.09,588.50L574.99,588.50L571.04,595.30ZM567.82,591.65L575.72,591.65L571.77,598.45ZM566.43,594.81L574.33,594.81L570.38,601.61ZM595.19,556.97L603.09,556.97L599.14,563.77ZM595.33,560.12L603.23,560.12L599.28,566.92ZM595.37,563.28L603.27,563.28L599.32,570.08ZM596.40,566.43L604.30,566.43L600.35,573.23ZM595.70,569.58L603.60,569.58L599.65,576.38ZM595.31,572.74L603.21,572.74L599.26,579.54ZM595.43,575.89L603.33,575.89L599.38,582.69ZM595.17,579.04L603.07,579.04L599.12,585.84ZM594.78,582.20L602.68,582.20L598.73,589.00ZM594.87,585.35L602.77,585.35L598.82,592.15ZM596.12,588.50L604.02,588.50L600.07,595.30ZM595.19,591.65L603.09,591.65L599.14,598.45ZM596.29,594.81L604.19,594.81L600.24,601.61ZM624.44,564.54L632.34,564.54L628.39,571.34ZM623.97,575.35L631.87,575.35L627.92,582.15ZM624.48,578.59L632.38,578.59L628.43,585.39ZM624.30,581.84L632.20,581.84L628.25,588.64ZM623.69,585.08L631.59,585.08L627.64,591.88ZM623.28,588.32L631.18,588.32L627.23,595.12ZM624.78,591.56L632.68,591.56L628.73,598.36ZM623.42,594.81L631.32,594.81L627.37,601.61ZM652.65,576.43L660.55,576.43L656.60,583.23ZM652.37,579.49L660.27,579.49L656.32,586.29ZM651.98,582.56L659.88,582.56L655.93,589.36ZM651.97,585.62L659.87,585.62L655.92,592.42ZM652.05,588.68L659.95,588.68L656.00,595.48ZM653.24,591.75L661.14,591.75L657.19,598.55ZM652.55,594.81L660.45,594.81L656.50,601.61Z" fill="#5a5af5"/><path d="M64.11,522.92L72.01,522.92L68.06,516.12ZM64.28,526.81L72.18,526.81L68.23,520.01ZM64.97,543.03L72.87,543.03L68.92,536.23ZM65.51,546.12L73.41,546.12L69.46,539.32ZM64.88,549.21L72.78,549.21L68.83,542.41ZM64.57,552.30L72.47,552.30L68.52,545.50ZM65.56,555.38L73.46,555.38L69.51,548.58ZM63.98,558.47L71.88,558.47L67.93,551.67ZM65.36,561.56L73.26,561.56L69.31,554.76ZM64.39,564.65L72.29,564.65L68.34,557.85ZM64.15,567.74L72.05,567.74L68.10,560.94ZM64.10,570.83L72.00,570.83L68.05,564.03ZM64.42,573.92L72.32,573.92L68.37,567.12ZM65.29,577.01L73.19,577.01L69.24,570.21ZM64.21,580.10L72.11,580.10L68.16,573.30ZM64.89,583.18L72.79,583.18L68.84,576.38ZM64.99,586.27L72.89,586.27L68.94,579.47ZM64.53,591.68L72.43,591.68L68.48,584.88ZM64.83,594.92L72.73,594.92L68.78,588.12ZM64.01,598.16L71.91,598.16L67.96,591.36ZM64.00,601.41L71.90,601.41L67.95,594.61ZM93.54,521.41L101.44,521.41L97.49,514.61ZM93.70,530.06L101.60,530.06L97.65,523.26ZM93.37,533.30L101.27,533.30L97.32,526.50ZM93.89,536.54L101.79,536.54L97.84,529.74ZM92.93,539.79L100.83,539.79L96.88,532.99ZM93.58,544.11L101.48,544.11L97.53,537.31ZM93.41,547.13L101.31,547.13L97.36,540.33ZM93.39,550.14L101.29,550.14L97.34,543.34ZM93.18,553.16L101.08,553.16L97.13,546.36ZM93.83,556.17L101.73,556.17L97.78,549.37ZM94.01,559.19L101.91,559.19L97.96,552.39ZM93.21,562.20L101.11,562.20L97.16,555.40ZM93.53,565.22L101.43,565.22L97.48,558.42ZM92.50,568.24L100.40,568.24L96.45,561.44ZM93.59,571.25L101.49,571.25L97.54,564.45ZM93.50,574.27L101.40,574.27L97.45,567.47ZM94.09,577.28L101.99,577.28L98.04,570.48ZM93.80,580.30L101.70,580.30L97.75,573.50ZM92.88,583.31L100.78,583.31L96.83,576.51ZM93.06,586.33L100.96,586.33L97.01,579.53ZM93.54,589.35L101.44,589.35L97.49,582.55ZM92.44,592.36L100.34,592.36L96.39,585.56ZM93.18,595.38L101.08,595.38L97.13,588.58ZM92.69,598.39L100.59,598.39L96.64,591.59ZM92.60,601.41L100.50,601.41L96.55,594.61ZM120.91,484.00L128.81,484.00L124.86,477.20ZM121.61,499.79L129.51,499.79L125.56,492.99ZM121.53,502.76L129.43,502.76L125.48,495.96ZM121.86,505.73L129.76,505.73L125.81,498.93ZM122.52,508.71L130.42,508.71L126.47,501.91ZM122.07,511.68L129.97,511.68L126.02,504.88ZM121.78,514.65L129.68,514.65L125.73,507.85ZM121.95,517.62L129.85,517.62L125.90,510.82ZM122.05,520.60L129.95,520.60L126.00,513.80ZM120.99,523.57L128.89,523.57L124.94,516.77ZM122.43,526.54L130.33,526.54L126.38,519.74ZM122.23,529.52L130.13,529.52L126.18,522.72ZM122.39,532.49L130.29,532.49L126.34,525.69ZM122.26,535.46L130.16,535.46L126.21,528.66ZM121.57,539.79L129.47,539.79L125.52,532.99ZM121.58,546.27L129.48,546.27L125.53,539.47ZM121.08,549.34L128.98,549.34L125.03,542.54ZM121.98,552.40L129.88,552.40L125.93,545.60ZM121.01,555.46L128.91,555.46L124.96,548.66ZM121.01,558.53L128.91,558.53L124.96,551.73ZM121.25,561.59L129.15,561.59L125.20,554.79ZM121.18,564.65L129.08,564.65L125.13,557.85ZM121.48,567.71L129.38,567.71L125.43,560.91ZM120.99,570.78L128.89,570.78L124.94,563.98ZM120.90,573.84L128.80,573.84L124.85,567.04ZM121.16,576.90L129.06,576.90L125.11,570.10ZM121.07,579.97L128.97,579.97L125.02,573.17ZM121.52,583.03L129.42,583.03L125.47,576.23ZM120.94,586.09L128.84,586.09L124.89,579.29ZM122.39,589.16L130.29,589.16L126.34,582.36ZM121.94,592.22L129.84,592.22L125.89,585.42ZM121.15,595.28L129.05,595.28L125.10,588.48ZM121.33,598.35L129.23,598.35L125.28,591.55ZM121.49,601.41L129.39,601.41L125.44,594.61ZM150.78,505.62L158.68,505.62L154.73,498.82ZM151.07,518.16L158.97,518.16L155.02,511.36ZM150.85,521.14L158.75,521.14L154.80,514.34ZM150.77,524.11L158.67,524.11L154.72,517.31ZM150.79,527.08L158.69,527.08L154.74,520.28ZM150.66,530.06L158.56,530.06L154.61,523.26ZM149.79,533.03L157.69,533.03L153.74,526.23ZM150.28,536.00L158.18,536.00L154.23,529.20ZM150.00,538.98L157.90,538.98L153.95,532.18ZM149.45,541.95L157.35,541.95L153.40,535.15ZM149.45,544.92L157.35,544.92L153.40,538.12ZM149.88,547.89L157.78,547.89L153.83,541.09ZM149.84,550.87L157.74,550.87L153.79,544.07ZM150.58,553.84L158.48,553.84L154.53,547.04ZM151.03,556.81L158.93,556.81L154.98,550.01ZM150.16,559.79L158.06,559.79L154.11,552.99ZM150.99,562.76L158.89,562.76L154.94,555.96ZM151.08,565.73L158.98,565.73L155.03,558.93ZM151.02,568.71L158.92,568.71L154.97,561.91ZM150.02,571.68L157.92,571.68L153.97,564.88ZM149.77,574.65L157.67,574.65L153.72,567.85ZM149.79,577.62L157.69,577.62L153.74,570.82ZM149.73,580.60L157.63,580.60L153.68,573.80ZM149.75,583.57L157.65,583.57L153.70,576.77ZM150.46,586.54L158.36,586.54L154.41,579.74ZM150.93,589.52L158.83,589.52L154.88,582.72ZM150.83,592.49L158.73,592.49L154.78,585.69ZM150.22,595.46L158.12,595.46L154.17,588.66ZM150.51,598.44L158.41,598.44L154.46,591.64ZM150.76,601.41L158.66,601.41L154.71,594.61ZM178.20,568.98L186.10,568.98L182.15,562.18ZM179.24,571.92L187.14,571.92L183.19,565.12ZM178.47,574.87L186.37,574.87L182.42,568.07ZM179.26,577.82L187.16,577.82L183.21,571.02ZM179.55,580.77L187.45,580.77L183.50,573.97ZM178.57,583.72L186.47,583.72L182.52,576.92ZM178.58,586.67L186.48,586.67L182.53,579.87ZM179.51,589.61L187.41,589.61L183.46,582.81ZM179.13,592.56L187.03,592.56L183.08,585.76ZM178.19,595.51L186.09,595.51L182.14,588.71ZM178.12,598.46L186.02,598.46L182.07,591.66ZM178.16,601.41L186.06,601.41L182.11,594.61ZM206.76,556.00L214.66,556.00L210.71,549.20ZM206.83,567.89L214.73,567.89L210.78,561.09ZM206.90,570.94L214.80,570.94L210.85,564.14ZM206.81,573.99L214.71,573.99L210.76,567.19ZM207.40,577.03L215.30,577.03L211.35,570.23ZM206.84,580.08L214.74,580.08L210.79,573.28ZM207.11,583.13L215.01,583.13L211.06,576.33ZM206.62,586.17L214.52,586.17L210.57,579.37ZM207.95,589.22L215.85,589.22L211.90,582.42ZM207.00,592.27L214.90,592.27L210.95,585.47ZM207.18,595.31L215.08,595.31L211.13,588.51ZM207.39,598.36L215.29,598.36L211.34,591.56ZM207.94,601.41L215.84,601.41L211.89,594.61ZM234.91,562.49L242.81,562.49L238.86,555.69ZM236.26,578.71L244.16,578.71L240.21,571.91ZM235.19,581.54L243.09,581.54L239.14,574.74ZM235.70,584.38L243.60,584.38L239.65,577.58ZM236.13,587.22L244.03,587.22L240.08,580.42ZM235.85,590.06L243.75,590.06L239.80,583.26ZM235.45,592.89L243.35,592.89L239.40,586.09ZM235.78,595.73L243.68,595.73L239.73,588.93ZM235.84,598.57L243.74,598.57L239.79,591.77ZM236.23,601.41L244.13,601.41L240.18,594.61ZM264.31,560.33L272.21,560.33L268.26,553.53ZM264.21,566.81L272.11,566.81L268.16,560.01ZM265.00,571.14L272.90,571.14L268.95,564.34ZM264.59,575.46L272.49,575.46L268.54,568.66ZM264.89,578.35L272.79,578.35L268.84,571.55ZM265.00,581.23L272.90,581.23L268.95,574.43ZM263.84,584.11L271.74,584.11L267.79,577.31ZM264.35,586.99L272.25,586.99L268.30,580.19ZM265.00,589.88L272.90,589.88L268.95,583.08ZM264.83,592.76L272.73,592.76L268.78,585.96ZM263.63,595.64L271.53,595.64L267.58,588.84ZM263.61,598.53L271.51,598.53L267.56,591.73ZM264.15,601.41L272.05,601.41L268.10,594.61ZM293.40,578.71L301.30,578.71L297.35,571.91ZM293.54,581.54L301.44,581.54L297.49,574.74ZM292.27,584.38L300.17,584.38L296.22,577.58ZM293.52,587.22L301.42,587.22L297.47,580.42ZM292.58,590.06L300.48,590.06L296.53,583.26ZM292.73,592.89L300.63,592.89L296.68,586.09ZM293.58,595.73L301.48,595.73L297.53,588.93ZM293.32,598.57L301.22,598.57L297.27,591.77ZM292.17,601.41L300.07,601.41L296.12,594.61ZM320.43,567.89L328.33,567.89L324.38,561.09ZM320.96,576.54L328.86,576.54L324.91,569.74ZM321.46,579.65L329.36,579.65L325.41,572.85ZM321.27,582.76L329.17,582.76L325.22,575.96ZM320.51,585.87L328.41,585.87L324.46,579.07ZM322.07,588.98L329.97,588.98L326.02,582.18ZM321.74,592.08L329.64,592.08L325.69,585.28ZM322.05,595.19L329.95,595.19L326.00,588.39ZM320.58,598.30L328.48,598.30L324.53,591.50ZM320.85,601.41L328.75,601.41L324.80,594.61ZM349.05,576.54L356.95,576.54L353.00,569.74ZM349.00,579.65L356.90,579.65L352.95,572.85ZM350.07,582.76L357.97,582.76L354.02,575.96ZM349.62,585.87L357.52,585.87L353.57,579.07ZM349.02,588.98L356.92,588.98L352.97,582.18ZM350.50,592.08L358.40,592.08L354.45,585.28ZM349.98,595.19L357.88,595.19L353.93,588.39ZM350.26,598.30L358.16,598.30L354.21,591.50ZM349.04,601.41L356.94,601.41L352.99,594.61ZM377.49,566.81L385.39,566.81L381.44,560.01ZM377.74,569.96L385.64,569.96L381.69,563.16ZM377.93,573.10L385.83,573.10L381.88,566.30ZM377.92,576.25L385.82,576.25L381.87,569.45ZM378.69,579.39L386.59,579.39L382.64,572.59ZM377.89,582.54L385.79,582.54L381.84,575.74ZM378.25,585.68L386.15,585.68L382.20,578.88ZM377.70,588.83L385.60,588.83L381.65,582.03ZM377.99,591.97L385.89,591.97L381.94,585.17ZM377.43,595.12L385.33,595.12L381.38,588.32ZM377.83,598.26L385.73,598.26L381.78,591.46ZM377.43,601.41L385.33,601.41L381.38,594.61ZM406.63,583.03L414.53,583.03L410.58,576.23ZM406.74,586.09L414.64,586.09L410.69,579.29ZM407.32,589.16L415.22,589.16L411.27,582.36ZM406.57,592.22L414.47,592.22L410.52,585.42ZM406.76,595.28L414.66,595.28L410.71,588.48ZM407.07,598.35L414.97,598.35L411.02,591.55ZM407.57,601.41L415.47,601.41L411.52,594.61ZM434.88,539.79L442.78,539.79L438.83,532.99ZM434.81,551.68L442.71,551.68L438.76,544.88ZM434.90,559.25L442.80,559.25L438.85,552.45ZM435.18,562.26L443.08,562.26L439.13,555.46ZM434.67,565.27L442.57,565.27L438.62,558.47ZM435.16,568.28L443.06,568.28L439.11,561.48ZM434.85,571.29L442.75,571.29L438.80,564.49ZM436.04,574.30L443.94,574.30L439.99,567.50ZM436.05,577.32L443.95,577.32L440.00,570.52ZM435.33,580.33L443.23,580.33L439.28,573.53ZM434.82,583.34L442.72,583.34L438.77,576.54ZM436.04,586.35L443.94,586.35L439.99,579.55ZM434.93,589.36L442.83,589.36L438.88,582.56ZM435.01,592.37L442.91,592.37L438.96,585.57ZM434.40,595.38L442.30,595.38L438.35,588.58ZM435.05,598.40L442.95,598.40L439.00,591.60ZM435.21,601.41L443.11,601.41L439.16,594.61ZM463.42,578.71L471.32,578.71L467.37,571.91ZM463.30,581.54L471.20,581.54L467.25,574.74ZM463.90,584.38L471.80,584.38L467.85,577.58ZM463.80,587.22L471.70,587.22L467.75,580.42ZM464.18,590.06L472.08,590.06L468.13,583.26ZM464.02,592.89L471.92,592.89L467.97,586.09ZM464.12,595.73L472.02,595.73L468.07,588.93ZM464.39,598.57L472.29,598.57L468.34,591.77ZM463.56,601.41L471.46,601.41L467.51,594.61ZM492.56,561.41L500.46,561.41L496.51,554.61ZM492.58,564.49L500.48,564.49L496.53,557.69ZM491.79,567.56L499.69,567.56L495.74,560.76ZM491.45,570.64L499.35,570.64L495.40,563.84ZM491.63,573.72L499.53,573.72L495.58,566.92ZM492.01,576.79L499.91,576.79L495.96,569.99ZM491.58,579.87L499.48,579.87L495.53,573.07ZM492.82,582.95L500.72,582.95L496.77,576.15ZM492.35,586.02L500.25,586.02L496.30,579.22ZM492.47,589.10L500.37,589.10L496.42,582.30ZM492.46,592.18L500.36,592.18L496.41,585.38ZM492.56,595.25L500.46,595.25L496.51,588.45ZM492.23,598.33L500.13,598.33L496.18,591.53ZM491.41,601.41L499.31,601.41L495.36,594.61ZM521.16,560.33L529.06,560.33L525.11,553.53ZM521.56,566.81L529.46,566.81L525.51,560.01ZM520.74,569.96L528.64,569.96L524.69,563.16ZM520.55,573.10L528.45,573.10L524.50,566.30ZM520.71,576.25L528.61,576.25L524.66,569.45ZM521.06,579.39L528.96,579.39L525.01,572.59ZM521.20,582.54L529.10,582.54L525.15,575.74ZM520.95,585.68L528.85,585.68L524.90,578.88ZM520.99,588.83L528.89,588.83L524.94,582.03ZM520.03,591.97L527.93,591.97L523.98,585.17ZM520.15,595.12L528.05,595.12L524.10,588.32ZM520.33,598.26L528.23,598.26L524.28,591.46ZM521.16,601.41L529.06,601.41L525.11,594.61ZM548.89,587.35L556.79,587.35L552.84,580.55ZM549.28,590.16L557.18,590.16L553.23,583.36ZM549.19,592.98L557.09,592.98L553.14,586.18ZM549.19,595.79L557.09,595.79L553.14,588.99ZM548.60,598.60L556.50,598.60L552.55,591.80ZM549.92,601.41L557.82,601.41L553.87,594.61ZM578.29,492.22L586.19,492.22L582.24,485.42ZM577.76,538.71L585.66,538.71L581.71,531.91ZM578.41,541.52L586.31,541.52L582.36,534.72ZM578.10,544.33L586.00,544.33L582.05,537.53ZM577.29,547.14L585.19,547.14L581.24,540.34ZM578.43,549.95L586.33,549.95L582.38,543.15ZM577.73,552.76L585.63,552.76L581.68,545.96ZM576.94,556.00L584.84,556.00L580.89,549.20ZM576.91,559.03L584.81,559.03L580.86,552.23ZM577.74,562.06L585.64,562.06L581.69,555.26ZM577.67,565.08L585.57,565.08L581.62,558.28ZM577.41,568.11L585.31,568.11L581.36,561.31ZM577.14,571.14L585.04,571.14L581.09,564.34ZM577.48,574.16L585.38,574.16L581.43,567.36ZM577.44,577.19L585.34,577.19L581.39,570.39ZM578.33,580.22L586.23,580.22L582.28,573.42ZM576.90,583.25L584.80,583.25L580.85,576.45ZM578.18,586.27L586.08,586.27L582.13,579.47ZM578.33,589.30L586.23,589.30L582.28,582.50ZM577.10,592.33L585.00,592.33L581.05,585.53ZM578.47,595.35L586.37,595.35L582.42,588.55ZM578.11,598.38L586.01,598.38L582.06,591.58ZM578.43,601.41L586.33,601.41L582.38,594.61ZM605.82,561.41L613.72,561.41L609.77,554.61ZM605.85,564.49L613.75,564.49L609.80,557.69ZM606.27,567.56L614.17,567.56L610.22,560.76ZM605.72,570.64L613.62,570.64L609.67,563.84ZM606.03,573.72L613.93,573.72L609.98,566.92ZM607.03,576.79L614.93,576.79L610.98,569.99ZM606.90,579.87L614.80,579.87L610.85,573.07ZM606.78,582.95L614.68,582.95L610.73,576.15ZM606.47,586.02L614.37,586.02L610.42,579.22ZM606.95,589.10L614.85,589.10L610.90,582.30ZM607.00,592.18L614.90,592.18L610.95,585.38ZM606.33,595.25L614.23,595.25L610.28,588.45ZM606.62,598.33L614.52,598.33L610.57,591.53ZM605.48,601.41L613.38,601.41L609.43,594.61ZM634.70,563.57L642.60,563.57L638.65,556.77ZM634.48,584.11L642.38,584.11L638.43,577.31ZM634.41,586.99L642.31,586.99L638.36,580.19ZM635.16,589.88L643.06,589.88L639.11,583.08ZM635.56,592.76L643.46,592.76L639.51,585.96ZM634.34,595.64L642.24,595.64L638.29,588.84ZM635.02,598.53L642.92,598.53L638.97,591.73ZM634.41,601.41L642.31,601.41L638.36,594.61ZM662.77,571.14L670.67,571.14L666.72,564.34ZM663.94,587.35L671.84,587.35L667.89,580.55ZM664.09,590.16L671.99,590.16L668.04,583.36ZM663.16,592.98L671.06,592.98L667.11,586.18ZM662.64,595.79L670.54,595.79L666.59,588.99ZM662.73,598.60L670.63,598.60L666.68,591.80ZM662.55,601.41L670.45,601.41L666.50,594.61Z" fill="#ff7f0e"/><path d="M456.6,548.4 L456.6,535.4 L468.5,535.4 L468.5,566.8" fill="none" stroke="#000" stroke-width="1.6"/><path d="M485.4,525.7 L485.4,512.7 L497.0,512.7 L497.0,544.0" fill="none" stroke="#000" stroke-width="1.6"/><text x="462.40" y="526.80" font-size="9.4" text-anchor="middle" fill="#1e1e1e" >0.08</text><text x="490.80" y="504.50" font-size="9.4" text-anchor="middle" fill="#1e1e1e" >0.02</text><text x="68.20" y="610.40" font-size="8.74" text-anchor="end" fill="#161616" transform="rotate(-45 68.20 610.40)">B_cells_naive</text><text x="96.70" y="610.40" font-size="9.08" text-anchor="end" fill="#161616" transform="rotate(-45 96.70 610.40)">B_cells_memory</text><text x="125.20" y="610.40" font-size="8.98" text-anchor="end" fill="#161616" transform="rotate(-45 125.20 610.40)">Plasma_cells</text><text x="153.70" y="610.40" font-size="9.4" text-anchor="end" fill="#161616" transform="rotate(-45 153.70 610.40)">T_cells_CD8</text><text x="182.20" y="610.40" font-size="9.19" text-anchor="end" fill="#161616" transform="rotate(-45 182.20 610.40)">T_cells_CD4_naive</text><text x="210.70" y="610.40" font-size="9.18" text-anchor="end" fill="#161616" transform="rotate(-45 210.70 610.40)">T_cells_CD4_memory_resting</text><text x="239.20" y="610.40" font-size="9.26" text-anchor="end" fill="#161616" transform="rotate(-45 239.20 610.40)">T_cells_CD4_memory_activated</text><text x="267.70" y="610.40" font-size="8.93" text-anchor="end" fill="#161616" transform="rotate(-45 267.70 610.40)">T<tspan font-size="6.5" dy="2.2">FH</tspan><tspan dy="-2.2"> cells</tspan></text><text x="296.20" y="610.40" font-size="9.4" text-anchor="end" fill="#161616" transform="rotate(-45 296.20 610.40)">T<tspan font-size="6.5" dy="2.2">reg</tspan></text><text x="324.70" y="610.40" font-size="9.4" text-anchor="end" fill="#161616" transform="rotate(-45 324.70 610.40)">γδ T cells</text><text x="353.20" y="610.40" font-size="9.21" text-anchor="end" fill="#161616" transform="rotate(-45 353.20 610.40)">NK_cells_resting</text><text x="381.70" y="610.40" font-size="9.4" text-anchor="end" fill="#161616" transform="rotate(-45 381.70 610.40)">NK_cells_activated</text><text x="410.20" y="610.40" font-size="9.59" text-anchor="end" fill="#161616" transform="rotate(-45 410.20 610.40)">Monocytes</text><text x="438.70" y="610.40" font-size="9.54" text-anchor="end" fill="#161616" transform="rotate(-45 438.70 610.40)">Macrophages_M0</text><text x="467.20" y="610.40" font-size="9.4" text-anchor="end" fill="#161616" transform="rotate(-45 467.20 610.40)">Macrophages_M1</text><text x="495.70" y="610.40" font-size="9.4" text-anchor="end" fill="#161616" transform="rotate(-45 495.70 610.40)">Macrophages_M2</text><text x="524.20" y="610.40" font-size="9.49" text-anchor="end" fill="#161616" transform="rotate(-45 524.20 610.40)">Dendritic_cells_resting</text><text x="552.70" y="610.40" font-size="9.59" text-anchor="end" fill="#161616" transform="rotate(-45 552.70 610.40)">Dendritic_cells_activated</text><text x="581.20" y="610.40" font-size="9.4" text-anchor="end" fill="#161616" transform="rotate(-45 581.20 610.40)">Mast_cells_resting</text><text x="609.70" y="610.40" font-size="9.49" text-anchor="end" fill="#161616" transform="rotate(-45 609.70 610.40)">Mast_cells_activated</text><text x="638.20" y="610.40" font-size="9.59" text-anchor="end" fill="#161616" transform="rotate(-45 638.20 610.40)">Eosinophils</text><text x="666.70" y="610.40" font-size="9.59" text-anchor="end" fill="#161616" transform="rotate(-45 666.70 610.40)">Neutrophils</text>
</svg></body></html>
